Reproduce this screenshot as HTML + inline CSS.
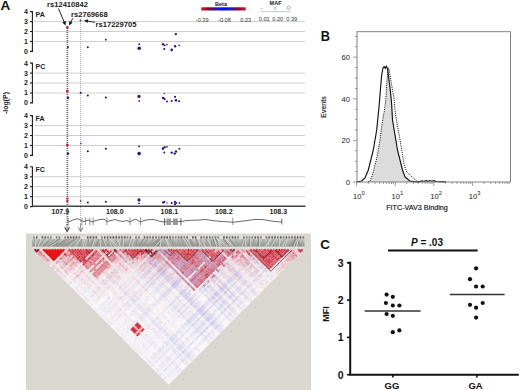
<!DOCTYPE html>
<html><head><meta charset="utf-8"><style>
html,body{margin:0;padding:0;background:#fff;width:520px;height:390px;overflow:hidden}
svg{display:block;font-family:"Liberation Sans",sans-serif}
</style></head><body>
<svg width="520" height="390" viewBox="0 0 520 390">
<rect width="520" height="390" fill="#fff"/>
<text x="0.5" y="10.4" font-size="13.5" font-weight="bold" font-family="Liberation Sans, sans-serif" fill="#111">A</text>
<line x1="34" y1="41.5" x2="305" y2="41.5" stroke="#cfcfcf" stroke-width="1"/>
<line x1="34" y1="31.5" x2="305" y2="31.5" stroke="#cfcfcf" stroke-width="1"/>
<line x1="34" y1="21.6" x2="305" y2="21.6" stroke="#cfcfcf" stroke-width="1"/>
<path d="M30 11.6 H32.4 V51.4 H30" fill="none" stroke="#1a1a1a" stroke-width="1.1"/>
<line x1="30" y1="41.5" x2="32.4" y2="41.5" stroke="#1a1a1a" stroke-width="1.1"/>
<line x1="30" y1="31.5" x2="32.4" y2="31.5" stroke="#1a1a1a" stroke-width="1.1"/>
<line x1="30" y1="21.6" x2="32.4" y2="21.6" stroke="#1a1a1a" stroke-width="1.1"/>
<text x="28" y="53.8" font-size="7" font-weight="bold" text-anchor="end" font-family="Liberation Sans, sans-serif" fill="#222">0</text>
<text x="28" y="43.9" font-size="7" font-weight="bold" text-anchor="end" font-family="Liberation Sans, sans-serif" fill="#222">1</text>
<text x="28" y="33.9" font-size="7" font-weight="bold" text-anchor="end" font-family="Liberation Sans, sans-serif" fill="#222">2</text>
<text x="28" y="23.9" font-size="7" font-weight="bold" text-anchor="end" font-family="Liberation Sans, sans-serif" fill="#222">3</text>
<text x="28" y="14.0" font-size="7" font-weight="bold" text-anchor="end" font-family="Liberation Sans, sans-serif" fill="#222">4</text>
<text x="35.5" y="17.0" font-size="7" font-weight="bold" font-family="Liberation Sans, sans-serif" fill="#1a1a1a">PA</text>
<line x1="34" y1="93.0" x2="305" y2="93.0" stroke="#cfcfcf" stroke-width="1"/>
<line x1="34" y1="83.0" x2="305" y2="83.0" stroke="#cfcfcf" stroke-width="1"/>
<line x1="34" y1="73.1" x2="305" y2="73.1" stroke="#cfcfcf" stroke-width="1"/>
<path d="M30 63.1 H32.4 V102.9 H30" fill="none" stroke="#1a1a1a" stroke-width="1.1"/>
<line x1="30" y1="93.0" x2="32.4" y2="93.0" stroke="#1a1a1a" stroke-width="1.1"/>
<line x1="30" y1="83.0" x2="32.4" y2="83.0" stroke="#1a1a1a" stroke-width="1.1"/>
<line x1="30" y1="73.1" x2="32.4" y2="73.1" stroke="#1a1a1a" stroke-width="1.1"/>
<text x="28" y="105.3" font-size="7" font-weight="bold" text-anchor="end" font-family="Liberation Sans, sans-serif" fill="#222">0</text>
<text x="28" y="95.4" font-size="7" font-weight="bold" text-anchor="end" font-family="Liberation Sans, sans-serif" fill="#222">1</text>
<text x="28" y="85.4" font-size="7" font-weight="bold" text-anchor="end" font-family="Liberation Sans, sans-serif" fill="#222">2</text>
<text x="28" y="75.5" font-size="7" font-weight="bold" text-anchor="end" font-family="Liberation Sans, sans-serif" fill="#222">3</text>
<text x="28" y="65.5" font-size="7" font-weight="bold" text-anchor="end" font-family="Liberation Sans, sans-serif" fill="#222">4</text>
<text x="35.5" y="68.5" font-size="7" font-weight="bold" font-family="Liberation Sans, sans-serif" fill="#1a1a1a">PC</text>
<line x1="34" y1="145.5" x2="305" y2="145.5" stroke="#cfcfcf" stroke-width="1"/>
<line x1="34" y1="135.5" x2="305" y2="135.5" stroke="#cfcfcf" stroke-width="1"/>
<line x1="34" y1="125.6" x2="305" y2="125.6" stroke="#cfcfcf" stroke-width="1"/>
<path d="M30 115.6 H32.4 V155.4 H30" fill="none" stroke="#1a1a1a" stroke-width="1.1"/>
<line x1="30" y1="145.5" x2="32.4" y2="145.5" stroke="#1a1a1a" stroke-width="1.1"/>
<line x1="30" y1="135.5" x2="32.4" y2="135.5" stroke="#1a1a1a" stroke-width="1.1"/>
<line x1="30" y1="125.6" x2="32.4" y2="125.6" stroke="#1a1a1a" stroke-width="1.1"/>
<text x="28" y="157.8" font-size="7" font-weight="bold" text-anchor="end" font-family="Liberation Sans, sans-serif" fill="#222">0</text>
<text x="28" y="147.9" font-size="7" font-weight="bold" text-anchor="end" font-family="Liberation Sans, sans-serif" fill="#222">1</text>
<text x="28" y="137.9" font-size="7" font-weight="bold" text-anchor="end" font-family="Liberation Sans, sans-serif" fill="#222">2</text>
<text x="28" y="128.0" font-size="7" font-weight="bold" text-anchor="end" font-family="Liberation Sans, sans-serif" fill="#222">3</text>
<text x="28" y="118.0" font-size="7" font-weight="bold" text-anchor="end" font-family="Liberation Sans, sans-serif" fill="#222">4</text>
<text x="35.5" y="121.0" font-size="7" font-weight="bold" font-family="Liberation Sans, sans-serif" fill="#1a1a1a">FA</text>
<line x1="34" y1="196.7" x2="305" y2="196.7" stroke="#cfcfcf" stroke-width="1"/>
<line x1="34" y1="186.7" x2="305" y2="186.7" stroke="#cfcfcf" stroke-width="1"/>
<line x1="34" y1="176.8" x2="305" y2="176.8" stroke="#cfcfcf" stroke-width="1"/>
<path d="M30 166.8 H32.4 V206.6 H30" fill="none" stroke="#1a1a1a" stroke-width="1.1"/>
<line x1="30" y1="196.7" x2="32.4" y2="196.7" stroke="#1a1a1a" stroke-width="1.1"/>
<line x1="30" y1="186.7" x2="32.4" y2="186.7" stroke="#1a1a1a" stroke-width="1.1"/>
<line x1="30" y1="176.8" x2="32.4" y2="176.8" stroke="#1a1a1a" stroke-width="1.1"/>
<text x="28" y="209.0" font-size="7" font-weight="bold" text-anchor="end" font-family="Liberation Sans, sans-serif" fill="#222">0</text>
<text x="28" y="199.1" font-size="7" font-weight="bold" text-anchor="end" font-family="Liberation Sans, sans-serif" fill="#222">1</text>
<text x="28" y="189.1" font-size="7" font-weight="bold" text-anchor="end" font-family="Liberation Sans, sans-serif" fill="#222">2</text>
<text x="28" y="179.2" font-size="7" font-weight="bold" text-anchor="end" font-family="Liberation Sans, sans-serif" fill="#222">3</text>
<text x="28" y="169.2" font-size="7" font-weight="bold" text-anchor="end" font-family="Liberation Sans, sans-serif" fill="#222">4</text>
<text x="35.5" y="172.2" font-size="7" font-weight="bold" font-family="Liberation Sans, sans-serif" fill="#1a1a1a">FC</text>
<line x1="32" y1="206.2" x2="305.5" y2="206.2" stroke="#444" stroke-width="1.6"/>
<text x="60.3" y="214" font-size="7" font-weight="bold" text-anchor="middle" font-family="Liberation Sans, sans-serif" fill="#222">107.9</text>
<text x="114.8" y="214" font-size="7" font-weight="bold" text-anchor="middle" font-family="Liberation Sans, sans-serif" fill="#222">108.0</text>
<text x="169.3" y="214" font-size="7" font-weight="bold" text-anchor="middle" font-family="Liberation Sans, sans-serif" fill="#222">108.1</text>
<text x="223.8" y="214" font-size="7" font-weight="bold" text-anchor="middle" font-family="Liberation Sans, sans-serif" fill="#222">108.2</text>
<text x="278.3" y="214" font-size="7" font-weight="bold" text-anchor="middle" font-family="Liberation Sans, sans-serif" fill="#222">108.3</text>
<text transform="translate(8.3,103) rotate(-90)" font-size="7" font-weight="bold" text-anchor="middle" font-family="Liberation Sans, sans-serif" fill="#222">-log(P)</text>
<line x1="67.4" y1="26" x2="67.4" y2="226" stroke="#6a6a6a" stroke-width="1.7" stroke-dasharray="1,1"/>
<line x1="80.5" y1="19" x2="80.5" y2="226" stroke="#777" stroke-width="0.6" stroke-dasharray="1,1"/>
<text x="47" y="7.3" font-size="7.6" font-weight="bold" font-family="Liberation Sans, sans-serif" fill="#1a1a1a">rs12410842</text>
<text x="71" y="16.6" font-size="7.6" font-weight="bold" font-family="Liberation Sans, sans-serif" fill="#1a1a1a">rs2769668</text>
<text x="95.5" y="26.6" font-size="7.6" font-weight="bold" font-family="Liberation Sans, sans-serif" fill="#1a1a1a">rs17229705</text>
<line x1="58.5" y1="8.5" x2="64.28" y2="22.27" stroke="#111" stroke-width="0.9"/>
<path d="M65.60 25.40 L62.34 22.54 L65.84 21.07 Z" fill="#111"/>
<line x1="72.8" y1="18.3" x2="70.67" y2="22.38" stroke="#111" stroke-width="0.9"/>
<path d="M69.10 25.40 L69.22 21.06 L72.59 22.82 Z" fill="#111"/>
<line x1="95" y1="22.3" x2="87.36" y2="21.05" stroke="#111" stroke-width="0.9"/>
<path d="M84.00 20.50 L88.16 19.25 L87.54 23.00 Z" fill="#111"/>
<text x="221" y="5.6" font-size="5.6" font-weight="bold" text-anchor="middle" font-family="Liberation Sans, sans-serif" fill="#222">Beta</text>
<defs><linearGradient id="bg" x1="0" x2="1"><stop offset="0" stop-color="#e0101a"/><stop offset="0.18" stop-color="#7a0838"/><stop offset="0.36" stop-color="#1818c8"/><stop offset="0.5" stop-color="#0a0af0"/><stop offset="0.64" stop-color="#1818c8"/><stop offset="0.82" stop-color="#7a0838"/><stop offset="1" stop-color="#e0101a"/></linearGradient></defs>
<rect x="201.3" y="7.3" width="44.4" height="3.2" fill="url(#bg)"/>
<line x1="201.6" y1="10.4" x2="201.6" y2="12" stroke="#999" stroke-width="0.4"/>
<line x1="222.8" y1="10.4" x2="222.8" y2="12" stroke="#999" stroke-width="0.4"/>
<line x1="245.2" y1="10.4" x2="245.2" y2="12" stroke="#999" stroke-width="0.4"/>
<text x="202.2" y="22" font-size="5.6" text-anchor="middle" font-family="Liberation Sans, sans-serif" fill="#333">-0.39</text>
<text x="224.4" y="22" font-size="5.6" text-anchor="middle" font-family="Liberation Sans, sans-serif" fill="#333">-0.08</text>
<text x="245.8" y="22" font-size="5.6" text-anchor="middle" font-family="Liberation Sans, sans-serif" fill="#333">0.23</text>
<text x="275.6" y="5.1" font-size="5.6" font-weight="bold" text-anchor="middle" font-family="Liberation Sans, sans-serif" fill="#222">MAF</text>
<line x1="261" y1="11.6" x2="289.5" y2="11.6" stroke="#999" stroke-width="0.5"/>
<line x1="261.3" y1="10.8" x2="261.3" y2="12.4" stroke="#999" stroke-width="0.4"/>
<line x1="275.1" y1="10.8" x2="275.1" y2="12.4" stroke="#999" stroke-width="0.4"/>
<line x1="289" y1="10.8" x2="289" y2="12.4" stroke="#999" stroke-width="0.4"/>
<circle cx="261.3" cy="8.5" r="0.6" fill="none" stroke="#888" stroke-width="0.4"/>
<circle cx="275.1" cy="8.3" r="1" fill="none" stroke="#888" stroke-width="0.45"/>
<circle cx="288.7" cy="7.6" r="1.6" fill="none" stroke="#666" stroke-width="0.5"/>
<text x="264.2" y="20.8" font-size="5.6" text-anchor="middle" font-family="Liberation Sans, sans-serif" fill="#333">0.01</text>
<text x="277.8" y="20.8" font-size="5.6" text-anchor="middle" font-family="Liberation Sans, sans-serif" fill="#333">0.20</text>
<text x="291.8" y="20.8" font-size="5.6" text-anchor="middle" font-family="Liberation Sans, sans-serif" fill="#333">0.39</text>
<circle cx="67.3" cy="27.4" r="1.25" fill="#b81830"/>
<circle cx="80.5" cy="20.5" r="0.95" fill="#a02038"/>
<circle cx="68" cy="47" r="1.1" fill="#28187f"/>
<circle cx="87.8" cy="47.2" r="1.0" fill="#28187f"/>
<circle cx="105.8" cy="39.7" r="0.9" fill="#1c1450"/>
<circle cx="139.2" cy="44.2" r="0.9" fill="#1c1450"/>
<circle cx="139.2" cy="48.3" r="1.8" fill="#28187f"/>
<circle cx="163" cy="44.2" r="1.2" fill="#28187f"/>
<circle cx="164.7" cy="45.3" r="0.9" fill="#1c1450"/>
<circle cx="167" cy="44.6" r="0.85" fill="#5a2838"/>
<circle cx="164.3" cy="49" r="1.1" fill="#28187f"/>
<circle cx="171.7" cy="49.9" r="1.3" fill="#28187f"/>
<circle cx="175.1" cy="46.2" r="1.2" fill="#28187f"/>
<circle cx="179.1" cy="45.3" r="0.9" fill="#5a2838"/>
<circle cx="175.8" cy="34.1" r="1.2" fill="#28187f"/>
<circle cx="67.3" cy="91" r="1.4" fill="#d0203a"/>
<circle cx="68" cy="98" r="1.2" fill="#28187f"/>
<circle cx="80.7" cy="93" r="1.0" fill="#1c1450"/>
<circle cx="87.8" cy="95.4" r="1.0" fill="#1c1450"/>
<circle cx="105.8" cy="97.4" r="1.0" fill="#1c1450"/>
<circle cx="139" cy="96.4" r="1.6" fill="#28187f"/>
<circle cx="139.2" cy="101.1" r="0.9" fill="#28187f"/>
<circle cx="164.3" cy="93.5" r="0.8" fill="#5a2838"/>
<circle cx="163" cy="97.9" r="1.2" fill="#28187f"/>
<circle cx="164.5" cy="98.9" r="1.1" fill="#28187f"/>
<circle cx="167" cy="101.5" r="1.0" fill="#28187f"/>
<circle cx="171.7" cy="101.1" r="1.0" fill="#28187f"/>
<circle cx="175" cy="96.8" r="1.1" fill="#28187f"/>
<circle cx="176" cy="100.2" r="1.3" fill="#28187f"/>
<circle cx="179.1" cy="101.3" r="1.0" fill="#28187f"/>
<circle cx="67.3" cy="144.9" r="1.4" fill="#d0203a"/>
<circle cx="80.8" cy="143.5" r="0.9" fill="#d0203a"/>
<circle cx="87.8" cy="151.2" r="1.0" fill="#1c1450"/>
<circle cx="105.8" cy="148.8" r="1.0" fill="#1c1450"/>
<circle cx="68" cy="153.8" r="1.2" fill="#28187f"/>
<circle cx="139.1" cy="146.4" r="0.9" fill="#28187f"/>
<circle cx="139.1" cy="153.6" r="1.8" fill="#28187f"/>
<circle cx="163" cy="148.6" r="1.3" fill="#28187f"/>
<circle cx="164.7" cy="147.2" r="1.1" fill="#28187f"/>
<circle cx="167" cy="146.8" r="0.9" fill="#5a2838"/>
<circle cx="164.3" cy="152.5" r="1.0" fill="#28187f"/>
<circle cx="171.7" cy="152.6" r="1.2" fill="#28187f"/>
<circle cx="174.7" cy="153.6" r="1.2" fill="#28187f"/>
<circle cx="176" cy="151.5" r="1.2" fill="#28187f"/>
<circle cx="179.4" cy="148.8" r="1.05" fill="#302838"/>
<circle cx="67.3" cy="198.6" r="1.2" fill="#d0203a"/>
<circle cx="67.3" cy="200.9" r="1.2" fill="#d0203a"/>
<circle cx="80.7" cy="200.8" r="0.9" fill="#d0203a"/>
<circle cx="87.8" cy="202.5" r="1.0" fill="#1c1450"/>
<circle cx="105.8" cy="201.7" r="1.0" fill="#1c1450"/>
<circle cx="139" cy="199.9" r="1.6" fill="#28187f"/>
<circle cx="139" cy="203.3" r="0.9" fill="#28187f"/>
<circle cx="163" cy="202.5" r="1.1" fill="#28187f"/>
<circle cx="164.3" cy="201.9" r="1.1" fill="#28187f"/>
<circle cx="167" cy="202.9" r="0.7" fill="#28187f"/>
<circle cx="171.7" cy="202.9" r="1.0" fill="#28187f"/>
<circle cx="175" cy="201.9" r="1.1" fill="#28187f"/>
<circle cx="175" cy="204.2" r="1.1" fill="#28187f"/>
<circle cx="176.4" cy="202.9" r="0.9" fill="#28187f"/>
<circle cx="179.4" cy="203.1" r="0.9" fill="#28187f"/>
<polyline points="67,220.5 70,221.5 74,219.5 78,218.8 81,220.5 84,221.5 88,220 92,221.8 96,220.5 100,219.5 104,219.2 107,221.5 111,220.5 115,219.5 119,220.8 123,221.5 127,220.5 130,222 133,220.2 136,219.2 140,222 144,220.5 148,219.8 152,219.5 156,220 160,221.5 163,221.8 182,221.5 186,220.5 200,220 205,219.4 212,220.5 220,221.4 228,221.8 233,222.3 240,221.4 248,220.5 254,219.5 262,219.5 270,220.8 276,221.6 282,222" fill="none" stroke="#444" stroke-width="0.8"/>
<line x1="68.1" y1="217.5" x2="68.1" y2="225" stroke="#666" stroke-width="0.7"/>
<line x1="81.9" y1="217.5" x2="81.9" y2="225" stroke="#666" stroke-width="0.7"/>
<line x1="85.6" y1="217.5" x2="85.6" y2="225" stroke="#666" stroke-width="0.7"/>
<line x1="89.8" y1="217.5" x2="89.8" y2="225" stroke="#666" stroke-width="0.7"/>
<line x1="93.1" y1="217.5" x2="93.1" y2="225" stroke="#666" stroke-width="0.7"/>
<line x1="106.9" y1="217.5" x2="106.9" y2="225" stroke="#666" stroke-width="0.7"/>
<line x1="130" y1="217.5" x2="130" y2="225" stroke="#666" stroke-width="0.7"/>
<line x1="140.5" y1="217.5" x2="140.5" y2="225" stroke="#666" stroke-width="0.7"/>
<line x1="232.8" y1="217.5" x2="232.8" y2="225" stroke="#666" stroke-width="0.7"/>
<rect x="166.3" y="218.6" width="4.8" height="6.4" fill="#a4a4a4"/>
<rect x="172.8" y="218.6" width="5" height="6.4" fill="#a0a0a0"/>
<rect x="167.5" y="218.6" width="0.7" height="6.4" fill="#888"/>
<rect x="169.6" y="218.6" width="0.7" height="6.4" fill="#888"/>
<rect x="174" y="218.6" width="0.7" height="6.4" fill="#888"/>
<rect x="176.3" y="218.6" width="0.7" height="6.4" fill="#888"/>
<line x1="164.6" y1="218.2" x2="164.6" y2="225.4" stroke="#444" stroke-width="0.9"/>
<line x1="180.9" y1="218.2" x2="180.9" y2="225.4" stroke="#444" stroke-width="0.9"/>
<line x1="281.8" y1="218.5" x2="281.8" y2="224.5" stroke="#444" stroke-width="0.8"/>
<line x1="67.1" y1="224" x2="67.1" y2="231" stroke="#555" stroke-width="0.8"/>
<path d="M64.69999999999999 227.3 L67.1 231.5 L69.5 227.3" fill="none" stroke="#555" stroke-width="1.3"/>
<line x1="80.7" y1="224" x2="80.7" y2="231" stroke="#6a6a6a" stroke-width="0.8"/>
<path d="M78.3 227.3 L80.7 231.5 L83.10000000000001 227.3" fill="none" stroke="#6a6a6a" stroke-width="0.9"/>
<rect x="26" y="233.5" width="285" height="157" fill="#dad6d0"/>
<defs><clipPath id="bandc"><rect x="31.7" y="238.8" width="273" height="8"/></clipPath></defs>
<rect x="31.7" y="236" width="273" height="2.8" fill="#e2e2de"/>
<g clip-path="url(#bandc)">
<defs><linearGradient id="bandg" x1="0" y1="0" x2="0" y2="1"><stop offset="0" stop-color="#c6c8c4"/><stop offset="1" stop-color="#8e908c"/></linearGradient></defs>
<rect x="31.7" y="238.8" width="273" height="8" fill="url(#bandg)"/>
<line x1="34.9" y1="238.8" x2="33.9" y2="246.8" stroke="#a4a6a4" stroke-width="1.1"/>
<line x1="39.7" y1="238.8" x2="36.8" y2="246.8" stroke="#98a89c" stroke-width="1.1"/>
<line x1="44.7" y1="238.8" x2="39.6" y2="246.8" stroke="#a8949c" stroke-width="1.1"/>
<line x1="50.8" y1="238.8" x2="42.4" y2="246.8" stroke="#969a96" stroke-width="1.1"/>
<line x1="55.0" y1="238.8" x2="45.3" y2="246.8" stroke="#a4a6a4" stroke-width="1.1"/>
<line x1="60.6" y1="238.8" x2="48.1" y2="246.8" stroke="#8a8e8a" stroke-width="1.1"/>
<line x1="58.7" y1="238.8" x2="50.9" y2="246.8" stroke="#8a8e8a" stroke-width="1.1"/>
<line x1="60.8" y1="238.8" x2="53.8" y2="246.8" stroke="#868886" stroke-width="1.1"/>
<line x1="66.7" y1="238.8" x2="56.6" y2="246.8" stroke="#868886" stroke-width="1.1"/>
<line x1="70.1" y1="238.8" x2="59.4" y2="246.8" stroke="#a8949c" stroke-width="1.1"/>
<line x1="75.4" y1="238.8" x2="62.3" y2="246.8" stroke="#8a8e8a" stroke-width="1.1"/>
<line x1="74.2" y1="238.8" x2="65.1" y2="246.8" stroke="#969a96" stroke-width="1.1"/>
<line x1="76.1" y1="238.8" x2="68.0" y2="246.8" stroke="#a4a6a4" stroke-width="1.1"/>
<line x1="76.3" y1="238.8" x2="70.8" y2="246.8" stroke="#868886" stroke-width="1.1"/>
<line x1="79.1" y1="238.8" x2="73.6" y2="246.8" stroke="#98a89c" stroke-width="1.1"/>
<line x1="82.2" y1="238.8" x2="76.5" y2="246.8" stroke="#98a89c" stroke-width="1.1"/>
<line x1="80.6" y1="238.8" x2="79.3" y2="246.8" stroke="#a8949c" stroke-width="1.1"/>
<line x1="81.1" y1="238.8" x2="82.1" y2="246.8" stroke="#a4a6a4" stroke-width="1.1"/>
<line x1="82.2" y1="238.8" x2="85.0" y2="246.8" stroke="#a8949c" stroke-width="1.1"/>
<line x1="88.6" y1="238.8" x2="87.8" y2="246.8" stroke="#969a96" stroke-width="1.1"/>
<line x1="93.6" y1="238.8" x2="90.6" y2="246.8" stroke="#8a8e8a" stroke-width="1.1"/>
<line x1="93.4" y1="238.8" x2="93.5" y2="246.8" stroke="#a4a6a4" stroke-width="1.1"/>
<line x1="98.7" y1="238.8" x2="96.3" y2="246.8" stroke="#8a8e8a" stroke-width="1.1"/>
<line x1="98.4" y1="238.8" x2="99.2" y2="246.8" stroke="#a8949c" stroke-width="1.1"/>
<line x1="102.3" y1="238.8" x2="102.0" y2="246.8" stroke="#98a89c" stroke-width="1.1"/>
<line x1="102.0" y1="238.8" x2="104.8" y2="246.8" stroke="#969a96" stroke-width="1.1"/>
<line x1="101.0" y1="238.8" x2="107.7" y2="246.8" stroke="#969a96" stroke-width="1.1"/>
<line x1="107.3" y1="238.8" x2="110.5" y2="246.8" stroke="#a4a6a4" stroke-width="1.1"/>
<line x1="108.0" y1="238.8" x2="113.3" y2="246.8" stroke="#868886" stroke-width="1.1"/>
<line x1="108.9" y1="238.8" x2="116.2" y2="246.8" stroke="#969a96" stroke-width="1.1"/>
<line x1="116.2" y1="238.8" x2="119.0" y2="246.8" stroke="#a4a6a4" stroke-width="1.1"/>
<line x1="122.3" y1="238.8" x2="121.8" y2="246.8" stroke="#a8949c" stroke-width="1.1"/>
<line x1="123.3" y1="238.8" x2="124.7" y2="246.8" stroke="#8a8e8a" stroke-width="1.1"/>
<line x1="130.1" y1="238.8" x2="127.5" y2="246.8" stroke="#969a96" stroke-width="1.1"/>
<line x1="133.0" y1="238.8" x2="130.4" y2="246.8" stroke="#a8949c" stroke-width="1.1"/>
<line x1="137.1" y1="238.8" x2="133.2" y2="246.8" stroke="#98a89c" stroke-width="1.1"/>
<line x1="137.3" y1="238.8" x2="136.0" y2="246.8" stroke="#969a96" stroke-width="1.1"/>
<line x1="143.6" y1="238.8" x2="138.9" y2="246.8" stroke="#8a8e8a" stroke-width="1.1"/>
<line x1="147.7" y1="238.8" x2="141.7" y2="246.8" stroke="#a8949c" stroke-width="1.1"/>
<line x1="153.9" y1="238.8" x2="144.5" y2="246.8" stroke="#98a89c" stroke-width="1.1"/>
<line x1="159.3" y1="238.8" x2="147.4" y2="246.8" stroke="#969a96" stroke-width="1.1"/>
<line x1="159.7" y1="238.8" x2="150.2" y2="246.8" stroke="#a8949c" stroke-width="1.1"/>
<line x1="160.7" y1="238.8" x2="153.0" y2="246.8" stroke="#868886" stroke-width="1.1"/>
<line x1="160.3" y1="238.8" x2="155.9" y2="246.8" stroke="#969a96" stroke-width="1.1"/>
<line x1="159.9" y1="238.8" x2="158.7" y2="246.8" stroke="#868886" stroke-width="1.1"/>
<line x1="159.1" y1="238.8" x2="161.6" y2="246.8" stroke="#a8949c" stroke-width="1.1"/>
<line x1="160.5" y1="238.8" x2="164.4" y2="246.8" stroke="#a8949c" stroke-width="1.1"/>
<line x1="164.4" y1="238.8" x2="167.2" y2="246.8" stroke="#a4a6a4" stroke-width="1.1"/>
<line x1="163.4" y1="238.8" x2="170.1" y2="246.8" stroke="#a4a6a4" stroke-width="1.1"/>
<line x1="168.2" y1="238.8" x2="172.9" y2="246.8" stroke="#98a89c" stroke-width="1.1"/>
<line x1="170.0" y1="238.8" x2="175.7" y2="246.8" stroke="#a8949c" stroke-width="1.1"/>
<line x1="171.7" y1="238.8" x2="178.6" y2="246.8" stroke="#98a89c" stroke-width="1.1"/>
<line x1="177.6" y1="238.8" x2="181.4" y2="246.8" stroke="#98a89c" stroke-width="1.1"/>
<line x1="180.6" y1="238.8" x2="184.3" y2="246.8" stroke="#a8949c" stroke-width="1.1"/>
<line x1="182.2" y1="238.8" x2="187.1" y2="246.8" stroke="#a8949c" stroke-width="1.1"/>
<line x1="185.2" y1="238.8" x2="189.9" y2="246.8" stroke="#969a96" stroke-width="1.1"/>
<line x1="190.0" y1="238.8" x2="192.8" y2="246.8" stroke="#8a8e8a" stroke-width="1.1"/>
<line x1="189.4" y1="238.8" x2="195.6" y2="246.8" stroke="#a8949c" stroke-width="1.1"/>
<line x1="196.6" y1="238.8" x2="198.4" y2="246.8" stroke="#868886" stroke-width="1.1"/>
<line x1="195.6" y1="238.8" x2="201.3" y2="246.8" stroke="#969a96" stroke-width="1.1"/>
<line x1="200.9" y1="238.8" x2="204.1" y2="246.8" stroke="#a4a6a4" stroke-width="1.1"/>
<line x1="206.8" y1="238.8" x2="206.9" y2="246.8" stroke="#a8949c" stroke-width="1.1"/>
<line x1="205.7" y1="238.8" x2="209.8" y2="246.8" stroke="#98a89c" stroke-width="1.1"/>
<line x1="211.2" y1="238.8" x2="212.6" y2="246.8" stroke="#969a96" stroke-width="1.1"/>
<line x1="213.0" y1="238.8" x2="215.5" y2="246.8" stroke="#8a8e8a" stroke-width="1.1"/>
<line x1="216.7" y1="238.8" x2="218.3" y2="246.8" stroke="#a8949c" stroke-width="1.1"/>
<line x1="215.6" y1="238.8" x2="221.1" y2="246.8" stroke="#98a89c" stroke-width="1.1"/>
<line x1="215.1" y1="238.8" x2="224.0" y2="246.8" stroke="#868886" stroke-width="1.1"/>
<line x1="216.0" y1="238.8" x2="226.8" y2="246.8" stroke="#868886" stroke-width="1.1"/>
<line x1="223.3" y1="238.8" x2="229.6" y2="246.8" stroke="#868886" stroke-width="1.1"/>
<line x1="224.1" y1="238.8" x2="232.5" y2="246.8" stroke="#98a89c" stroke-width="1.1"/>
<line x1="229.6" y1="238.8" x2="235.3" y2="246.8" stroke="#8a8e8a" stroke-width="1.1"/>
<line x1="236.3" y1="238.8" x2="238.1" y2="246.8" stroke="#98a89c" stroke-width="1.1"/>
<line x1="242.9" y1="238.8" x2="241.0" y2="246.8" stroke="#a4a6a4" stroke-width="1.1"/>
<line x1="244.4" y1="238.8" x2="243.8" y2="246.8" stroke="#868886" stroke-width="1.1"/>
<line x1="246.0" y1="238.8" x2="246.7" y2="246.8" stroke="#a4a6a4" stroke-width="1.1"/>
<line x1="249.1" y1="238.8" x2="249.5" y2="246.8" stroke="#8a8e8a" stroke-width="1.1"/>
<line x1="254.2" y1="238.8" x2="252.3" y2="246.8" stroke="#98a89c" stroke-width="1.1"/>
<line x1="253.7" y1="238.8" x2="255.2" y2="246.8" stroke="#98a89c" stroke-width="1.1"/>
<line x1="258.6" y1="238.8" x2="258.0" y2="246.8" stroke="#868886" stroke-width="1.1"/>
<line x1="263.9" y1="238.8" x2="260.8" y2="246.8" stroke="#a4a6a4" stroke-width="1.1"/>
<line x1="269.4" y1="238.8" x2="263.7" y2="246.8" stroke="#a4a6a4" stroke-width="1.1"/>
<line x1="268.1" y1="238.8" x2="266.5" y2="246.8" stroke="#98a89c" stroke-width="1.1"/>
<line x1="274.5" y1="238.8" x2="269.3" y2="246.8" stroke="#a8949c" stroke-width="1.1"/>
<line x1="273.6" y1="238.8" x2="272.2" y2="246.8" stroke="#98a89c" stroke-width="1.1"/>
<line x1="275.0" y1="238.8" x2="275.0" y2="246.8" stroke="#a4a6a4" stroke-width="1.1"/>
<line x1="278.8" y1="238.8" x2="277.9" y2="246.8" stroke="#a4a6a4" stroke-width="1.1"/>
<line x1="285.0" y1="238.8" x2="280.7" y2="246.8" stroke="#98a89c" stroke-width="1.1"/>
<line x1="286.2" y1="238.8" x2="283.5" y2="246.8" stroke="#98a89c" stroke-width="1.1"/>
<line x1="292.3" y1="238.8" x2="286.4" y2="246.8" stroke="#a4a6a4" stroke-width="1.1"/>
<line x1="295.1" y1="238.8" x2="289.2" y2="246.8" stroke="#969a96" stroke-width="1.1"/>
<line x1="296.0" y1="238.8" x2="292.0" y2="246.8" stroke="#868886" stroke-width="1.1"/>
<line x1="297.0" y1="238.8" x2="294.9" y2="246.8" stroke="#8a8e8a" stroke-width="1.1"/>
<line x1="297.1" y1="238.8" x2="297.7" y2="246.8" stroke="#a8949c" stroke-width="1.1"/>
<line x1="296.5" y1="238.8" x2="300.5" y2="246.8" stroke="#868886" stroke-width="1.1"/>
<line x1="296.8" y1="238.8" x2="303.4" y2="246.8" stroke="#98a89c" stroke-width="1.1"/>
<line x1="36.3" y1="238.8" x2="35.3" y2="246.8" stroke="#cedad2" stroke-width="0.9"/>
<line x1="41.1" y1="238.8" x2="38.2" y2="246.8" stroke="#cedad2" stroke-width="0.9"/>
<line x1="46.1" y1="238.8" x2="41.0" y2="246.8" stroke="#cedad2" stroke-width="0.9"/>
<line x1="62.1" y1="238.8" x2="49.5" y2="246.8" stroke="#d0d2ce" stroke-width="0.9"/>
<line x1="77.6" y1="238.8" x2="69.4" y2="246.8" stroke="#cedad2" stroke-width="0.9"/>
<line x1="80.6" y1="238.8" x2="75.0" y2="246.8" stroke="#dcdedA" stroke-width="0.9"/>
<line x1="82.5" y1="238.8" x2="83.6" y2="246.8" stroke="#dacdd2" stroke-width="0.9"/>
<line x1="83.6" y1="238.8" x2="86.4" y2="246.8" stroke="#cedad2" stroke-width="0.9"/>
<line x1="95.0" y1="238.8" x2="92.1" y2="246.8" stroke="#d0d2ce" stroke-width="0.9"/>
<line x1="99.8" y1="238.8" x2="100.6" y2="246.8" stroke="#d0d2ce" stroke-width="0.9"/>
<line x1="103.4" y1="238.8" x2="106.2" y2="246.8" stroke="#dacdd2" stroke-width="0.9"/>
<line x1="108.7" y1="238.8" x2="111.9" y2="246.8" stroke="#d0d2ce" stroke-width="0.9"/>
<line x1="109.4" y1="238.8" x2="114.8" y2="246.8" stroke="#d0d2ce" stroke-width="0.9"/>
<line x1="110.3" y1="238.8" x2="117.6" y2="246.8" stroke="#dcdedA" stroke-width="0.9"/>
<line x1="117.6" y1="238.8" x2="120.4" y2="246.8" stroke="#cedad2" stroke-width="0.9"/>
<line x1="123.7" y1="238.8" x2="123.3" y2="246.8" stroke="#dcdedA" stroke-width="0.9"/>
<line x1="131.5" y1="238.8" x2="128.9" y2="246.8" stroke="#cedad2" stroke-width="0.9"/>
<line x1="134.4" y1="238.8" x2="131.8" y2="246.8" stroke="#dacdd2" stroke-width="0.9"/>
<line x1="162.1" y1="238.8" x2="154.5" y2="246.8" stroke="#cedad2" stroke-width="0.9"/>
<line x1="161.3" y1="238.8" x2="160.1" y2="246.8" stroke="#cedad2" stroke-width="0.9"/>
<line x1="165.9" y1="238.8" x2="168.7" y2="246.8" stroke="#cedad2" stroke-width="0.9"/>
<line x1="164.8" y1="238.8" x2="171.5" y2="246.8" stroke="#d0d2ce" stroke-width="0.9"/>
<line x1="183.6" y1="238.8" x2="188.5" y2="246.8" stroke="#dcdedA" stroke-width="0.9"/>
<line x1="186.6" y1="238.8" x2="191.3" y2="246.8" stroke="#cedad2" stroke-width="0.9"/>
<line x1="198.0" y1="238.8" x2="199.9" y2="246.8" stroke="#dacdd2" stroke-width="0.9"/>
<line x1="197.1" y1="238.8" x2="202.7" y2="246.8" stroke="#d0d2ce" stroke-width="0.9"/>
<line x1="202.3" y1="238.8" x2="205.5" y2="246.8" stroke="#dacdd2" stroke-width="0.9"/>
<line x1="207.1" y1="238.8" x2="211.2" y2="246.8" stroke="#d0d2ce" stroke-width="0.9"/>
<line x1="214.4" y1="238.8" x2="216.9" y2="246.8" stroke="#cedad2" stroke-width="0.9"/>
<line x1="218.1" y1="238.8" x2="219.7" y2="246.8" stroke="#dacdd2" stroke-width="0.9"/>
<line x1="217.0" y1="238.8" x2="222.5" y2="246.8" stroke="#cedad2" stroke-width="0.9"/>
<line x1="216.5" y1="238.8" x2="225.4" y2="246.8" stroke="#cedad2" stroke-width="0.9"/>
<line x1="217.4" y1="238.8" x2="228.2" y2="246.8" stroke="#dcdedA" stroke-width="0.9"/>
<line x1="224.7" y1="238.8" x2="231.1" y2="246.8" stroke="#dacdd2" stroke-width="0.9"/>
<line x1="225.5" y1="238.8" x2="233.9" y2="246.8" stroke="#dcdedA" stroke-width="0.9"/>
<line x1="244.3" y1="238.8" x2="242.4" y2="246.8" stroke="#cedad2" stroke-width="0.9"/>
<line x1="245.8" y1="238.8" x2="245.2" y2="246.8" stroke="#dacdd2" stroke-width="0.9"/>
<line x1="250.5" y1="238.8" x2="250.9" y2="246.8" stroke="#cedad2" stroke-width="0.9"/>
<line x1="260.1" y1="238.8" x2="259.4" y2="246.8" stroke="#dacdd2" stroke-width="0.9"/>
<line x1="270.9" y1="238.8" x2="265.1" y2="246.8" stroke="#dcdedA" stroke-width="0.9"/>
<line x1="269.5" y1="238.8" x2="267.9" y2="246.8" stroke="#d0d2ce" stroke-width="0.9"/>
<line x1="275.9" y1="238.8" x2="270.8" y2="246.8" stroke="#cedad2" stroke-width="0.9"/>
<line x1="280.2" y1="238.8" x2="279.3" y2="246.8" stroke="#cedad2" stroke-width="0.9"/>
<line x1="286.4" y1="238.8" x2="282.1" y2="246.8" stroke="#d0d2ce" stroke-width="0.9"/>
<line x1="287.6" y1="238.8" x2="284.9" y2="246.8" stroke="#cedad2" stroke-width="0.9"/>
<line x1="297.4" y1="238.8" x2="293.5" y2="246.8" stroke="#d0d2ce" stroke-width="0.9"/>
<line x1="298.5" y1="238.8" x2="296.3" y2="246.8" stroke="#dacdd2" stroke-width="0.9"/>
</g>
<rect x="31.7" y="246.8" width="273" height="1.8" fill="#e4e2de"/>
<rect x="33.1" y="236.4" width="1.6" height="2.1" fill="#777777"/>
<rect x="36.0" y="236.4" width="1.6" height="2.1" fill="#555555"/>
<rect x="41.6" y="236.4" width="1.6" height="2.1" fill="#4a4a4a"/>
<rect x="44.5" y="236.4" width="1.6" height="2.1" fill="#4a4a4a"/>
<rect x="47.3" y="236.4" width="1.6" height="2.1" fill="#777777"/>
<rect x="50.1" y="236.4" width="1.6" height="2.1" fill="#777777"/>
<rect x="55.8" y="236.4" width="1.6" height="2.1" fill="#777777"/>
<rect x="58.6" y="236.4" width="1.6" height="2.1" fill="#777777"/>
<rect x="64.3" y="236.4" width="1.6" height="2.1" fill="#777777"/>
<rect x="67.2" y="236.4" width="1.6" height="2.1" fill="#4a4a4a"/>
<rect x="70.0" y="236.4" width="1.6" height="2.1" fill="#555555"/>
<rect x="72.8" y="236.4" width="1.6" height="2.1" fill="#4a4a4a"/>
<rect x="75.7" y="236.4" width="1.6" height="2.1" fill="#4a4a4a"/>
<rect x="78.5" y="236.4" width="1.6" height="2.1" fill="#777777"/>
<rect x="87.0" y="236.4" width="1.6" height="2.1" fill="#4a4a4a"/>
<rect x="89.8" y="236.4" width="1.6" height="2.1" fill="#4a4a4a"/>
<rect x="92.7" y="236.4" width="1.6" height="2.1" fill="#4a4a4a"/>
<rect x="95.5" y="236.4" width="1.6" height="2.1" fill="#555555"/>
<rect x="101.2" y="236.4" width="1.6" height="2.1" fill="#777777"/>
<rect x="104.0" y="236.4" width="1.6" height="2.1" fill="#555555"/>
<rect x="106.9" y="236.4" width="1.6" height="2.1" fill="#555555"/>
<rect x="109.7" y="236.4" width="1.6" height="2.1" fill="#555555"/>
<rect x="112.5" y="236.4" width="1.6" height="2.1" fill="#4a4a4a"/>
<rect x="115.4" y="236.4" width="1.6" height="2.1" fill="#4a4a4a"/>
<rect x="118.2" y="236.4" width="1.6" height="2.1" fill="#4a4a4a"/>
<rect x="121.0" y="236.4" width="1.6" height="2.1" fill="#555555"/>
<rect x="123.9" y="236.4" width="1.6" height="2.1" fill="#4a4a4a"/>
<rect x="126.7" y="236.4" width="1.6" height="2.1" fill="#777777"/>
<rect x="129.6" y="236.4" width="1.6" height="2.1" fill="#666666"/>
<rect x="135.2" y="236.4" width="1.6" height="2.1" fill="#666666"/>
<rect x="138.1" y="236.4" width="1.6" height="2.1" fill="#666666"/>
<rect x="143.7" y="236.4" width="1.6" height="2.1" fill="#555555"/>
<rect x="146.6" y="236.4" width="1.6" height="2.1" fill="#555555"/>
<rect x="149.4" y="236.4" width="1.6" height="2.1" fill="#666666"/>
<rect x="152.2" y="236.4" width="1.6" height="2.1" fill="#555555"/>
<rect x="155.1" y="236.4" width="1.6" height="2.1" fill="#666666"/>
<rect x="157.9" y="236.4" width="1.6" height="2.1" fill="#777777"/>
<rect x="160.8" y="236.4" width="1.6" height="2.1" fill="#4a4a4a"/>
<rect x="163.6" y="236.4" width="1.6" height="2.1" fill="#4a4a4a"/>
<rect x="166.4" y="236.4" width="1.6" height="2.1" fill="#4a4a4a"/>
<rect x="169.3" y="236.4" width="1.6" height="2.1" fill="#4a4a4a"/>
<rect x="172.1" y="236.4" width="1.6" height="2.1" fill="#777777"/>
<rect x="174.9" y="236.4" width="1.6" height="2.1" fill="#777777"/>
<rect x="177.8" y="236.4" width="1.6" height="2.1" fill="#666666"/>
<rect x="180.6" y="236.4" width="1.6" height="2.1" fill="#4a4a4a"/>
<rect x="183.5" y="236.4" width="1.6" height="2.1" fill="#777777"/>
<rect x="186.3" y="236.4" width="1.6" height="2.1" fill="#555555"/>
<rect x="192.0" y="236.4" width="1.6" height="2.1" fill="#555555"/>
<rect x="194.8" y="236.4" width="1.6" height="2.1" fill="#4a4a4a"/>
<rect x="200.5" y="236.4" width="1.6" height="2.1" fill="#555555"/>
<rect x="203.3" y="236.4" width="1.6" height="2.1" fill="#777777"/>
<rect x="206.1" y="236.4" width="1.6" height="2.1" fill="#555555"/>
<rect x="209.0" y="236.4" width="1.6" height="2.1" fill="#666666"/>
<rect x="211.8" y="236.4" width="1.6" height="2.1" fill="#777777"/>
<rect x="214.7" y="236.4" width="1.6" height="2.1" fill="#666666"/>
<rect x="217.5" y="236.4" width="1.6" height="2.1" fill="#777777"/>
<rect x="223.2" y="236.4" width="1.6" height="2.1" fill="#4a4a4a"/>
<rect x="226.0" y="236.4" width="1.6" height="2.1" fill="#555555"/>
<rect x="228.8" y="236.4" width="1.6" height="2.1" fill="#777777"/>
<rect x="231.7" y="236.4" width="1.6" height="2.1" fill="#4a4a4a"/>
<rect x="234.5" y="236.4" width="1.6" height="2.1" fill="#555555"/>
<rect x="237.3" y="236.4" width="1.6" height="2.1" fill="#777777"/>
<rect x="243.0" y="236.4" width="1.6" height="2.1" fill="#666666"/>
<rect x="245.9" y="236.4" width="1.6" height="2.1" fill="#777777"/>
<rect x="248.7" y="236.4" width="1.6" height="2.1" fill="#777777"/>
<rect x="251.5" y="236.4" width="1.6" height="2.1" fill="#777777"/>
<rect x="254.4" y="236.4" width="1.6" height="2.1" fill="#555555"/>
<rect x="257.2" y="236.4" width="1.6" height="2.1" fill="#4a4a4a"/>
<rect x="260.0" y="236.4" width="1.6" height="2.1" fill="#777777"/>
<rect x="265.7" y="236.4" width="1.6" height="2.1" fill="#666666"/>
<rect x="268.5" y="236.4" width="1.6" height="2.1" fill="#555555"/>
<rect x="271.4" y="236.4" width="1.6" height="2.1" fill="#555555"/>
<rect x="274.2" y="236.4" width="1.6" height="2.1" fill="#4a4a4a"/>
<rect x="277.1" y="236.4" width="1.6" height="2.1" fill="#666666"/>
<rect x="279.9" y="236.4" width="1.6" height="2.1" fill="#4a4a4a"/>
<rect x="282.7" y="236.4" width="1.6" height="2.1" fill="#777777"/>
<rect x="285.6" y="236.4" width="1.6" height="2.1" fill="#555555"/>
<rect x="288.4" y="236.4" width="1.6" height="2.1" fill="#666666"/>
<rect x="291.2" y="236.4" width="1.6" height="2.1" fill="#555555"/>
<rect x="294.1" y="236.4" width="1.6" height="2.1" fill="#555555"/>
<rect x="296.9" y="236.4" width="1.6" height="2.1" fill="#4a4a4a"/>
<rect x="299.7" y="236.4" width="1.6" height="2.1" fill="#4a4a4a"/>
<rect x="302.6" y="236.4" width="1.6" height="2.1" fill="#666666"/>
<defs><filter id="soft" x="-2%" y="-2%" width="104%" height="104%"><feGaussianBlur stdDeviation="0.35"/></filter><clipPath id="triclip"><polygon points="31.5,248.4 305.8,248.4 168.65,385.6"/></clipPath></defs>
<g clip-path="url(#triclip)"><g filter="url(#soft)">
<g transform="translate(32.5,248.6) rotate(45) scale(2.00568)">
<path fill="#8c1e32" d="M1 -1h1v1h-1zM42 -41h1v1h-1zM43 -41h1v1h-1z"/>
<path fill="#8c192d" d="M2 -1h1v1h-1zM2 -2h1v1h-1zM40 -40h1v1h-1zM41 -40h1v1h-1zM44 -42h1v1h-1z"/>
<path fill="#e69ba5" d="M3 -1h1v1h-1zM8 -2h1v1h-1zM31 -14h1v1h-1zM32 -14h1v1h-1zM31 -25h1v1h-1zM95 -89h1v1h-1z"/>
<path fill="#e6919b" d="M4 -1h1v1h-1zM5 -2h1v1h-1zM25 -14h1v1h-1zM24 -15h1v1h-1zM31 -16h1v1h-1zM25 -17h1v1h-1zM26 -17h1v1h-1zM31 -17h1v1h-1zM32 -18h1v1h-1zM25 -20h1v1h-1zM26 -21h1v1h-1zM29 -21h1v1h-1zM32 -21h1v1h-1zM32 -22h1v1h-1zM30 -25h1v1h-1zM32 -31h1v1h-1zM41 -36h1v1h-1z"/>
<path fill="#e6a5af" d="M5 -1h1v1h-1zM14 -12h1v1h-1zM33 -20h1v1h-1zM35 -29h1v1h-1zM34 -31h1v1h-1z"/>
<path fill="#f0bec8" d="M6 -1h1v1h-1zM19 -5h1v1h-1zM20 -9h1v1h-1z"/>
<path fill="#ebafb9" d="M7 -1h1v1h-1zM14 -8h1v1h-1zM25 -10h1v1h-1zM20 -11h1v1h-1zM28 -28h1v1h-1zM72 -72h1v1h-1zM94 -88h1v1h-1z"/>
<path fill="#ebbec8" d="M8 -1h1v1h-1zM17 -4h1v1h-1zM14 -5h1v1h-1zM22 -21h1v1h-1zM33 -22h1v1h-1zM30 -28h1v1h-1zM75 -75h1v1h-1zM94 -93h1v1h-1z"/>
<path fill="#e6b9c8" d="M9 -1h1v1h-1zM17 -6h1v1h-1zM36 -20h1v1h-1zM29 -26h1v1h-1z"/>
<path fill="#f0d7e1" d="M10 -1h1v1h-1zM18 -5h1v1h-1zM30 -10h1v1h-1zM33 -10h1v1h-1zM22 -17h1v1h-1zM40 -20h1v1h-1zM38 -22h1v1h-1zM38 -24h1v1h-1zM36 -27h1v1h-1zM45 -31h1v1h-1zM47 -35h1v1h-1zM81 -68h1v1h-1zM93 -84h1v1h-1z"/>
<path fill="#f0c8d2" d="M11 -1h1v1h-1zM20 -6h1v1h-1zM12 -12h1v1h-1zM27 -21h1v1h-1zM23 -23h1v1h-1zM27 -24h1v1h-1zM50 -41h1v1h-1zM50 -42h1v1h-1zM53 -42h1v1h-1zM79 -70h1v1h-1zM84 -72h1v1h-1zM95 -85h1v1h-1z"/>
<path fill="#faf0f5" d="M12 -1h1v1h-1zM21 -1h1v1h-1zM23 -2h1v1h-1zM32 -2h1v1h-1zM51 -2h1v1h-1zM32 -4h1v1h-1zM12 -5h1v1h-1zM30 -5h1v1h-1zM22 -6h1v1h-1zM22 -7h1v1h-1zM41 -7h1v1h-1zM59 -7h1v1h-1zM60 -7h1v1h-1zM34 -9h1v1h-1zM59 -9h1v1h-1zM33 -11h1v1h-1zM34 -11h1v1h-1zM27 -12h1v1h-1zM41 -13h1v1h-1zM42 -13h1v1h-1zM45 -13h1v1h-1zM50 -13h1v1h-1zM53 -13h1v1h-1zM59 -13h1v1h-1zM60 -13h1v1h-1zM27 -16h1v1h-1zM35 -16h1v1h-1zM39 -16h1v1h-1zM42 -16h1v1h-1zM45 -16h1v1h-1zM35 -19h1v1h-1zM60 -21h1v1h-1zM47 -22h1v1h-1zM53 -22h1v1h-1zM59 -22h1v1h-1zM61 -22h1v1h-1zM67 -22h1v1h-1zM41 -24h1v1h-1zM51 -24h1v1h-1zM53 -24h1v1h-1zM50 -25h1v1h-1zM51 -25h1v1h-1zM60 -26h1v1h-1zM64 -26h1v1h-1zM67 -26h1v1h-1zM43 -27h1v1h-1zM47 -27h1v1h-1zM51 -27h1v1h-1zM53 -27h1v1h-1zM55 -27h1v1h-1zM40 -28h1v1h-1zM41 -28h1v1h-1zM50 -29h1v1h-1zM60 -31h1v1h-1zM56 -33h1v1h-1zM60 -33h1v1h-1zM59 -35h1v1h-1zM67 -35h1v1h-1zM56 -36h1v1h-1zM60 -36h1v1h-1zM71 -36h1v1h-1zM65 -41h1v1h-1zM71 -41h1v1h-1zM74 -41h1v1h-1zM76 -41h1v1h-1zM77 -41h1v1h-1zM78 -41h1v1h-1zM79 -41h1v1h-1zM84 -41h1v1h-1zM67 -42h1v1h-1zM69 -42h1v1h-1zM71 -42h1v1h-1zM55 -44h1v1h-1zM56 -44h1v1h-1zM61 -44h1v1h-1zM78 -46h1v1h-1zM74 -48h1v1h-1zM79 -48h1v1h-1zM82 -48h1v1h-1zM77 -51h1v1h-1zM79 -51h1v1h-1zM82 -51h1v1h-1zM90 -51h1v1h-1zM72 -52h1v1h-1zM79 -52h1v1h-1zM84 -52h1v1h-1zM85 -52h1v1h-1zM94 -52h1v1h-1zM90 -54h1v1h-1zM72 -56h1v1h-1zM72 -57h1v1h-1zM77 -57h1v1h-1zM79 -57h1v1h-1zM84 -57h1v1h-1zM87 -57h1v1h-1zM88 -60h1v1h-1zM95 -60h1v1h-1zM75 -61h1v1h-1zM84 -61h1v1h-1zM85 -61h1v1h-1zM87 -61h1v1h-1zM95 -61h1v1h-1zM93 -62h1v1h-1zM95 -62h1v1h-1zM85 -65h1v1h-1zM94 -65h1v1h-1zM95 -65h1v1h-1zM78 -66h1v1h-1zM82 -66h1v1h-1zM84 -66h1v1h-1zM93 -67h1v1h-1zM91 -68h1v1h-1zM95 -69h1v1h-1zM91 -70h1v1h-1zM94 -70h1v1h-1zM93 -71h1v1h-1zM91 -73h1v1h-1zM95 -74h1v1h-1zM95 -75h1v1h-1zM92 -77h1v1h-1z"/>
<path fill="#f0cdd7" d="M13 -1h1v1h-1zM14 -6h1v1h-1zM19 -6h1v1h-1zM25 -9h1v1h-1zM23 -10h1v1h-1zM19 -11h1v1h-1zM25 -23h1v1h-1zM26 -23h1v1h-1zM82 -72h1v1h-1zM93 -80h1v1h-1zM95 -86h1v1h-1zM94 -92h1v1h-1z"/>
<path fill="#f0d2dc" d="M14 -1h1v1h-1zM17 -2h1v1h-1zM37 -7h1v1h-1zM25 -8h1v1h-1zM12 -10h1v1h-1zM26 -10h1v1h-1zM40 -14h1v1h-1zM22 -19h1v1h-1zM39 -26h1v1h-1zM41 -29h1v1h-1zM44 -36h1v1h-1zM95 -82h1v1h-1z"/>
<path fill="#f5ebf0" d="M15 -1h1v1h-1zM24 -2h1v1h-1zM40 -2h1v1h-1zM7 -3h1v1h-1zM8 -3h1v1h-1zM11 -3h1v1h-1zM12 -3h1v1h-1zM12 -4h1v1h-1zM23 -4h1v1h-1zM24 -4h1v1h-1zM26 -4h1v1h-1zM30 -4h1v1h-1zM21 -5h1v1h-1zM24 -5h1v1h-1zM26 -5h1v1h-1zM33 -5h1v1h-1zM40 -5h1v1h-1zM24 -6h1v1h-1zM26 -6h1v1h-1zM28 -6h1v1h-1zM34 -7h1v1h-1zM35 -7h1v1h-1zM38 -7h1v1h-1zM39 -7h1v1h-1zM26 -8h1v1h-1zM30 -8h1v1h-1zM40 -8h1v1h-1zM28 -9h1v1h-1zM31 -9h1v1h-1zM32 -9h1v1h-1zM33 -9h1v1h-1zM34 -10h1v1h-1zM51 -10h1v1h-1zM22 -11h1v1h-1zM26 -11h1v1h-1zM28 -11h1v1h-1zM30 -11h1v1h-1zM31 -11h1v1h-1zM32 -11h1v1h-1zM37 -11h1v1h-1zM40 -11h1v1h-1zM32 -12h1v1h-1zM34 -12h1v1h-1zM35 -12h1v1h-1zM37 -12h1v1h-1zM40 -12h1v1h-1zM27 -13h1v1h-1zM35 -13h1v1h-1zM44 -13h1v1h-1zM51 -13h1v1h-1zM34 -14h1v1h-1zM39 -14h1v1h-1zM41 -14h1v1h-1zM47 -14h1v1h-1zM27 -15h1v1h-1zM34 -15h1v1h-1zM42 -20h1v1h-1zM45 -21h1v1h-1zM46 -21h1v1h-1zM52 -21h1v1h-1zM39 -22h1v1h-1zM41 -22h1v1h-1zM42 -22h1v1h-1zM44 -22h1v1h-1zM51 -22h1v1h-1zM30 -23h1v1h-1zM31 -23h1v1h-1zM35 -23h1v1h-1zM45 -24h1v1h-1zM49 -24h1v1h-1zM55 -26h1v1h-1zM59 -26h1v1h-1zM61 -26h1v1h-1zM41 -27h1v1h-1zM45 -27h1v1h-1zM53 -29h1v1h-1zM47 -31h1v1h-1zM50 -31h1v1h-1zM50 -32h1v1h-1zM56 -32h1v1h-1zM56 -34h1v1h-1zM64 -34h1v1h-1zM67 -34h1v1h-1zM50 -35h1v1h-1zM56 -35h1v1h-1zM43 -36h1v1h-1zM50 -36h1v1h-1zM55 -36h1v1h-1zM57 -36h1v1h-1zM61 -36h1v1h-1zM56 -41h1v1h-1zM64 -41h1v1h-1zM66 -41h1v1h-1zM69 -41h1v1h-1zM60 -42h1v1h-1zM64 -42h1v1h-1zM74 -51h1v1h-1zM76 -52h1v1h-1zM78 -52h1v1h-1zM82 -52h1v1h-1zM90 -52h1v1h-1zM65 -54h1v1h-1zM79 -54h1v1h-1zM76 -56h1v1h-1zM82 -56h1v1h-1zM74 -57h1v1h-1zM76 -57h1v1h-1zM78 -58h1v1h-1zM90 -60h1v1h-1zM77 -61h1v1h-1zM79 -61h1v1h-1zM85 -62h1v1h-1zM90 -64h1v1h-1zM88 -65h1v1h-1zM84 -67h1v1h-1zM85 -67h1v1h-1zM90 -67h1v1h-1zM87 -68h1v1h-1zM93 -68h1v1h-1zM94 -68h1v1h-1zM95 -68h1v1h-1zM94 -69h1v1h-1zM88 -70h1v1h-1zM85 -73h1v1h-1zM93 -77h1v1h-1zM93 -78h1v1h-1zM91 -79h1v1h-1z"/>
<path fill="#f0dce6" d="M16 -1h1v1h-1zM19 -2h1v1h-1zM24 -10h1v1h-1zM31 -10h1v1h-1zM36 -13h1v1h-1zM34 -17h1v1h-1zM29 -23h1v1h-1zM36 -24h1v1h-1zM35 -28h1v1h-1zM51 -34h1v1h-1zM43 -39h1v1h-1zM82 -62h1v1h-1zM75 -68h1v1h-1zM83 -68h1v1h-1zM84 -69h1v1h-1zM73 -70h1v1h-1zM86 -75h1v1h-1zM82 -76h1v1h-1zM92 -83h1v1h-1z"/>
<path fill="#f5e6eb" d="M17 -1h1v1h-1zM20 -1h1v1h-1zM25 -1h1v1h-1zM12 -2h1v1h-1zM6 -3h1v1h-1zM15 -4h1v1h-1zM12 -6h1v1h-1zM40 -6h1v1h-1zM12 -7h1v1h-1zM27 -7h1v1h-1zM29 -7h1v1h-1zM23 -9h1v1h-1zM35 -10h1v1h-1zM25 -12h1v1h-1zM31 -12h1v1h-1zM34 -13h1v1h-1zM38 -13h1v1h-1zM39 -13h1v1h-1zM40 -15h1v1h-1zM22 -16h1v1h-1zM37 -16h1v1h-1zM40 -19h1v1h-1zM27 -22h1v1h-1zM35 -22h1v1h-1zM42 -24h1v1h-1zM35 -25h1v1h-1zM42 -25h1v1h-1zM44 -26h1v1h-1zM50 -26h1v1h-1zM53 -26h1v1h-1zM42 -27h1v1h-1zM51 -29h1v1h-1zM51 -31h1v1h-1zM51 -33h1v1h-1zM51 -35h1v1h-1zM59 -36h1v1h-1zM59 -41h1v1h-1zM61 -42h1v1h-1zM51 -44h1v1h-1zM53 -44h1v1h-1zM74 -56h1v1h-1zM76 -58h1v1h-1zM77 -60h1v1h-1zM78 -60h1v1h-1zM82 -60h1v1h-1zM78 -62h1v1h-1zM82 -65h1v1h-1zM84 -65h1v1h-1zM90 -65h1v1h-1zM74 -66h1v1h-1zM76 -66h1v1h-1zM72 -67h1v1h-1zM88 -68h1v1h-1zM90 -68h1v1h-1zM88 -71h1v1h-1zM93 -72h1v1h-1zM94 -72h1v1h-1zM95 -72h1v1h-1zM93 -75h1v1h-1zM84 -76h1v1h-1zM91 -78h1v1h-1zM95 -81h1v1h-1zM91 -86h1v1h-1z"/>
<path fill="#f0e6eb" d="M18 -1h1v1h-1zM37 -4h1v1h-1zM40 -10h1v1h-1zM33 -12h1v1h-1zM29 -13h1v1h-1zM44 -14h1v1h-1zM34 -23h1v1h-1zM46 -25h1v1h-1zM60 -34h1v1h-1zM57 -41h1v1h-1z"/>
<path fill="#f0e6f0" d="M19 -1h1v1h-1zM54 -7h1v1h-1zM37 -8h1v1h-1zM22 -10h1v1h-1zM27 -10h1v1h-1zM38 -10h1v1h-1zM54 -10h1v1h-1zM55 -10h1v1h-1zM35 -14h1v1h-1zM54 -14h1v1h-1zM36 -15h1v1h-1zM29 -16h1v1h-1zM35 -17h1v1h-1zM44 -17h1v1h-1zM53 -17h1v1h-1zM59 -17h1v1h-1zM45 -18h1v1h-1zM50 -18h1v1h-1zM29 -19h1v1h-1zM45 -20h1v1h-1zM46 -20h1v1h-1zM55 -20h1v1h-1zM59 -20h1v1h-1zM46 -22h1v1h-1zM32 -23h1v1h-1zM33 -23h1v1h-1zM52 -24h1v1h-1zM63 -26h1v1h-1zM54 -27h1v1h-1zM42 -30h1v1h-1zM55 -31h1v1h-1zM55 -32h1v1h-1zM50 -34h1v1h-1zM55 -34h1v1h-1zM57 -35h1v1h-1zM56 -39h1v1h-1zM67 -40h1v1h-1zM78 -45h1v1h-1zM94 -53h1v1h-1zM77 -54h1v1h-1zM77 -56h1v1h-1zM81 -57h1v1h-1zM79 -58h1v1h-1zM84 -59h1v1h-1zM86 -61h1v1h-1zM75 -62h1v1h-1zM87 -62h1v1h-1zM88 -63h1v1h-1zM84 -64h1v1h-1zM87 -65h1v1h-1zM85 -71h1v1h-1zM81 -73h1v1h-1zM83 -73h1v1h-1zM87 -73h1v1h-1zM91 -82h1v1h-1zM92 -86h1v1h-1z"/>
<path fill="#f5f0f5" d="M22 -1h1v1h-1zM23 -1h1v1h-1zM28 -1h1v1h-1zM32 -1h1v1h-1zM36 -1h1v1h-1zM38 -1h1v1h-1zM40 -1h1v1h-1zM27 -2h1v1h-1zM28 -2h1v1h-1zM29 -2h1v1h-1zM48 -2h1v1h-1zM52 -2h1v1h-1zM59 -2h1v1h-1zM61 -2h1v1h-1zM10 -3h1v1h-1zM15 -3h1v1h-1zM16 -3h1v1h-1zM17 -3h1v1h-1zM18 -3h1v1h-1zM22 -4h1v1h-1zM27 -4h1v1h-1zM28 -4h1v1h-1zM34 -4h1v1h-1zM36 -4h1v1h-1zM38 -4h1v1h-1zM39 -4h1v1h-1zM52 -4h1v1h-1zM53 -4h1v1h-1zM54 -4h1v1h-1zM31 -5h1v1h-1zM34 -5h1v1h-1zM38 -5h1v1h-1zM51 -5h1v1h-1zM59 -5h1v1h-1zM27 -6h1v1h-1zM31 -6h1v1h-1zM32 -6h1v1h-1zM35 -6h1v1h-1zM36 -6h1v1h-1zM39 -6h1v1h-1zM45 -6h1v1h-1zM54 -6h1v1h-1zM44 -7h1v1h-1zM46 -7h1v1h-1zM47 -7h1v1h-1zM49 -7h1v1h-1zM50 -7h1v1h-1zM51 -7h1v1h-1zM27 -8h1v1h-1zM34 -8h1v1h-1zM35 -8h1v1h-1zM36 -8h1v1h-1zM39 -8h1v1h-1zM51 -8h1v1h-1zM55 -8h1v1h-1zM61 -8h1v1h-1zM22 -9h1v1h-1zM35 -9h1v1h-1zM41 -9h1v1h-1zM51 -9h1v1h-1zM53 -9h1v1h-1zM41 -10h1v1h-1zM47 -10h1v1h-1zM53 -10h1v1h-1zM60 -10h1v1h-1zM36 -11h1v1h-1zM38 -11h1v1h-1zM39 -11h1v1h-1zM42 -11h1v1h-1zM52 -11h1v1h-1zM29 -12h1v1h-1zM38 -12h1v1h-1zM46 -12h1v1h-1zM48 -12h1v1h-1zM55 -13h1v1h-1zM42 -14h1v1h-1zM50 -14h1v1h-1zM51 -14h1v1h-1zM55 -14h1v1h-1zM39 -15h1v1h-1zM41 -15h1v1h-1zM44 -15h1v1h-1zM46 -15h1v1h-1zM50 -15h1v1h-1zM51 -15h1v1h-1zM38 -16h1v1h-1zM49 -16h1v1h-1zM52 -16h1v1h-1zM41 -17h1v1h-1zM50 -17h1v1h-1zM43 -18h1v1h-1zM66 -18h1v1h-1zM43 -19h1v1h-1zM45 -19h1v1h-1zM47 -19h1v1h-1zM53 -19h1v1h-1zM43 -20h1v1h-1zM47 -20h1v1h-1zM50 -20h1v1h-1zM64 -20h1v1h-1zM67 -20h1v1h-1zM69 -20h1v1h-1zM82 -20h1v1h-1zM53 -21h1v1h-1zM63 -21h1v1h-1zM49 -22h1v1h-1zM57 -22h1v1h-1zM63 -22h1v1h-1zM42 -23h1v1h-1zM45 -23h1v1h-1zM48 -24h1v1h-1zM54 -24h1v1h-1zM57 -24h1v1h-1zM44 -25h1v1h-1zM58 -25h1v1h-1zM58 -26h1v1h-1zM49 -27h1v1h-1zM57 -27h1v1h-1zM45 -28h1v1h-1zM51 -28h1v1h-1zM53 -28h1v1h-1zM61 -29h1v1h-1zM64 -31h1v1h-1zM67 -31h1v1h-1zM74 -31h1v1h-1zM79 -31h1v1h-1zM66 -32h1v1h-1zM74 -32h1v1h-1zM55 -33h1v1h-1zM61 -33h1v1h-1zM67 -33h1v1h-1zM66 -34h1v1h-1zM74 -34h1v1h-1zM78 -34h1v1h-1zM60 -35h1v1h-1zM61 -35h1v1h-1zM66 -40h1v1h-1zM76 -45h1v1h-1zM77 -46h1v1h-1zM79 -46h1v1h-1zM82 -46h1v1h-1zM65 -48h1v1h-1zM86 -51h1v1h-1zM87 -52h1v1h-1zM72 -54h1v1h-1zM76 -54h1v1h-1zM82 -54h1v1h-1zM85 -54h1v1h-1zM84 -56h1v1h-1zM85 -56h1v1h-1zM75 -57h1v1h-1zM82 -58h1v1h-1zM90 -58h1v1h-1zM93 -58h1v1h-1zM94 -60h1v1h-1zM91 -64h1v1h-1zM92 -65h1v1h-1zM77 -66h1v1h-1zM87 -67h1v1h-1zM91 -72h1v1h-1zM92 -72h1v1h-1zM90 -74h1v1h-1zM92 -75h1v1h-1zM90 -76h1v1h-1zM91 -76h1v1h-1zM93 -76h1v1h-1zM95 -76h1v1h-1z"/>
<path fill="#faf0f0" d="M24 -1h1v1h-1zM40 -4h1v1h-1zM28 -5h1v1h-1zM35 -11h1v1h-1zM30 -12h1v1h-1zM47 -13h1v1h-1zM35 -15h1v1h-1zM33 -16h1v1h-1zM40 -16h1v1h-1zM42 -21h1v1h-1zM47 -21h1v1h-1zM50 -21h1v1h-1zM55 -21h1v1h-1zM40 -23h1v1h-1zM47 -24h1v1h-1zM45 -25h1v1h-1zM43 -26h1v1h-1zM56 -26h1v1h-1zM43 -31h1v1h-1zM56 -31h1v1h-1zM59 -44h1v1h-1zM65 -52h1v1h-1zM90 -56h1v1h-1zM78 -57h1v1h-1zM84 -60h1v1h-1zM85 -60h1v1h-1zM94 -61h1v1h-1zM90 -62h1v1h-1zM94 -62h1v1h-1zM85 -70h1v1h-1zM95 -71h1v1h-1zM90 -73h1v1h-1zM91 -77h1v1h-1zM94 -77h1v1h-1zM95 -77h1v1h-1zM91 -80h1v1h-1z"/>
<path fill="#faf5f5" d="M26 -1h1v1h-1zM33 -1h1v1h-1zM34 -1h1v1h-1zM22 -2h1v1h-1zM26 -2h1v1h-1zM31 -2h1v1h-1zM14 -3h1v1h-1zM20 -3h1v1h-1zM21 -3h1v1h-1zM25 -3h1v1h-1zM35 -4h1v1h-1zM51 -4h1v1h-1zM61 -4h1v1h-1zM22 -5h1v1h-1zM35 -5h1v1h-1zM34 -6h1v1h-1zM45 -7h1v1h-1zM53 -7h1v1h-1zM55 -7h1v1h-1zM61 -7h1v1h-1zM41 -8h1v1h-1zM42 -9h1v1h-1zM42 -10h1v1h-1zM27 -11h1v1h-1zM45 -12h1v1h-1zM51 -12h1v1h-1zM49 -13h1v1h-1zM61 -13h1v1h-1zM67 -13h1v1h-1zM47 -15h1v1h-1zM46 -16h1v1h-1zM50 -16h1v1h-1zM51 -16h1v1h-1zM50 -19h1v1h-1zM60 -20h1v1h-1zM43 -21h1v1h-1zM70 -21h1v1h-1zM71 -21h1v1h-1zM50 -22h1v1h-1zM55 -22h1v1h-1zM60 -22h1v1h-1zM71 -22h1v1h-1zM41 -23h1v1h-1zM50 -24h1v1h-1zM55 -24h1v1h-1zM59 -24h1v1h-1zM61 -24h1v1h-1zM43 -25h1v1h-1zM53 -25h1v1h-1zM56 -25h1v1h-1zM61 -25h1v1h-1zM66 -26h1v1h-1zM71 -26h1v1h-1zM79 -26h1v1h-1zM50 -27h1v1h-1zM59 -27h1v1h-1zM61 -27h1v1h-1zM67 -27h1v1h-1zM43 -28h1v1h-1zM43 -29h1v1h-1zM56 -29h1v1h-1zM69 -31h1v1h-1zM64 -33h1v1h-1zM67 -36h1v1h-1zM90 -41h1v1h-1zM66 -42h1v1h-1zM74 -42h1v1h-1zM79 -42h1v1h-1zM64 -44h1v1h-1zM65 -44h1v1h-1zM65 -46h1v1h-1zM76 -46h1v1h-1zM76 -48h1v1h-1zM78 -48h1v1h-1zM90 -48h1v1h-1zM76 -51h1v1h-1zM78 -51h1v1h-1zM84 -51h1v1h-1zM95 -52h1v1h-1zM84 -54h1v1h-1zM94 -54h1v1h-1zM82 -57h1v1h-1zM93 -60h1v1h-1zM88 -61h1v1h-1zM91 -61h1v1h-1zM93 -61h1v1h-1zM88 -62h1v1h-1zM95 -64h1v1h-1zM93 -65h1v1h-1zM85 -66h1v1h-1zM88 -66h1v1h-1zM90 -66h1v1h-1zM88 -67h1v1h-1zM94 -67h1v1h-1zM95 -67h1v1h-1zM93 -70h1v1h-1zM95 -70h1v1h-1zM91 -71h1v1h-1zM95 -73h1v1h-1zM91 -75h1v1h-1z"/>
<path fill="#faf5fa" d="M27 -1h1v1h-1zM30 -1h1v1h-1zM35 -1h1v1h-1zM39 -1h1v1h-1zM41 -1h1v1h-1zM42 -1h1v1h-1zM50 -1h1v1h-1zM55 -1h1v1h-1zM56 -1h1v1h-1zM59 -1h1v1h-1zM60 -1h1v1h-1zM61 -1h1v1h-1zM65 -1h1v1h-1zM66 -1h1v1h-1zM67 -1h1v1h-1zM69 -1h1v1h-1zM74 -1h1v1h-1zM75 -1h1v1h-1zM76 -1h1v1h-1zM77 -1h1v1h-1zM78 -1h1v1h-1zM84 -1h1v1h-1zM85 -1h1v1h-1zM88 -1h1v1h-1zM90 -1h1v1h-1zM91 -1h1v1h-1zM93 -1h1v1h-1zM39 -2h1v1h-1zM41 -2h1v1h-1zM42 -2h1v1h-1zM43 -2h1v1h-1zM55 -2h1v1h-1zM56 -2h1v1h-1zM60 -2h1v1h-1zM64 -2h1v1h-1zM66 -2h1v1h-1zM72 -2h1v1h-1zM79 -2h1v1h-1zM88 -2h1v1h-1zM91 -2h1v1h-1zM93 -2h1v1h-1zM19 -3h1v1h-1zM22 -3h1v1h-1zM23 -3h1v1h-1zM24 -3h1v1h-1zM26 -3h1v1h-1zM27 -3h1v1h-1zM28 -3h1v1h-1zM30 -3h1v1h-1zM31 -3h1v1h-1zM32 -3h1v1h-1zM33 -3h1v1h-1zM34 -3h1v1h-1zM35 -3h1v1h-1zM36 -3h1v1h-1zM37 -3h1v1h-1zM38 -3h1v1h-1zM39 -3h1v1h-1zM40 -3h1v1h-1zM41 -3h1v1h-1zM42 -3h1v1h-1zM43 -3h1v1h-1zM44 -3h1v1h-1zM45 -3h1v1h-1zM47 -3h1v1h-1zM48 -3h1v1h-1zM49 -3h1v1h-1zM50 -3h1v1h-1zM51 -3h1v1h-1zM52 -3h1v1h-1zM53 -3h1v1h-1zM55 -3h1v1h-1zM56 -3h1v1h-1zM57 -3h1v1h-1zM58 -3h1v1h-1zM59 -3h1v1h-1zM60 -3h1v1h-1zM61 -3h1v1h-1zM62 -3h1v1h-1zM64 -3h1v1h-1zM65 -3h1v1h-1zM66 -3h1v1h-1zM67 -3h1v1h-1zM68 -3h1v1h-1zM69 -3h1v1h-1zM72 -3h1v1h-1zM73 -3h1v1h-1zM74 -3h1v1h-1zM76 -3h1v1h-1zM77 -3h1v1h-1zM78 -3h1v1h-1zM79 -3h1v1h-1zM84 -3h1v1h-1zM90 -3h1v1h-1zM41 -4h1v1h-1zM42 -4h1v1h-1zM50 -4h1v1h-1zM55 -4h1v1h-1zM59 -4h1v1h-1zM65 -4h1v1h-1zM67 -4h1v1h-1zM70 -4h1v1h-1zM72 -4h1v1h-1zM74 -4h1v1h-1zM76 -4h1v1h-1zM78 -4h1v1h-1zM79 -4h1v1h-1zM84 -4h1v1h-1zM85 -4h1v1h-1zM88 -4h1v1h-1zM91 -4h1v1h-1zM94 -4h1v1h-1zM95 -4h1v1h-1zM27 -5h1v1h-1zM42 -5h1v1h-1zM43 -5h1v1h-1zM45 -5h1v1h-1zM47 -5h1v1h-1zM53 -5h1v1h-1zM55 -5h1v1h-1zM56 -5h1v1h-1zM57 -5h1v1h-1zM61 -5h1v1h-1zM64 -5h1v1h-1zM65 -5h1v1h-1zM66 -5h1v1h-1zM67 -5h1v1h-1zM71 -5h1v1h-1zM72 -5h1v1h-1zM74 -5h1v1h-1zM76 -5h1v1h-1zM78 -5h1v1h-1zM79 -5h1v1h-1zM82 -5h1v1h-1zM84 -5h1v1h-1zM88 -5h1v1h-1zM95 -5h1v1h-1zM42 -6h1v1h-1zM43 -6h1v1h-1zM50 -6h1v1h-1zM51 -6h1v1h-1zM53 -6h1v1h-1zM55 -6h1v1h-1zM59 -6h1v1h-1zM76 -6h1v1h-1zM77 -6h1v1h-1zM78 -6h1v1h-1zM84 -6h1v1h-1zM95 -6h1v1h-1zM42 -7h1v1h-1zM43 -7h1v1h-1zM56 -7h1v1h-1zM57 -7h1v1h-1zM68 -7h1v1h-1zM69 -7h1v1h-1zM71 -7h1v1h-1zM72 -7h1v1h-1zM74 -7h1v1h-1zM76 -7h1v1h-1zM77 -7h1v1h-1zM78 -7h1v1h-1zM79 -7h1v1h-1zM82 -7h1v1h-1zM84 -7h1v1h-1zM85 -7h1v1h-1zM88 -7h1v1h-1zM90 -7h1v1h-1zM91 -7h1v1h-1zM93 -7h1v1h-1zM94 -7h1v1h-1zM95 -7h1v1h-1zM42 -8h1v1h-1zM43 -8h1v1h-1zM47 -8h1v1h-1zM53 -8h1v1h-1zM56 -8h1v1h-1zM59 -8h1v1h-1zM60 -8h1v1h-1zM69 -8h1v1h-1zM72 -8h1v1h-1zM76 -8h1v1h-1zM77 -8h1v1h-1zM78 -8h1v1h-1zM79 -8h1v1h-1zM84 -8h1v1h-1zM88 -8h1v1h-1zM95 -8h1v1h-1zM43 -9h1v1h-1zM56 -9h1v1h-1zM61 -9h1v1h-1zM69 -9h1v1h-1zM72 -9h1v1h-1zM74 -9h1v1h-1zM88 -9h1v1h-1zM95 -9h1v1h-1zM69 -10h1v1h-1zM29 -11h1v1h-1zM41 -11h1v1h-1zM43 -11h1v1h-1zM44 -11h1v1h-1zM45 -11h1v1h-1zM47 -11h1v1h-1zM50 -11h1v1h-1zM51 -11h1v1h-1zM53 -11h1v1h-1zM55 -11h1v1h-1zM56 -11h1v1h-1zM57 -11h1v1h-1zM58 -11h1v1h-1zM59 -11h1v1h-1zM60 -11h1v1h-1zM61 -11h1v1h-1zM69 -11h1v1h-1zM70 -11h1v1h-1zM71 -11h1v1h-1zM72 -11h1v1h-1zM74 -11h1v1h-1zM76 -11h1v1h-1zM77 -11h1v1h-1zM78 -11h1v1h-1zM79 -11h1v1h-1zM82 -11h1v1h-1zM84 -11h1v1h-1zM85 -11h1v1h-1zM88 -11h1v1h-1zM90 -11h1v1h-1zM91 -11h1v1h-1zM93 -11h1v1h-1zM94 -11h1v1h-1zM95 -11h1v1h-1zM41 -12h1v1h-1zM42 -12h1v1h-1zM43 -12h1v1h-1zM44 -12h1v1h-1zM47 -12h1v1h-1zM50 -12h1v1h-1zM53 -12h1v1h-1zM55 -12h1v1h-1zM56 -12h1v1h-1zM59 -12h1v1h-1zM60 -12h1v1h-1zM61 -12h1v1h-1zM64 -12h1v1h-1zM65 -12h1v1h-1zM66 -12h1v1h-1zM67 -12h1v1h-1zM69 -12h1v1h-1zM72 -12h1v1h-1zM74 -12h1v1h-1zM75 -12h1v1h-1zM76 -12h1v1h-1zM77 -12h1v1h-1zM78 -12h1v1h-1zM79 -12h1v1h-1zM84 -12h1v1h-1zM85 -12h1v1h-1zM88 -12h1v1h-1zM90 -12h1v1h-1zM91 -12h1v1h-1zM93 -12h1v1h-1zM94 -12h1v1h-1zM95 -12h1v1h-1zM43 -13h1v1h-1zM56 -13h1v1h-1zM64 -13h1v1h-1zM65 -13h1v1h-1zM66 -13h1v1h-1zM69 -13h1v1h-1zM70 -13h1v1h-1zM71 -13h1v1h-1zM72 -13h1v1h-1zM74 -13h1v1h-1zM76 -13h1v1h-1zM77 -13h1v1h-1zM78 -13h1v1h-1zM79 -13h1v1h-1zM82 -13h1v1h-1zM84 -13h1v1h-1zM85 -13h1v1h-1zM88 -13h1v1h-1zM90 -13h1v1h-1zM91 -13h1v1h-1zM93 -13h1v1h-1zM94 -13h1v1h-1zM95 -13h1v1h-1zM56 -14h1v1h-1zM43 -15h1v1h-1zM45 -15h1v1h-1zM59 -15h1v1h-1zM66 -15h1v1h-1zM67 -15h1v1h-1zM69 -15h1v1h-1zM74 -15h1v1h-1zM76 -15h1v1h-1zM41 -16h1v1h-1zM43 -16h1v1h-1zM44 -16h1v1h-1zM47 -16h1v1h-1zM48 -16h1v1h-1zM53 -16h1v1h-1zM55 -16h1v1h-1zM56 -16h1v1h-1zM59 -16h1v1h-1zM60 -16h1v1h-1zM61 -16h1v1h-1zM64 -16h1v1h-1zM65 -16h1v1h-1zM66 -16h1v1h-1zM67 -16h1v1h-1zM69 -16h1v1h-1zM71 -16h1v1h-1zM72 -16h1v1h-1zM73 -16h1v1h-1zM74 -16h1v1h-1zM76 -16h1v1h-1zM77 -16h1v1h-1zM78 -16h1v1h-1zM79 -16h1v1h-1zM82 -16h1v1h-1zM84 -16h1v1h-1zM85 -16h1v1h-1zM88 -16h1v1h-1zM90 -16h1v1h-1zM91 -16h1v1h-1zM93 -16h1v1h-1zM94 -16h1v1h-1zM95 -16h1v1h-1zM56 -19h1v1h-1zM64 -19h1v1h-1zM65 -19h1v1h-1zM66 -19h1v1h-1zM67 -19h1v1h-1zM72 -19h1v1h-1zM76 -19h1v1h-1zM95 -19h1v1h-1zM66 -20h1v1h-1zM72 -20h1v1h-1zM74 -20h1v1h-1zM56 -21h1v1h-1zM57 -21h1v1h-1zM64 -21h1v1h-1zM65 -21h1v1h-1zM66 -21h1v1h-1zM67 -21h1v1h-1zM69 -21h1v1h-1zM72 -21h1v1h-1zM74 -21h1v1h-1zM75 -21h1v1h-1zM76 -21h1v1h-1zM77 -21h1v1h-1zM78 -21h1v1h-1zM79 -21h1v1h-1zM82 -21h1v1h-1zM84 -21h1v1h-1zM85 -21h1v1h-1zM87 -21h1v1h-1zM88 -21h1v1h-1zM90 -21h1v1h-1zM91 -21h1v1h-1zM93 -21h1v1h-1zM94 -21h1v1h-1zM95 -21h1v1h-1zM43 -22h1v1h-1zM56 -22h1v1h-1zM64 -22h1v1h-1zM65 -22h1v1h-1zM66 -22h1v1h-1zM69 -22h1v1h-1zM70 -22h1v1h-1zM72 -22h1v1h-1zM74 -22h1v1h-1zM76 -22h1v1h-1zM77 -22h1v1h-1zM78 -22h1v1h-1zM79 -22h1v1h-1zM82 -22h1v1h-1zM84 -22h1v1h-1zM85 -22h1v1h-1zM88 -22h1v1h-1zM90 -22h1v1h-1zM91 -22h1v1h-1zM93 -22h1v1h-1zM94 -22h1v1h-1zM95 -22h1v1h-1zM43 -23h1v1h-1zM47 -23h1v1h-1zM50 -23h1v1h-1zM51 -23h1v1h-1zM55 -23h1v1h-1zM56 -23h1v1h-1zM59 -23h1v1h-1zM60 -23h1v1h-1zM61 -23h1v1h-1zM64 -23h1v1h-1zM67 -23h1v1h-1zM72 -23h1v1h-1zM74 -23h1v1h-1zM84 -23h1v1h-1zM88 -23h1v1h-1zM90 -23h1v1h-1zM91 -23h1v1h-1zM95 -23h1v1h-1zM43 -24h1v1h-1zM56 -24h1v1h-1zM60 -24h1v1h-1zM64 -24h1v1h-1zM65 -24h1v1h-1zM66 -24h1v1h-1zM67 -24h1v1h-1zM69 -24h1v1h-1zM70 -24h1v1h-1zM71 -24h1v1h-1zM72 -24h1v1h-1zM73 -24h1v1h-1zM74 -24h1v1h-1zM75 -24h1v1h-1zM76 -24h1v1h-1zM77 -24h1v1h-1zM78 -24h1v1h-1zM79 -24h1v1h-1zM82 -24h1v1h-1zM84 -24h1v1h-1zM85 -24h1v1h-1zM88 -24h1v1h-1zM90 -24h1v1h-1zM91 -24h1v1h-1zM93 -24h1v1h-1zM94 -24h1v1h-1zM95 -24h1v1h-1zM55 -25h1v1h-1zM57 -25h1v1h-1zM59 -25h1v1h-1zM60 -25h1v1h-1zM64 -25h1v1h-1zM65 -25h1v1h-1zM66 -25h1v1h-1zM67 -25h1v1h-1zM69 -25h1v1h-1zM70 -25h1v1h-1zM71 -25h1v1h-1zM72 -25h1v1h-1zM74 -25h1v1h-1zM76 -25h1v1h-1zM77 -25h1v1h-1zM78 -25h1v1h-1zM79 -25h1v1h-1zM82 -25h1v1h-1zM84 -25h1v1h-1zM85 -25h1v1h-1zM88 -25h1v1h-1zM90 -25h1v1h-1zM91 -25h1v1h-1zM93 -25h1v1h-1zM94 -25h1v1h-1zM95 -25h1v1h-1zM65 -26h1v1h-1zM69 -26h1v1h-1zM72 -26h1v1h-1zM74 -26h1v1h-1zM76 -26h1v1h-1zM77 -26h1v1h-1zM78 -26h1v1h-1zM82 -26h1v1h-1zM84 -26h1v1h-1zM88 -26h1v1h-1zM90 -26h1v1h-1zM91 -26h1v1h-1zM93 -26h1v1h-1zM94 -26h1v1h-1zM95 -26h1v1h-1zM56 -27h1v1h-1zM60 -27h1v1h-1zM64 -27h1v1h-1zM65 -27h1v1h-1zM66 -27h1v1h-1zM69 -27h1v1h-1zM70 -27h1v1h-1zM71 -27h1v1h-1zM72 -27h1v1h-1zM74 -27h1v1h-1zM76 -27h1v1h-1zM77 -27h1v1h-1zM78 -27h1v1h-1zM79 -27h1v1h-1zM82 -27h1v1h-1zM84 -27h1v1h-1zM85 -27h1v1h-1zM88 -27h1v1h-1zM90 -27h1v1h-1zM91 -27h1v1h-1zM93 -27h1v1h-1zM94 -27h1v1h-1zM95 -27h1v1h-1zM50 -28h1v1h-1zM55 -28h1v1h-1zM56 -28h1v1h-1zM59 -28h1v1h-1zM60 -28h1v1h-1zM61 -28h1v1h-1zM65 -28h1v1h-1zM67 -28h1v1h-1zM69 -28h1v1h-1zM72 -28h1v1h-1zM76 -28h1v1h-1zM78 -28h1v1h-1zM79 -28h1v1h-1zM84 -28h1v1h-1zM90 -28h1v1h-1zM91 -28h1v1h-1zM93 -28h1v1h-1zM94 -28h1v1h-1zM95 -28h1v1h-1zM60 -29h1v1h-1zM64 -29h1v1h-1zM66 -29h1v1h-1zM67 -29h1v1h-1zM72 -29h1v1h-1zM74 -29h1v1h-1zM76 -29h1v1h-1zM78 -29h1v1h-1zM79 -29h1v1h-1zM84 -29h1v1h-1zM88 -29h1v1h-1zM90 -29h1v1h-1zM94 -29h1v1h-1zM95 -29h1v1h-1zM65 -31h1v1h-1zM66 -31h1v1h-1zM72 -31h1v1h-1zM88 -31h1v1h-1zM90 -31h1v1h-1zM91 -31h1v1h-1zM94 -31h1v1h-1zM95 -31h1v1h-1zM60 -32h1v1h-1zM67 -32h1v1h-1zM88 -32h1v1h-1zM90 -32h1v1h-1zM65 -33h1v1h-1zM66 -33h1v1h-1zM69 -33h1v1h-1zM72 -33h1v1h-1zM74 -33h1v1h-1zM76 -33h1v1h-1zM82 -33h1v1h-1zM91 -33h1v1h-1zM95 -33h1v1h-1zM76 -34h1v1h-1zM95 -34h1v1h-1zM64 -35h1v1h-1zM66 -35h1v1h-1zM69 -35h1v1h-1zM72 -35h1v1h-1zM74 -35h1v1h-1zM76 -35h1v1h-1zM79 -35h1v1h-1zM82 -35h1v1h-1zM84 -35h1v1h-1zM88 -35h1v1h-1zM90 -35h1v1h-1zM91 -35h1v1h-1zM94 -35h1v1h-1zM95 -35h1v1h-1zM64 -36h1v1h-1zM65 -36h1v1h-1zM66 -36h1v1h-1zM69 -36h1v1h-1zM72 -36h1v1h-1zM74 -36h1v1h-1zM76 -36h1v1h-1zM78 -36h1v1h-1zM79 -36h1v1h-1zM82 -36h1v1h-1zM84 -36h1v1h-1zM85 -36h1v1h-1zM88 -36h1v1h-1zM90 -36h1v1h-1zM91 -36h1v1h-1zM93 -36h1v1h-1zM94 -36h1v1h-1zM95 -36h1v1h-1zM95 -40h1v1h-1zM72 -41h1v1h-1zM82 -41h1v1h-1zM88 -41h1v1h-1zM91 -41h1v1h-1zM93 -41h1v1h-1zM94 -41h1v1h-1zM95 -41h1v1h-1zM65 -42h1v1h-1zM72 -42h1v1h-1zM76 -42h1v1h-1zM77 -42h1v1h-1zM78 -42h1v1h-1zM82 -42h1v1h-1zM84 -42h1v1h-1zM88 -42h1v1h-1zM90 -42h1v1h-1zM91 -42h1v1h-1zM93 -42h1v1h-1zM94 -42h1v1h-1zM95 -42h1v1h-1zM72 -43h1v1h-1zM74 -43h1v1h-1zM76 -43h1v1h-1zM77 -43h1v1h-1zM78 -43h1v1h-1zM79 -43h1v1h-1zM82 -43h1v1h-1zM84 -43h1v1h-1zM88 -43h1v1h-1zM90 -43h1v1h-1zM91 -43h1v1h-1zM93 -43h1v1h-1zM94 -43h1v1h-1zM95 -43h1v1h-1zM60 -44h1v1h-1zM66 -44h1v1h-1zM67 -44h1v1h-1zM69 -44h1v1h-1zM70 -44h1v1h-1zM71 -44h1v1h-1zM72 -44h1v1h-1zM74 -44h1v1h-1zM76 -44h1v1h-1zM77 -44h1v1h-1zM78 -44h1v1h-1zM79 -44h1v1h-1zM82 -44h1v1h-1zM84 -44h1v1h-1zM85 -44h1v1h-1zM87 -44h1v1h-1zM88 -44h1v1h-1zM90 -44h1v1h-1zM91 -44h1v1h-1zM93 -44h1v1h-1zM94 -44h1v1h-1zM95 -44h1v1h-1zM72 -46h1v1h-1zM74 -46h1v1h-1zM84 -46h1v1h-1zM88 -46h1v1h-1zM90 -46h1v1h-1zM91 -46h1v1h-1zM93 -46h1v1h-1zM94 -46h1v1h-1zM95 -46h1v1h-1zM72 -48h1v1h-1zM84 -48h1v1h-1zM88 -48h1v1h-1zM91 -48h1v1h-1zM93 -48h1v1h-1zM94 -48h1v1h-1zM95 -48h1v1h-1zM72 -51h1v1h-1zM75 -51h1v1h-1zM85 -51h1v1h-1zM87 -51h1v1h-1zM88 -51h1v1h-1zM91 -51h1v1h-1zM93 -51h1v1h-1zM94 -51h1v1h-1zM95 -51h1v1h-1zM88 -52h1v1h-1zM91 -52h1v1h-1zM93 -52h1v1h-1zM88 -54h1v1h-1zM93 -54h1v1h-1zM88 -56h1v1h-1zM94 -56h1v1h-1zM95 -56h1v1h-1zM85 -57h1v1h-1zM88 -57h1v1h-1zM90 -57h1v1h-1zM91 -57h1v1h-1zM93 -57h1v1h-1zM94 -57h1v1h-1zM95 -57h1v1h-1zM95 -58h1v1h-1zM91 -60h1v1h-1zM91 -62h1v1h-1zM91 -65h1v1h-1zM91 -66h1v1h-1zM93 -66h1v1h-1zM94 -66h1v1h-1zM95 -66h1v1h-1zM91 -67h1v1h-1zM88 -73h1v1h-1zM93 -73h1v1h-1zM94 -73h1v1h-1z"/>
<path fill="#f5f0fa" d="M29 -1h1v1h-1zM37 -1h1v1h-1zM44 -1h1v1h-1zM46 -1h1v1h-1zM47 -1h1v1h-1zM49 -1h1v1h-1zM51 -1h1v1h-1zM63 -1h1v1h-1zM71 -1h1v1h-1zM81 -1h1v1h-1zM87 -1h1v1h-1zM49 -2h1v1h-1zM58 -2h1v1h-1zM62 -2h1v1h-1zM63 -2h1v1h-1zM70 -2h1v1h-1zM71 -2h1v1h-1zM75 -2h1v1h-1zM82 -2h1v1h-1zM90 -2h1v1h-1zM47 -4h1v1h-1zM49 -4h1v1h-1zM60 -4h1v1h-1zM62 -4h1v1h-1zM68 -4h1v1h-1zM71 -4h1v1h-1zM82 -4h1v1h-1zM87 -4h1v1h-1zM93 -4h1v1h-1zM41 -5h1v1h-1zM44 -5h1v1h-1zM49 -5h1v1h-1zM54 -5h1v1h-1zM73 -5h1v1h-1zM75 -5h1v1h-1zM85 -5h1v1h-1zM87 -5h1v1h-1zM90 -5h1v1h-1zM94 -5h1v1h-1zM41 -6h1v1h-1zM48 -6h1v1h-1zM61 -6h1v1h-1zM63 -6h1v1h-1zM67 -6h1v1h-1zM68 -6h1v1h-1zM71 -6h1v1h-1zM72 -6h1v1h-1zM85 -6h1v1h-1zM90 -6h1v1h-1zM93 -6h1v1h-1zM94 -6h1v1h-1zM62 -7h1v1h-1zM75 -7h1v1h-1zM49 -8h1v1h-1zM57 -8h1v1h-1zM94 -8h1v1h-1zM45 -9h1v1h-1zM55 -9h1v1h-1zM70 -9h1v1h-1zM78 -9h1v1h-1zM45 -10h1v1h-1zM58 -10h1v1h-1zM76 -10h1v1h-1zM79 -10h1v1h-1zM82 -10h1v1h-1zM46 -11h1v1h-1zM49 -11h1v1h-1zM54 -11h1v1h-1zM81 -11h1v1h-1zM62 -12h1v1h-1zM57 -13h1v1h-1zM58 -13h1v1h-1zM62 -13h1v1h-1zM63 -13h1v1h-1zM73 -13h1v1h-1zM80 -13h1v1h-1zM81 -13h1v1h-1zM86 -13h1v1h-1zM74 -14h1v1h-1zM78 -14h1v1h-1zM55 -15h1v1h-1zM60 -15h1v1h-1zM64 -15h1v1h-1zM78 -15h1v1h-1zM79 -15h1v1h-1zM84 -15h1v1h-1zM57 -16h1v1h-1zM58 -16h1v1h-1zM63 -16h1v1h-1zM81 -16h1v1h-1zM87 -16h1v1h-1zM56 -17h1v1h-1zM55 -19h1v1h-1zM65 -20h1v1h-1zM84 -20h1v1h-1zM90 -20h1v1h-1zM91 -20h1v1h-1zM94 -20h1v1h-1zM58 -21h1v1h-1zM68 -21h1v1h-1zM57 -23h1v1h-1zM65 -23h1v1h-1zM69 -23h1v1h-1zM93 -23h1v1h-1zM83 -24h1v1h-1zM63 -25h1v1h-1zM68 -25h1v1h-1zM87 -26h1v1h-1zM82 -29h1v1h-1zM84 -31h1v1h-1zM65 -32h1v1h-1zM69 -32h1v1h-1zM82 -32h1v1h-1zM78 -33h1v1h-1zM85 -33h1v1h-1zM94 -33h1v1h-1zM72 -34h1v1h-1zM71 -35h1v1h-1zM78 -35h1v1h-1zM93 -35h1v1h-1zM88 -39h1v1h-1zM95 -39h1v1h-1zM72 -40h1v1h-1zM88 -40h1v1h-1zM94 -40h1v1h-1zM75 -43h1v1h-1zM85 -43h1v1h-1zM87 -43h1v1h-1zM73 -44h1v1h-1zM75 -44h1v1h-1zM92 -44h1v1h-1zM92 -51h1v1h-1zM91 -56h1v1h-1zM93 -56h1v1h-1zM92 -57h1v1h-1zM94 -59h1v1h-1z"/>
<path fill="#f5ebf5" d="M31 -1h1v1h-1zM37 -2h1v1h-1zM13 -3h1v1h-1zM52 -5h1v1h-1zM38 -6h1v1h-1zM22 -8h1v1h-1zM52 -8h1v1h-1zM26 -9h1v1h-1zM29 -9h1v1h-1zM59 -10h1v1h-1zM47 -17h1v1h-1zM41 -19h1v1h-1zM42 -19h1v1h-1zM61 -20h1v1h-1zM54 -21h1v1h-1zM38 -23h1v1h-1zM70 -26h1v1h-1zM46 -27h1v1h-1zM42 -28h1v1h-1zM55 -29h1v1h-1zM57 -29h1v1h-1zM59 -29h1v1h-1zM61 -31h1v1h-1zM43 -32h1v1h-1zM59 -32h1v1h-1zM59 -33h1v1h-1zM64 -40h1v1h-1zM69 -40h1v1h-1zM93 -64h1v1h-1zM94 -64h1v1h-1zM93 -74h1v1h-1zM88 -76h1v1h-1zM94 -76h1v1h-1z"/>
<path fill="#f5f5fa" d="M43 -1h1v1h-1zM45 -1h1v1h-1zM48 -1h1v1h-1zM53 -1h1v1h-1zM57 -1h1v1h-1zM58 -1h1v1h-1zM64 -1h1v1h-1zM68 -1h1v1h-1zM70 -1h1v1h-1zM72 -1h1v1h-1zM79 -1h1v1h-1zM82 -1h1v1h-1zM94 -1h1v1h-1zM95 -1h1v1h-1zM44 -2h1v1h-1zM45 -2h1v1h-1zM46 -2h1v1h-1zM47 -2h1v1h-1zM50 -2h1v1h-1zM57 -2h1v1h-1zM65 -2h1v1h-1zM67 -2h1v1h-1zM68 -2h1v1h-1zM69 -2h1v1h-1zM74 -2h1v1h-1zM76 -2h1v1h-1zM77 -2h1v1h-1zM78 -2h1v1h-1zM84 -2h1v1h-1zM85 -2h1v1h-1zM94 -2h1v1h-1zM95 -2h1v1h-1zM29 -3h1v1h-1zM46 -3h1v1h-1zM54 -3h1v1h-1zM63 -3h1v1h-1zM70 -3h1v1h-1zM71 -3h1v1h-1zM75 -3h1v1h-1zM80 -3h1v1h-1zM81 -3h1v1h-1zM82 -3h1v1h-1zM83 -3h1v1h-1zM85 -3h1v1h-1zM86 -3h1v1h-1zM87 -3h1v1h-1zM88 -3h1v1h-1zM89 -3h1v1h-1zM91 -3h1v1h-1zM92 -3h1v1h-1zM93 -3h1v1h-1zM94 -3h1v1h-1zM95 -3h1v1h-1zM43 -4h1v1h-1zM45 -4h1v1h-1zM56 -4h1v1h-1zM57 -4h1v1h-1zM63 -4h1v1h-1zM64 -4h1v1h-1zM66 -4h1v1h-1zM69 -4h1v1h-1zM73 -4h1v1h-1zM75 -4h1v1h-1zM77 -4h1v1h-1zM90 -4h1v1h-1zM36 -5h1v1h-1zM39 -5h1v1h-1zM50 -5h1v1h-1zM58 -5h1v1h-1zM60 -5h1v1h-1zM63 -5h1v1h-1zM69 -5h1v1h-1zM77 -5h1v1h-1zM91 -5h1v1h-1zM93 -5h1v1h-1zM46 -6h1v1h-1zM47 -6h1v1h-1zM56 -6h1v1h-1zM57 -6h1v1h-1zM60 -6h1v1h-1zM64 -6h1v1h-1zM65 -6h1v1h-1zM66 -6h1v1h-1zM69 -6h1v1h-1zM70 -6h1v1h-1zM74 -6h1v1h-1zM82 -6h1v1h-1zM88 -6h1v1h-1zM91 -6h1v1h-1zM58 -7h1v1h-1zM73 -7h1v1h-1zM81 -7h1v1h-1zM87 -7h1v1h-1zM92 -7h1v1h-1zM45 -8h1v1h-1zM50 -8h1v1h-1zM74 -8h1v1h-1zM82 -8h1v1h-1zM85 -8h1v1h-1zM90 -8h1v1h-1zM91 -8h1v1h-1zM47 -9h1v1h-1zM50 -9h1v1h-1zM58 -9h1v1h-1zM60 -9h1v1h-1zM71 -9h1v1h-1zM76 -9h1v1h-1zM79 -9h1v1h-1zM82 -9h1v1h-1zM84 -9h1v1h-1zM90 -9h1v1h-1zM91 -9h1v1h-1zM50 -10h1v1h-1zM72 -10h1v1h-1zM74 -10h1v1h-1zM78 -10h1v1h-1zM84 -10h1v1h-1zM88 -10h1v1h-1zM95 -10h1v1h-1zM68 -11h1v1h-1zM73 -11h1v1h-1zM75 -11h1v1h-1zM86 -11h1v1h-1zM87 -11h1v1h-1zM92 -11h1v1h-1zM49 -12h1v1h-1zM57 -12h1v1h-1zM70 -12h1v1h-1zM71 -12h1v1h-1zM73 -12h1v1h-1zM82 -12h1v1h-1zM87 -12h1v1h-1zM75 -13h1v1h-1zM87 -13h1v1h-1zM60 -14h1v1h-1zM69 -14h1v1h-1zM56 -15h1v1h-1zM65 -15h1v1h-1zM72 -15h1v1h-1zM95 -15h1v1h-1zM54 -16h1v1h-1zM68 -16h1v1h-1zM70 -16h1v1h-1zM75 -16h1v1h-1zM92 -16h1v1h-1zM43 -17h1v1h-1zM60 -19h1v1h-1zM69 -19h1v1h-1zM74 -19h1v1h-1zM79 -19h1v1h-1zM93 -19h1v1h-1zM76 -20h1v1h-1zM78 -20h1v1h-1zM88 -20h1v1h-1zM95 -20h1v1h-1zM68 -22h1v1h-1zM73 -22h1v1h-1zM75 -22h1v1h-1zM87 -22h1v1h-1zM92 -22h1v1h-1zM66 -23h1v1h-1zM76 -23h1v1h-1zM77 -23h1v1h-1zM78 -23h1v1h-1zM79 -23h1v1h-1zM82 -23h1v1h-1zM58 -24h1v1h-1zM87 -24h1v1h-1zM73 -25h1v1h-1zM87 -25h1v1h-1zM85 -26h1v1h-1zM75 -27h1v1h-1zM87 -27h1v1h-1zM92 -27h1v1h-1zM64 -28h1v1h-1zM66 -28h1v1h-1zM74 -28h1v1h-1zM77 -28h1v1h-1zM82 -28h1v1h-1zM85 -28h1v1h-1zM88 -28h1v1h-1zM65 -29h1v1h-1zM69 -29h1v1h-1zM85 -29h1v1h-1zM91 -29h1v1h-1zM93 -29h1v1h-1zM76 -31h1v1h-1zM78 -31h1v1h-1zM82 -31h1v1h-1zM85 -31h1v1h-1zM93 -31h1v1h-1zM91 -32h1v1h-1zM95 -32h1v1h-1zM79 -33h1v1h-1zM84 -33h1v1h-1zM88 -33h1v1h-1zM90 -33h1v1h-1zM93 -33h1v1h-1zM90 -34h1v1h-1zM91 -34h1v1h-1zM65 -35h1v1h-1zM70 -36h1v1h-1zM77 -36h1v1h-1zM87 -36h1v1h-1zM85 -41h1v1h-1zM85 -42h1v1h-1zM87 -42h1v1h-1zM85 -46h1v1h-1zM91 -54h1v1h-1zM95 -54h1v1h-1z"/>
<path fill="#f0f0f5" d="M52 -1h1v1h-1zM34 -2h1v1h-1zM44 -4h1v1h-1zM32 -5h1v1h-1zM44 -6h1v1h-1zM54 -9h1v1h-1zM43 -10h1v1h-1zM56 -10h1v1h-1zM48 -11h1v1h-1zM45 -14h1v1h-1zM64 -14h1v1h-1zM67 -14h1v1h-1zM71 -14h1v1h-1zM49 -15h1v1h-1zM61 -15h1v1h-1zM57 -19h1v1h-1zM79 -20h1v1h-1zM62 -21h1v1h-1zM58 -22h1v1h-1zM62 -22h1v1h-1zM81 -22h1v1h-1zM53 -23h1v1h-1zM63 -24h1v1h-1zM63 -27h1v1h-1zM47 -28h1v1h-1zM71 -28h1v1h-1zM56 -30h1v1h-1zM77 -31h1v1h-1zM78 -32h1v1h-1zM82 -40h1v1h-1zM70 -42h1v1h-1zM85 -48h1v1h-1zM94 -58h1v1h-1zM91 -69h1v1h-1z"/>
<path fill="#f0f0fa" d="M54 -1h1v1h-1zM73 -1h1v1h-1zM83 -1h1v1h-1zM86 -1h1v1h-1zM73 -2h1v1h-1zM86 -2h1v1h-1zM46 -4h1v1h-1zM58 -4h1v1h-1zM48 -5h1v1h-1zM70 -5h1v1h-1zM92 -5h1v1h-1zM49 -6h1v1h-1zM79 -6h1v1h-1zM86 -7h1v1h-1zM62 -8h1v1h-1zM70 -8h1v1h-1zM71 -8h1v1h-1zM73 -8h1v1h-1zM75 -8h1v1h-1zM83 -8h1v1h-1zM92 -8h1v1h-1zM93 -8h1v1h-1zM57 -9h1v1h-1zM68 -9h1v1h-1zM93 -9h1v1h-1zM94 -9h1v1h-1zM73 -10h1v1h-1zM77 -10h1v1h-1zM85 -10h1v1h-1zM90 -10h1v1h-1zM91 -10h1v1h-1zM93 -10h1v1h-1zM83 -11h1v1h-1zM58 -12h1v1h-1zM63 -12h1v1h-1zM68 -12h1v1h-1zM81 -12h1v1h-1zM86 -12h1v1h-1zM68 -13h1v1h-1zM92 -13h1v1h-1zM43 -14h1v1h-1zM65 -14h1v1h-1zM66 -14h1v1h-1zM72 -14h1v1h-1zM76 -14h1v1h-1zM77 -14h1v1h-1zM82 -14h1v1h-1zM84 -14h1v1h-1zM88 -14h1v1h-1zM90 -14h1v1h-1zM70 -15h1v1h-1zM82 -15h1v1h-1zM88 -15h1v1h-1zM91 -15h1v1h-1zM94 -15h1v1h-1zM62 -16h1v1h-1zM80 -16h1v1h-1zM86 -16h1v1h-1zM89 -16h1v1h-1zM65 -17h1v1h-1zM76 -17h1v1h-1zM88 -18h1v1h-1zM95 -18h1v1h-1zM59 -19h1v1h-1zM70 -19h1v1h-1zM77 -19h1v1h-1zM78 -19h1v1h-1zM82 -19h1v1h-1zM84 -19h1v1h-1zM88 -19h1v1h-1zM90 -19h1v1h-1zM91 -19h1v1h-1zM93 -20h1v1h-1zM86 -21h1v1h-1zM92 -21h1v1h-1zM86 -22h1v1h-1zM71 -23h1v1h-1zM85 -23h1v1h-1zM94 -23h1v1h-1zM80 -24h1v1h-1zM81 -24h1v1h-1zM86 -24h1v1h-1zM92 -24h1v1h-1zM75 -25h1v1h-1zM83 -25h1v1h-1zM86 -25h1v1h-1zM75 -26h1v1h-1zM73 -27h1v1h-1zM81 -27h1v1h-1zM83 -27h1v1h-1zM86 -27h1v1h-1zM57 -28h1v1h-1zM87 -28h1v1h-1zM77 -29h1v1h-1zM66 -30h1v1h-1zM95 -30h1v1h-1zM72 -32h1v1h-1zM76 -32h1v1h-1zM85 -32h1v1h-1zM93 -32h1v1h-1zM88 -34h1v1h-1zM94 -34h1v1h-1zM77 -35h1v1h-1zM85 -35h1v1h-1zM92 -36h1v1h-1zM84 -40h1v1h-1zM91 -40h1v1h-1zM93 -40h1v1h-1zM92 -41h1v1h-1zM92 -42h1v1h-1zM92 -43h1v1h-1zM81 -44h1v1h-1zM95 -45h1v1h-1zM94 -50h1v1h-1zM95 -50h1v1h-1zM92 -52h1v1h-1zM92 -56h1v1h-1zM91 -58h1v1h-1z"/>
<path fill="#f0ebfa" d="M62 -1h1v1h-1zM80 -1h1v1h-1zM81 -4h1v1h-1zM83 -4h1v1h-1zM62 -5h1v1h-1zM68 -5h1v1h-1zM83 -5h1v1h-1zM86 -5h1v1h-1zM58 -6h1v1h-1zM62 -6h1v1h-1zM73 -6h1v1h-1zM75 -6h1v1h-1zM87 -6h1v1h-1zM80 -7h1v1h-1zM83 -7h1v1h-1zM58 -8h1v1h-1zM68 -8h1v1h-1zM80 -8h1v1h-1zM81 -8h1v1h-1zM73 -9h1v1h-1zM77 -9h1v1h-1zM81 -9h1v1h-1zM85 -9h1v1h-1zM62 -11h1v1h-1zM75 -14h1v1h-1zM93 -14h1v1h-1zM95 -14h1v1h-1zM68 -15h1v1h-1zM77 -15h1v1h-1zM90 -15h1v1h-1zM93 -15h1v1h-1zM83 -16h1v1h-1zM72 -18h1v1h-1zM75 -19h1v1h-1zM85 -19h1v1h-1zM94 -19h1v1h-1zM85 -20h1v1h-1zM73 -21h1v1h-1zM83 -22h1v1h-1zM89 -22h1v1h-1zM75 -23h1v1h-1zM89 -24h1v1h-1zM80 -25h1v1h-1zM81 -25h1v1h-1zM92 -25h1v1h-1zM92 -28h1v1h-1zM91 -30h1v1h-1zM84 -32h1v1h-1zM94 -32h1v1h-1zM87 -33h1v1h-1zM87 -35h1v1h-1zM73 -36h1v1h-1zM75 -36h1v1h-1zM95 -37h1v1h-1zM92 -46h1v1h-1zM95 -47h1v1h-1zM92 -48h1v1h-1z"/>
<path fill="#e6e6f5" d="M89 -1h1v1h-1zM86 -6h1v1h-1zM80 -9h1v1h-1zM92 -9h1v1h-1zM83 -10h1v1h-1zM87 -10h1v1h-1zM83 -14h1v1h-1zM87 -14h1v1h-1zM73 -15h1v1h-1zM80 -15h1v1h-1zM81 -15h1v1h-1zM83 -15h1v1h-1zM70 -17h1v1h-1zM77 -17h1v1h-1zM82 -17h1v1h-1zM91 -17h1v1h-1zM85 -18h1v1h-1zM91 -18h1v1h-1zM54 -19h1v1h-1zM62 -19h1v1h-1zM68 -19h1v1h-1zM86 -19h1v1h-1zM87 -19h1v1h-1zM92 -19h1v1h-1zM92 -20h1v1h-1zM48 -23h1v1h-1zM80 -23h1v1h-1zM62 -26h1v1h-1zM83 -26h1v1h-1zM80 -27h1v1h-1zM63 -28h1v1h-1zM58 -29h1v1h-1zM81 -29h1v1h-1zM86 -29h1v1h-1zM53 -30h1v1h-1zM85 -30h1v1h-1zM73 -31h1v1h-1zM75 -31h1v1h-1zM81 -31h1v1h-1zM92 -31h1v1h-1zM75 -32h1v1h-1zM57 -33h1v1h-1zM92 -33h1v1h-1zM92 -34h1v1h-1zM73 -35h1v1h-1zM80 -36h1v1h-1zM83 -36h1v1h-1zM86 -36h1v1h-1zM84 -37h1v1h-1zM91 -37h1v1h-1zM93 -37h1v1h-1zM84 -38h1v1h-1zM91 -38h1v1h-1zM93 -38h1v1h-1zM93 -39h1v1h-1zM77 -40h1v1h-1zM92 -40h1v1h-1zM89 -41h1v1h-1zM89 -42h1v1h-1zM89 -43h1v1h-1zM65 -45h1v1h-1zM75 -46h1v1h-1zM78 -47h1v1h-1zM89 -48h1v1h-1zM91 -49h1v1h-1zM72 -50h1v1h-1zM84 -50h1v1h-1zM85 -50h1v1h-1zM91 -55h1v1h-1zM91 -63h1v1h-1zM94 -63h1v1h-1z"/>
<path fill="#ebebf5" d="M92 -1h1v1h-1zM80 -2h1v1h-1zM81 -2h1v1h-1zM83 -2h1v1h-1zM89 -2h1v1h-1zM80 -4h1v1h-1zM86 -4h1v1h-1zM80 -5h1v1h-1zM81 -6h1v1h-1zM89 -6h1v1h-1zM89 -7h1v1h-1zM86 -8h1v1h-1zM87 -8h1v1h-1zM62 -9h1v1h-1zM75 -9h1v1h-1zM87 -9h1v1h-1zM62 -10h1v1h-1zM71 -10h1v1h-1zM75 -10h1v1h-1zM94 -10h1v1h-1zM89 -11h1v1h-1zM54 -12h1v1h-1zM83 -12h1v1h-1zM89 -12h1v1h-1zM57 -14h1v1h-1zM58 -14h1v1h-1zM68 -14h1v1h-1zM85 -14h1v1h-1zM94 -14h1v1h-1zM87 -15h1v1h-1zM64 -17h1v1h-1zM67 -17h1v1h-1zM72 -17h1v1h-1zM79 -17h1v1h-1zM90 -17h1v1h-1zM94 -17h1v1h-1zM95 -17h1v1h-1zM76 -18h1v1h-1zM82 -18h1v1h-1zM90 -18h1v1h-1zM93 -18h1v1h-1zM94 -18h1v1h-1zM71 -19h1v1h-1zM73 -20h1v1h-1zM81 -21h1v1h-1zM83 -21h1v1h-1zM89 -21h1v1h-1zM54 -23h1v1h-1zM58 -23h1v1h-1zM63 -23h1v1h-1zM70 -23h1v1h-1zM87 -23h1v1h-1zM62 -24h1v1h-1zM89 -25h1v1h-1zM86 -26h1v1h-1zM89 -26h1v1h-1zM92 -26h1v1h-1zM49 -28h1v1h-1zM68 -28h1v1h-1zM63 -29h1v1h-1zM70 -29h1v1h-1zM73 -29h1v1h-1zM75 -29h1v1h-1zM87 -29h1v1h-1zM92 -29h1v1h-1zM59 -30h1v1h-1zM64 -30h1v1h-1zM74 -30h1v1h-1zM76 -30h1v1h-1zM78 -30h1v1h-1zM82 -30h1v1h-1zM94 -30h1v1h-1zM70 -33h1v1h-1zM73 -33h1v1h-1zM77 -34h1v1h-1zM85 -34h1v1h-1zM88 -38h1v1h-1zM72 -39h1v1h-1zM91 -39h1v1h-1zM94 -39h1v1h-1zM86 -42h1v1h-1zM86 -43h1v1h-1zM86 -44h1v1h-1zM74 -45h1v1h-1zM85 -45h1v1h-1zM88 -45h1v1h-1zM90 -45h1v1h-1zM91 -45h1v1h-1zM87 -46h1v1h-1zM72 -47h1v1h-1zM91 -47h1v1h-1zM93 -49h1v1h-1zM95 -49h1v1h-1zM90 -50h1v1h-1zM93 -50h1v1h-1zM83 -51h1v1h-1zM89 -51h1v1h-1zM92 -54h1v1h-1zM93 -55h1v1h-1zM91 -59h1v1h-1zM92 -60h1v1h-1z"/>
<path fill="#e17d8c" d="M3 -2h1v1h-1zM6 -2h1v1h-1zM17 -7h1v1h-1zM17 -11h1v1h-1zM26 -13h1v1h-1zM32 -15h1v1h-1zM32 -17h1v1h-1zM30 -20h1v1h-1zM29 -24h1v1h-1z"/>
<path fill="#e1737d" d="M4 -2h1v1h-1zM26 -16h1v1h-1zM28 -18h1v1h-1zM31 -27h1v1h-1zM45 -42h1v1h-1z"/>
<path fill="#e6a0aa" d="M7 -2h1v1h-1zM13 -4h1v1h-1zM17 -8h1v1h-1zM79 -72h1v1h-1zM94 -89h1v1h-1z"/>
<path fill="#e17d87" d="M9 -2h1v1h-1zM24 -13h1v1h-1zM30 -14h1v1h-1zM24 -16h1v1h-1zM28 -16h1v1h-1zM32 -19h1v1h-1zM31 -20h1v1h-1zM24 -21h1v1h-1zM30 -21h1v1h-1zM25 -22h1v1h-1zM28 -24h1v1h-1zM30 -27h1v1h-1zM95 -91h1v1h-1z"/>
<path fill="#ebbec3" d="M10 -2h1v1h-1zM14 -7h1v1h-1zM40 -33h1v1h-1z"/>
<path fill="#f5e1e6" d="M11 -2h1v1h-1zM21 -2h1v1h-1zM4 -3h1v1h-1zM9 -3h1v1h-1zM14 -4h1v1h-1zM18 -4h1v1h-1zM15 -5h1v1h-1zM18 -6h1v1h-1zM23 -6h1v1h-1zM18 -7h1v1h-1zM24 -7h1v1h-1zM26 -7h1v1h-1zM31 -7h1v1h-1zM33 -7h1v1h-1zM12 -8h1v1h-1zM33 -8h1v1h-1zM21 -9h1v1h-1zM21 -11h1v1h-1zM24 -12h1v1h-1zM28 -12h1v1h-1zM22 -13h1v1h-1zM40 -13h1v1h-1zM35 -21h1v1h-1zM41 -21h1v1h-1zM51 -21h1v1h-1zM28 -23h1v1h-1zM34 -24h1v1h-1zM40 -24h1v1h-1zM40 -25h1v1h-1zM41 -25h1v1h-1zM41 -26h1v1h-1zM42 -26h1v1h-1zM47 -26h1v1h-1zM51 -26h1v1h-1zM38 -27h1v1h-1zM43 -35h1v1h-1zM51 -36h1v1h-1zM53 -36h1v1h-1zM55 -41h1v1h-1zM67 -41h1v1h-1zM55 -42h1v1h-1zM50 -44h1v1h-1zM74 -54h1v1h-1zM65 -56h1v1h-1zM74 -58h1v1h-1zM76 -60h1v1h-1zM74 -61h1v1h-1zM84 -62h1v1h-1zM72 -65h1v1h-1zM78 -65h1v1h-1zM75 -67h1v1h-1zM84 -68h1v1h-1zM85 -68h1v1h-1zM82 -70h1v1h-1zM84 -71h1v1h-1zM77 -73h1v1h-1zM78 -73h1v1h-1zM82 -73h1v1h-1zM94 -75h1v1h-1zM94 -78h1v1h-1z"/>
<path fill="#ebc8d2" d="M13 -2h1v1h-1zM17 -5h1v1h-1zM18 -10h1v1h-1zM18 -11h1v1h-1zM27 -20h1v1h-1zM37 -21h1v1h-1zM45 -34h1v1h-1zM45 -35h1v1h-1zM53 -41h1v1h-1zM77 -62h1v1h-1zM75 -70h1v1h-1zM72 -71h1v1h-1zM87 -72h1v1h-1zM79 -74h1v1h-1zM89 -75h1v1h-1zM94 -82h1v1h-1zM92 -88h1v1h-1zM92 -89h1v1h-1z"/>
<path fill="#f0d7dc" d="M14 -2h1v1h-1zM25 -4h1v1h-1zM20 -5h1v1h-1zM28 -7h1v1h-1zM23 -12h1v1h-1zM29 -22h1v1h-1zM39 -25h1v1h-1zM45 -33h1v1h-1zM50 -40h1v1h-1zM94 -86h1v1h-1z"/>
<path fill="#f5dce1" d="M15 -2h1v1h-1zM20 -2h1v1h-1zM25 -2h1v1h-1zM3 -3h1v1h-1zM5 -3h1v1h-1zM25 -5h1v1h-1zM40 -7h1v1h-1zM25 -11h1v1h-1zM26 -12h1v1h-1zM37 -13h1v1h-1zM34 -21h1v1h-1zM27 -25h1v1h-1zM42 -29h1v1h-1zM47 -36h1v1h-1zM60 -41h1v1h-1zM61 -41h1v1h-1zM56 -42h1v1h-1zM74 -52h1v1h-1zM79 -60h1v1h-1zM79 -62h1v1h-1zM74 -65h1v1h-1zM77 -68h1v1h-1zM90 -70h1v1h-1zM82 -71h1v1h-1zM90 -72h1v1h-1zM76 -73h1v1h-1zM85 -75h1v1h-1zM88 -75h1v1h-1zM95 -78h1v1h-1zM93 -79h1v1h-1zM94 -79h1v1h-1zM91 -83h1v1h-1zM91 -89h1v1h-1z"/>
<path fill="#ebc3cd" d="M16 -2h1v1h-1zM16 -4h1v1h-1zM16 -6h1v1h-1zM22 -20h1v1h-1zM39 -29h1v1h-1zM77 -71h1v1h-1zM78 -71h1v1h-1z"/>
<path fill="#ebdce6" d="M18 -2h1v1h-1zM29 -14h1v1h-1zM51 -18h1v1h-1zM37 -27h1v1h-1zM37 -28h1v1h-1zM44 -29h1v1h-1zM47 -32h1v1h-1zM81 -61h1v1h-1zM81 -65h1v1h-1zM80 -68h1v1h-1z"/>
<path fill="#f5e6f0" d="M30 -2h1v1h-1zM33 -2h1v1h-1zM52 -7h1v1h-1zM27 -9h1v1h-1zM38 -9h1v1h-1zM22 -12h1v1h-1zM48 -13h1v1h-1zM36 -16h1v1h-1zM27 -19h1v1h-1zM34 -19h1v1h-1zM41 -20h1v1h-1zM51 -20h1v1h-1zM38 -25h1v1h-1zM53 -31h1v1h-1zM47 -33h1v1h-1zM43 -34h1v1h-1z"/>
<path fill="#f5f5f5" d="M35 -2h1v1h-1zM53 -2h1v1h-1zM70 -7h1v1h-1zM51 -19h1v1h-1zM56 -20h1v1h-1zM64 -32h1v1h-1z"/>
<path fill="#f0e6f5" d="M36 -2h1v1h-1zM37 -5h1v1h-1zM52 -9h1v1h-1zM48 -10h1v1h-1zM52 -12h1v1h-1zM60 -17h1v1h-1zM47 -18h1v1h-1zM41 -30h1v1h-1zM47 -30h1v1h-1zM90 -53h1v1h-1z"/>
<path fill="#f0ebf5" d="M38 -2h1v1h-1zM54 -2h1v1h-1zM29 -4h1v1h-1zM31 -4h1v1h-1zM48 -4h1v1h-1zM29 -5h1v1h-1zM46 -5h1v1h-1zM29 -6h1v1h-1zM30 -6h1v1h-1zM52 -6h1v1h-1zM48 -7h1v1h-1zM29 -8h1v1h-1zM31 -8h1v1h-1zM38 -8h1v1h-1zM44 -8h1v1h-1zM46 -8h1v1h-1zM48 -8h1v1h-1zM54 -8h1v1h-1zM39 -9h1v1h-1zM44 -9h1v1h-1zM46 -9h1v1h-1zM48 -9h1v1h-1zM49 -9h1v1h-1zM46 -10h1v1h-1zM49 -10h1v1h-1zM57 -10h1v1h-1zM61 -10h1v1h-1zM36 -12h1v1h-1zM39 -12h1v1h-1zM46 -13h1v1h-1zM54 -13h1v1h-1zM83 -13h1v1h-1zM46 -14h1v1h-1zM53 -14h1v1h-1zM59 -14h1v1h-1zM61 -14h1v1h-1zM63 -14h1v1h-1zM70 -14h1v1h-1zM79 -14h1v1h-1zM42 -15h1v1h-1zM53 -15h1v1h-1zM57 -15h1v1h-1zM58 -15h1v1h-1zM71 -15h1v1h-1zM42 -17h1v1h-1zM45 -17h1v1h-1zM51 -17h1v1h-1zM55 -17h1v1h-1zM66 -17h1v1h-1zM74 -17h1v1h-1zM78 -17h1v1h-1zM55 -18h1v1h-1zM56 -18h1v1h-1zM61 -18h1v1h-1zM64 -18h1v1h-1zM65 -18h1v1h-1zM67 -18h1v1h-1zM69 -18h1v1h-1zM74 -18h1v1h-1zM79 -18h1v1h-1zM84 -18h1v1h-1zM39 -19h1v1h-1zM49 -19h1v1h-1zM58 -19h1v1h-1zM61 -19h1v1h-1zM63 -19h1v1h-1zM49 -20h1v1h-1zM57 -20h1v1h-1zM58 -20h1v1h-1zM70 -20h1v1h-1zM71 -20h1v1h-1zM75 -20h1v1h-1zM77 -20h1v1h-1zM49 -21h1v1h-1zM80 -21h1v1h-1zM48 -22h1v1h-1zM39 -23h1v1h-1zM44 -23h1v1h-1zM49 -23h1v1h-1zM44 -24h1v1h-1zM46 -24h1v1h-1zM68 -24h1v1h-1zM48 -25h1v1h-1zM62 -25h1v1h-1zM57 -26h1v1h-1zM68 -26h1v1h-1zM73 -26h1v1h-1zM58 -27h1v1h-1zM68 -27h1v1h-1zM70 -28h1v1h-1zM73 -28h1v1h-1zM71 -29h1v1h-1zM50 -30h1v1h-1zM60 -30h1v1h-1zM67 -30h1v1h-1zM72 -30h1v1h-1zM57 -31h1v1h-1zM61 -32h1v1h-1zM71 -32h1v1h-1zM77 -32h1v1h-1zM79 -32h1v1h-1zM71 -33h1v1h-1zM77 -33h1v1h-1zM65 -34h1v1h-1zM69 -34h1v1h-1zM82 -34h1v1h-1zM84 -34h1v1h-1zM93 -34h1v1h-1zM55 -35h1v1h-1zM70 -35h1v1h-1zM75 -35h1v1h-1zM63 -36h1v1h-1zM76 -39h1v1h-1zM65 -40h1v1h-1zM74 -40h1v1h-1zM76 -40h1v1h-1zM79 -40h1v1h-1zM90 -40h1v1h-1zM75 -41h1v1h-1zM75 -42h1v1h-1zM81 -42h1v1h-1zM73 -43h1v1h-1zM57 -44h1v1h-1zM63 -44h1v1h-1zM72 -45h1v1h-1zM84 -45h1v1h-1zM88 -47h1v1h-1zM90 -47h1v1h-1zM77 -48h1v1h-1zM88 -49h1v1h-1zM81 -51h1v1h-1zM88 -53h1v1h-1zM95 -53h1v1h-1zM87 -54h1v1h-1zM95 -55h1v1h-1zM87 -56h1v1h-1zM86 -57h1v1h-1zM84 -58h1v1h-1zM85 -58h1v1h-1zM88 -58h1v1h-1zM82 -59h1v1h-1zM88 -59h1v1h-1zM95 -59h1v1h-1zM92 -61h1v1h-1zM92 -62h1v1h-1zM95 -63h1v1h-1zM86 -65h1v1h-1zM81 -66h1v1h-1zM86 -66h1v1h-1zM87 -66h1v1h-1zM92 -66h1v1h-1zM92 -67h1v1h-1zM92 -70h1v1h-1zM91 -74h1v1h-1zM94 -74h1v1h-1zM92 -78h1v1h-1z"/>
<path fill="#ebebfa" d="M87 -2h1v1h-1zM92 -2h1v1h-1zM92 -4h1v1h-1zM81 -5h1v1h-1zM80 -6h1v1h-1zM92 -6h1v1h-1zM80 -11h1v1h-1zM92 -12h1v1h-1zM73 -14h1v1h-1zM91 -14h1v1h-1zM75 -15h1v1h-1zM85 -15h1v1h-1zM73 -19h1v1h-1zM68 -23h1v1h-1zM88 -30h1v1h-1z"/>
<path fill="#e61419" d="M4 -4h1v1h-1zM5 -4h1v1h-1zM6 -4h1v1h-1zM7 -4h1v1h-1zM8 -4h1v1h-1zM9 -4h1v1h-1zM10 -4h1v1h-1zM11 -4h1v1h-1zM5 -5h1v1h-1zM6 -5h1v1h-1zM7 -5h1v1h-1zM8 -5h1v1h-1zM9 -5h1v1h-1zM10 -5h1v1h-1zM11 -5h1v1h-1zM6 -6h1v1h-1zM7 -6h1v1h-1zM8 -6h1v1h-1zM9 -6h1v1h-1zM10 -6h1v1h-1zM11 -6h1v1h-1zM7 -7h1v1h-1zM8 -7h1v1h-1zM9 -7h1v1h-1zM10 -7h1v1h-1zM11 -7h1v1h-1zM8 -8h1v1h-1zM9 -8h1v1h-1zM10 -8h1v1h-1zM11 -8h1v1h-1zM9 -9h1v1h-1zM10 -9h1v1h-1zM11 -9h1v1h-1zM10 -10h1v1h-1zM11 -10h1v1h-1zM11 -11h1v1h-1z"/>
<path fill="#f0c3c8" d="M19 -4h1v1h-1zM19 -7h1v1h-1zM18 -9h1v1h-1zM16 -11h1v1h-1zM29 -27h1v1h-1zM43 -43h1v1h-1zM74 -73h1v1h-1z"/>
<path fill="#f0c8cd" d="M20 -4h1v1h-1zM40 -21h1v1h-1zM34 -26h1v1h-1zM69 -66h1v1h-1zM78 -70h1v1h-1zM82 -75h1v1h-1zM94 -80h1v1h-1zM93 -83h1v1h-1zM93 -85h1v1h-1zM95 -93h1v1h-1z"/>
<path fill="#f5d7dc" d="M21 -4h1v1h-1zM30 -7h1v1h-1zM12 -11h1v1h-1zM34 -22h1v1h-1zM33 -24h1v1h-1zM35 -24h1v1h-1zM39 -27h1v1h-1zM65 -60h1v1h-1zM76 -65h1v1h-1zM77 -65h1v1h-1zM77 -67h1v1h-1zM78 -67h1v1h-1zM82 -68h1v1h-1zM76 -70h1v1h-1zM84 -70h1v1h-1zM91 -85h1v1h-1zM94 -85h1v1h-1zM95 -92h1v1h-1z"/>
<path fill="#f0e1eb" d="M33 -4h1v1h-1zM36 -7h1v1h-1zM30 -9h1v1h-1zM29 -10h1v1h-1zM32 -10h1v1h-1zM52 -13h1v1h-1zM33 -14h1v1h-1zM41 -18h1v1h-1zM38 -19h1v1h-1zM48 -20h1v1h-1zM53 -20h1v1h-1zM48 -21h1v1h-1zM52 -27h1v1h-1zM51 -32h1v1h-1zM47 -34h1v1h-1zM59 -34h1v1h-1zM53 -35h1v1h-1zM75 -65h1v1h-1zM83 -65h1v1h-1zM81 -67h1v1h-1zM83 -67h1v1h-1zM86 -67h1v1h-1zM82 -69h1v1h-1zM85 -76h1v1h-1zM91 -81h1v1h-1zM92 -85h1v1h-1z"/>
<path fill="#ebe6f5" d="M89 -4h1v1h-1zM89 -5h1v1h-1zM83 -6h1v1h-1zM83 -9h1v1h-1zM86 -9h1v1h-1zM89 -9h1v1h-1zM68 -10h1v1h-1zM70 -10h1v1h-1zM81 -10h1v1h-1zM80 -12h1v1h-1zM89 -13h1v1h-1zM49 -14h1v1h-1zM81 -14h1v1h-1zM38 -15h1v1h-1zM48 -15h1v1h-1zM54 -15h1v1h-1zM62 -15h1v1h-1zM63 -15h1v1h-1zM86 -15h1v1h-1zM46 -17h1v1h-1zM49 -17h1v1h-1zM57 -17h1v1h-1zM58 -17h1v1h-1zM69 -17h1v1h-1zM84 -17h1v1h-1zM85 -17h1v1h-1zM88 -17h1v1h-1zM93 -17h1v1h-1zM46 -18h1v1h-1zM60 -18h1v1h-1zM70 -18h1v1h-1zM71 -18h1v1h-1zM78 -18h1v1h-1zM44 -19h1v1h-1zM48 -19h1v1h-1zM52 -19h1v1h-1zM81 -19h1v1h-1zM63 -20h1v1h-1zM87 -20h1v1h-1zM54 -22h1v1h-1zM80 -22h1v1h-1zM46 -23h1v1h-1zM52 -23h1v1h-1zM62 -23h1v1h-1zM73 -23h1v1h-1zM49 -25h1v1h-1zM54 -25h1v1h-1zM81 -26h1v1h-1zM62 -27h1v1h-1zM89 -27h1v1h-1zM46 -28h1v1h-1zM58 -28h1v1h-1zM75 -28h1v1h-1zM81 -28h1v1h-1zM83 -29h1v1h-1zM61 -30h1v1h-1zM65 -30h1v1h-1zM69 -30h1v1h-1zM79 -30h1v1h-1zM84 -30h1v1h-1zM90 -30h1v1h-1zM93 -30h1v1h-1zM70 -31h1v1h-1zM71 -31h1v1h-1zM87 -31h1v1h-1zM70 -32h1v1h-1zM75 -33h1v1h-1zM79 -34h1v1h-1zM87 -34h1v1h-1zM92 -35h1v1h-1zM68 -36h1v1h-1zM81 -36h1v1h-1zM88 -37h1v1h-1zM94 -37h1v1h-1zM94 -38h1v1h-1zM95 -38h1v1h-1zM65 -39h1v1h-1zM66 -39h1v1h-1zM78 -39h1v1h-1zM79 -39h1v1h-1zM84 -39h1v1h-1zM90 -39h1v1h-1zM78 -40h1v1h-1zM85 -40h1v1h-1zM73 -41h1v1h-1zM87 -41h1v1h-1zM73 -42h1v1h-1zM81 -43h1v1h-1zM68 -44h1v1h-1zM83 -44h1v1h-1zM89 -44h1v1h-1zM93 -45h1v1h-1zM94 -45h1v1h-1zM81 -46h1v1h-1zM76 -47h1v1h-1zM79 -47h1v1h-1zM82 -47h1v1h-1zM84 -47h1v1h-1zM93 -47h1v1h-1zM94 -47h1v1h-1zM75 -48h1v1h-1zM87 -48h1v1h-1zM90 -49h1v1h-1zM94 -49h1v1h-1zM76 -50h1v1h-1zM88 -50h1v1h-1zM91 -50h1v1h-1zM80 -51h1v1h-1zM73 -52h1v1h-1zM86 -52h1v1h-1zM91 -53h1v1h-1zM88 -55h1v1h-1zM94 -55h1v1h-1zM73 -57h1v1h-1zM89 -57h1v1h-1zM72 -59h1v1h-1zM85 -59h1v1h-1zM93 -59h1v1h-1zM90 -63h1v1h-1zM89 -66h1v1h-1zM86 -73h1v1h-1zM85 -74h1v1h-1zM92 -76h1v1h-1z"/>
<path fill="#e6aab4" d="M13 -5h1v1h-1zM30 -30h1v1h-1zM44 -44h1v1h-1z"/>
<path fill="#f0d2d7" d="M16 -5h1v1h-1zM23 -7h1v1h-1zM23 -11h1v1h-1zM37 -22h1v1h-1zM27 -23h1v1h-1zM34 -25h1v1h-1zM35 -27h1v1h-1zM40 -29h1v1h-1zM41 -31h1v1h-1zM43 -40h1v1h-1zM74 -62h1v1h-1zM76 -62h1v1h-1zM76 -67h1v1h-1zM79 -73h1v1h-1zM95 -80h1v1h-1zM95 -84h1v1h-1zM95 -87h1v1h-1zM91 -88h1v1h-1z"/>
<path fill="#faebf0" d="M23 -5h1v1h-1zM24 -8h1v1h-1zM45 -22h1v1h-1zM47 -25h1v1h-1zM72 -60h1v1h-1zM76 -61h1v1h-1zM88 -72h1v1h-1z"/>
<path fill="#ebc8d7" d="M13 -6h1v1h-1zM39 -31h1v1h-1z"/>
<path fill="#f5d2d7" d="M15 -6h1v1h-1zM95 -83h1v1h-1z"/>
<path fill="#f5e1e1" d="M21 -6h1v1h-1z"/>
<path fill="#ebcdd2" d="M25 -6h1v1h-1z"/>
<path fill="#f0ebf0" d="M33 -6h1v1h-1zM37 -6h1v1h-1zM28 -8h1v1h-1zM32 -8h1v1h-1zM52 -22h1v1h-1zM52 -25h1v1h-1zM44 -27h1v1h-1zM44 -28h1v1h-1zM45 -29h1v1h-1zM43 -30h1v1h-1zM51 -30h1v1h-1zM53 -33h1v1h-1zM88 -64h1v1h-1zM92 -68h1v1h-1zM88 -69h1v1h-1zM92 -73h1v1h-1zM88 -74h1v1h-1zM92 -79h1v1h-1zM92 -80h1v1h-1z"/>
<path fill="#dc6978" d="M13 -7h1v1h-1zM14 -10h1v1h-1zM28 -19h1v1h-1zM28 -20h1v1h-1zM26 -22h1v1h-1zM31 -29h1v1h-1zM33 -31h1v1h-1zM61 -60h1v1h-1zM89 -80h1v1h-1z"/>
<path fill="#eba5aa" d="M15 -7h1v1h-1zM19 -12h1v1h-1zM93 -89h1v1h-1z"/>
<path fill="#e1a0aa" d="M16 -7h1v1h-1z"/>
<path fill="#ebb9be" d="M20 -7h1v1h-1zM41 -33h1v1h-1zM41 -35h1v1h-1zM45 -44h1v1h-1zM91 -91h1v1h-1z"/>
<path fill="#f0cdd2" d="M21 -7h1v1h-1zM20 -8h1v1h-1zM21 -8h1v1h-1zM12 -9h1v1h-1zM33 -13h1v1h-1zM24 -23h1v1h-1zM40 -27h1v1h-1zM42 -31h1v1h-1zM41 -32h1v1h-1zM42 -33h1v1h-1zM45 -36h1v1h-1zM51 -42h1v1h-1zM47 -44h1v1h-1zM74 -60h1v1h-1zM72 -68h1v1h-1zM90 -75h1v1h-1zM93 -92h1v1h-1z"/>
<path fill="#ebaab4" d="M25 -7h1v1h-1zM33 -21h1v1h-1zM22 -22h1v1h-1zM33 -27h1v1h-1zM40 -36h1v1h-1zM67 -66h1v1h-1zM74 -68h1v1h-1zM77 -70h1v1h-1zM74 -71h1v1h-1z"/>
<path fill="#f5ebeb" d="M32 -7h1v1h-1zM23 -8h1v1h-1zM34 -16h1v1h-1zM35 -20h1v1h-1zM47 -29h1v1h-1zM59 -31h1v1h-1zM43 -33h1v1h-1zM50 -33h1v1h-1zM59 -42h1v1h-1zM78 -56h1v1h-1zM72 -61h1v1h-1zM78 -61h1v1h-1zM90 -61h1v1h-1zM79 -65h1v1h-1zM79 -66h1v1h-1zM82 -67h1v1h-1zM84 -73h1v1h-1z"/>
<path fill="#dc2d41" d="M63 -7h1v1h-1zM64 -7h1v1h-1zM65 -7h1v1h-1zM67 -7h1v1h-1zM63 -8h1v1h-1zM64 -8h1v1h-1zM65 -8h1v1h-1zM67 -8h1v1h-1zM63 -10h1v1h-1zM64 -10h1v1h-1zM65 -10h1v1h-1zM67 -10h1v1h-1zM63 -11h1v1h-1zM64 -11h1v1h-1zM65 -11h1v1h-1zM67 -11h1v1h-1z"/>
<path fill="#f0aab4" d="M66 -7h1v1h-1zM66 -8h1v1h-1zM63 -9h1v1h-1zM64 -9h1v1h-1zM65 -9h1v1h-1zM66 -9h1v1h-1zM67 -9h1v1h-1zM66 -10h1v1h-1zM66 -11h1v1h-1z"/>
<path fill="#e6a5aa" d="M13 -8h1v1h-1z"/>
<path fill="#f0bec3" d="M15 -8h1v1h-1zM15 -9h1v1h-1zM78 -68h1v1h-1zM84 -75h1v1h-1zM94 -83h1v1h-1z"/>
<path fill="#ebc3d2" d="M16 -8h1v1h-1zM78 -74h1v1h-1zM79 -76h1v1h-1z"/>
<path fill="#f0e1e6" d="M18 -8h1v1h-1zM37 -9h1v1h-1zM39 -21h1v1h-1zM32 -28h1v1h-1zM56 -40h1v1h-1zM70 -66h1v1h-1zM71 -66h1v1h-1zM87 -70h1v1h-1zM94 -71h1v1h-1zM93 -82h1v1h-1z"/>
<path fill="#eba0aa" d="M19 -8h1v1h-1zM66 -66h1v1h-1z"/>
<path fill="#e6e1f5" d="M89 -8h1v1h-1zM62 -14h1v1h-1zM86 -14h1v1h-1zM92 -15h1v1h-1zM63 -17h1v1h-1zM71 -17h1v1h-1zM57 -18h1v1h-1zM58 -18h1v1h-1zM63 -18h1v1h-1zM68 -18h1v1h-1zM75 -18h1v1h-1zM77 -18h1v1h-1zM87 -18h1v1h-1zM80 -19h1v1h-1zM62 -20h1v1h-1zM68 -20h1v1h-1zM83 -20h1v1h-1zM89 -20h1v1h-1zM83 -23h1v1h-1zM86 -23h1v1h-1zM92 -23h1v1h-1zM80 -26h1v1h-1zM54 -28h1v1h-1zM83 -28h1v1h-1zM86 -28h1v1h-1zM62 -29h1v1h-1zM68 -29h1v1h-1zM89 -29h1v1h-1zM55 -30h1v1h-1zM58 -31h1v1h-1zM73 -32h1v1h-1zM87 -32h1v1h-1zM92 -32h1v1h-1zM68 -33h1v1h-1zM81 -33h1v1h-1zM75 -34h1v1h-1zM63 -35h1v1h-1zM68 -35h1v1h-1zM89 -35h1v1h-1zM65 -37h1v1h-1zM72 -37h1v1h-1zM76 -37h1v1h-1zM78 -37h1v1h-1zM65 -38h1v1h-1zM76 -38h1v1h-1zM77 -39h1v1h-1zM82 -39h1v1h-1zM85 -39h1v1h-1zM86 -41h1v1h-1zM80 -42h1v1h-1zM83 -42h1v1h-1zM80 -43h1v1h-1zM83 -43h1v1h-1zM62 -44h1v1h-1zM80 -44h1v1h-1zM87 -45h1v1h-1zM73 -46h1v1h-1zM89 -46h1v1h-1zM65 -47h1v1h-1zM85 -47h1v1h-1zM86 -48h1v1h-1zM76 -49h1v1h-1zM84 -49h1v1h-1zM85 -49h1v1h-1zM93 -53h1v1h-1zM89 -56h1v1h-1zM86 -58h1v1h-1zM92 -58h1v1h-1zM87 -59h1v1h-1zM93 -63h1v1h-1zM92 -64h1v1h-1zM92 -69h1v1h-1z"/>
<path fill="#e191a0" d="M13 -9h1v1h-1z"/>
<path fill="#e6b9c3" d="M14 -9h1v1h-1zM74 -64h1v1h-1zM78 -69h1v1h-1zM76 -76h1v1h-1zM91 -90h1v1h-1zM95 -90h1v1h-1zM92 -92h1v1h-1z"/>
<path fill="#e6afb9" d="M16 -9h1v1h-1zM13 -11h1v1h-1zM36 -26h1v1h-1zM35 -31h1v1h-1zM93 -86h1v1h-1zM93 -87h1v1h-1z"/>
<path fill="#e6a0af" d="M17 -9h1v1h-1zM94 -87h1v1h-1zM92 -91h1v1h-1z"/>
<path fill="#ebafb4" d="M19 -9h1v1h-1zM20 -12h1v1h-1zM40 -26h1v1h-1zM65 -65h1v1h-1z"/>
<path fill="#f5e1eb" d="M24 -9h1v1h-1zM27 -14h1v1h-1zM34 -20h1v1h-1zM44 -21h1v1h-1zM39 -24h1v1h-1zM79 -56h1v1h-1z"/>
<path fill="#ebe6f0" d="M36 -9h1v1h-1zM39 -10h1v1h-1zM33 -15h1v1h-1zM61 -17h1v1h-1zM48 -27h1v1h-1zM38 -28h1v1h-1zM39 -28h1v1h-1zM48 -28h1v1h-1zM45 -30h1v1h-1zM71 -34h1v1h-1zM82 -45h1v1h-1zM74 -47h1v1h-1zM75 -52h1v1h-1zM90 -55h1v1h-1zM83 -57h1v1h-1zM79 -59h1v1h-1zM90 -59h1v1h-1zM89 -61h1v1h-1zM83 -66h1v1h-1zM84 -74h1v1h-1zM87 -76h1v1h-1z"/>
<path fill="#f5e6e6" d="M40 -9h1v1h-1zM24 -11h1v1h-1zM40 -22h1v1h-1zM45 -26h1v1h-1zM77 -52h1v1h-1zM82 -61h1v1h-1zM72 -66h1v1h-1zM79 -67h1v1h-1zM95 -79h1v1h-1z"/>
<path fill="#d22837" d="M13 -10h1v1h-1zM15 -14h1v1h-1zM23 -17h1v1h-1zM20 -18h1v1h-1zM37 -37h1v1h-1zM49 -49h1v1h-1zM87 -79h1v1h-1zM82 -80h1v1h-1zM88 -86h1v1h-1zM89 -89h1v1h-1z"/>
<path fill="#ebb4be" d="M15 -10h1v1h-1zM33 -25h1v1h-1zM33 -26h1v1h-1zM42 -35h1v1h-1zM42 -36h1v1h-1zM95 -88h1v1h-1z"/>
<path fill="#e6b4c3" d="M16 -10h1v1h-1zM29 -28h1v1h-1zM31 -30h1v1h-1zM77 -76h1v1h-1z"/>
<path fill="#e196a5" d="M17 -10h1v1h-1zM34 -32h1v1h-1zM41 -38h1v1h-1zM45 -40h1v1h-1zM46 -42h1v1h-1zM77 -72h1v1h-1z"/>
<path fill="#e691a0" d="M19 -10h1v1h-1z"/>
<path fill="#ebb4b9" d="M20 -10h1v1h-1zM51 -41h1v1h-1z"/>
<path fill="#ebb9c3" d="M21 -10h1v1h-1zM16 -12h1v1h-1zM72 -70h1v1h-1z"/>
<path fill="#f5d7e1" d="M28 -10h1v1h-1z"/>
<path fill="#ebe1f0" d="M36 -10h1v1h-1zM44 -10h1v1h-1zM52 -10h1v1h-1zM52 -14h1v1h-1zM52 -15h1v1h-1zM48 -17h1v1h-1zM52 -17h1v1h-1zM42 -18h1v1h-1zM53 -18h1v1h-1zM59 -18h1v1h-1zM46 -19h1v1h-1zM37 -23h1v1h-1zM46 -26h1v1h-1zM46 -29h1v1h-1zM49 -31h1v1h-1zM53 -34h1v1h-1zM70 -34h1v1h-1zM58 -35h1v1h-1zM58 -36h1v1h-1zM66 -37h1v1h-1zM66 -38h1v1h-1zM67 -39h1v1h-1zM63 -42h1v1h-1zM68 -42h1v1h-1zM58 -44h1v1h-1zM74 -50h1v1h-1zM78 -50h1v1h-1zM89 -52h1v1h-1zM75 -54h1v1h-1zM86 -56h1v1h-1zM77 -58h1v1h-1zM73 -60h1v1h-1zM89 -60h1v1h-1zM83 -61h1v1h-1zM89 -62h1v1h-1zM85 -64h1v1h-1zM89 -65h1v1h-1zM75 -66h1v1h-1zM89 -67h1v1h-1zM93 -69h1v1h-1zM92 -71h1v1h-1zM89 -73h1v1h-1zM92 -74h1v1h-1z"/>
<path fill="#ebdceb" d="M37 -10h1v1h-1zM48 -14h1v1h-1zM37 -15h1v1h-1zM38 -17h1v1h-1zM33 -19h1v1h-1zM44 -20h1v1h-1zM49 -26h1v1h-1zM52 -26h1v1h-1zM43 -37h1v1h-1zM60 -39h1v1h-1zM70 -41h1v1h-1zM81 -52h1v1h-1zM76 -53h1v1h-1zM74 -59h1v1h-1zM80 -61h1v1h-1zM86 -62h1v1h-1zM72 -64h1v1h-1zM73 -66h1v1h-1zM90 -69h1v1h-1zM89 -70h1v1h-1zM89 -72h1v1h-1z"/>
<path fill="#e1e1f5" d="M80 -10h1v1h-1zM86 -10h1v1h-1zM89 -10h1v1h-1zM92 -10h1v1h-1zM80 -14h1v1h-1zM89 -14h1v1h-1zM62 -17h1v1h-1zM68 -17h1v1h-1zM75 -17h1v1h-1zM81 -17h1v1h-1zM62 -18h1v1h-1zM73 -18h1v1h-1zM83 -19h1v1h-1zM89 -19h1v1h-1zM81 -20h1v1h-1zM81 -23h1v1h-1zM89 -23h1v1h-1zM62 -28h1v1h-1zM89 -28h1v1h-1zM57 -30h1v1h-1zM70 -30h1v1h-1zM71 -30h1v1h-1zM77 -30h1v1h-1zM68 -31h1v1h-1zM83 -31h1v1h-1zM86 -31h1v1h-1zM81 -32h1v1h-1zM86 -33h1v1h-1zM80 -35h1v1h-1zM81 -35h1v1h-1zM86 -35h1v1h-1zM89 -36h1v1h-1zM64 -37h1v1h-1zM90 -37h1v1h-1zM85 -38h1v1h-1zM70 -40h1v1h-1zM75 -40h1v1h-1zM87 -40h1v1h-1zM77 -45h1v1h-1zM92 -45h1v1h-1zM86 -46h1v1h-1zM92 -47h1v1h-1zM82 -50h1v1h-1zM92 -50h1v1h-1zM92 -59h1v1h-1z"/>
<path fill="#e696a0" d="M14 -11h1v1h-1zM24 -14h1v1h-1zM26 -14h1v1h-1zM25 -15h1v1h-1zM24 -17h1v1h-1zM45 -41h1v1h-1z"/>
<path fill="#e17887" d="M15 -11h1v1h-1zM26 -19h1v1h-1zM32 -32h1v1h-1z"/>
<path fill="#e696a5" d="M13 -12h1v1h-1z"/>
<path fill="#dc6473" d="M15 -12h1v1h-1zM30 -19h1v1h-1zM63 -60h1v1h-1zM81 -78h1v1h-1zM89 -85h1v1h-1z"/>
<path fill="#e18291" d="M17 -12h1v1h-1zM24 -20h1v1h-1zM76 -71h1v1h-1z"/>
<path fill="#e6aab9" d="M18 -12h1v1h-1z"/>
<path fill="#f0c3cd" d="M21 -12h1v1h-1zM35 -26h1v1h-1zM34 -27h1v1h-1zM43 -42h1v1h-1z"/>
<path fill="#d74150" d="M13 -13h1v1h-1zM14 -13h1v1h-1zM16 -15h1v1h-1zM23 -22h1v1h-1zM33 -33h1v1h-1zM35 -34h1v1h-1zM37 -35h1v1h-1zM58 -54h1v1h-1zM77 -75h1v1h-1zM82 -78h1v1h-1zM88 -80h1v1h-1zM86 -81h1v1h-1zM83 -83h1v1h-1zM86 -84h1v1h-1zM90 -84h1v1h-1zM88 -85h1v1h-1zM89 -86h1v1h-1z"/>
<path fill="#d22d3c" d="M15 -13h1v1h-1zM21 -15h1v1h-1zM23 -15h1v1h-1zM17 -16h1v1h-1zM23 -20h1v1h-1zM28 -26h1v1h-1zM38 -37h1v1h-1zM54 -51h1v1h-1zM57 -54h1v1h-1zM62 -61h1v1h-1zM67 -63h1v1h-1zM79 -79h1v1h-1zM85 -82h1v1h-1zM84 -83h1v1h-1zM85 -83h1v1h-1zM90 -86h1v1h-1zM90 -88h1v1h-1z"/>
<path fill="#d23746" d="M16 -13h1v1h-1zM19 -13h1v1h-1zM23 -13h1v1h-1zM20 -15h1v1h-1zM16 -16h1v1h-1zM21 -21h1v1h-1zM25 -25h1v1h-1zM26 -25h1v1h-1zM33 -32h1v1h-1zM36 -36h1v1h-1zM37 -36h1v1h-1zM40 -37h1v1h-1zM48 -48h1v1h-1zM55 -52h1v1h-1zM78 -75h1v1h-1zM78 -78h1v1h-1zM83 -78h1v1h-1zM85 -78h1v1h-1zM86 -79h1v1h-1zM88 -79h1v1h-1zM88 -81h1v1h-1zM89 -83h1v1h-1zM90 -83h1v1h-1zM90 -85h1v1h-1z"/>
<path fill="#dc5564" d="M17 -13h1v1h-1zM21 -17h1v1h-1zM35 -33h1v1h-1zM57 -51h1v1h-1zM60 -60h1v1h-1zM66 -63h1v1h-1zM67 -65h1v1h-1zM80 -77h1v1h-1zM88 -77h1v1h-1zM84 -78h1v1h-1zM87 -78h1v1h-1zM85 -79h1v1h-1zM81 -80h1v1h-1zM90 -87h1v1h-1z"/>
<path fill="#d74b55" d="M18 -13h1v1h-1zM36 -33h1v1h-1zM77 -77h1v1h-1zM89 -87h1v1h-1z"/>
<path fill="#d74655" d="M20 -13h1v1h-1zM14 -14h1v1h-1zM22 -14h1v1h-1zM23 -14h1v1h-1zM23 -16h1v1h-1zM19 -17h1v1h-1zM20 -17h1v1h-1zM18 -18h1v1h-1zM23 -18h1v1h-1zM37 -33h1v1h-1zM52 -51h1v1h-1zM54 -52h1v1h-1zM57 -53h1v1h-1zM63 -62h1v1h-1zM64 -64h1v1h-1zM67 -64h1v1h-1zM76 -75h1v1h-1zM81 -77h1v1h-1zM90 -78h1v1h-1zM84 -80h1v1h-1zM85 -80h1v1h-1zM90 -80h1v1h-1zM82 -81h1v1h-1zM84 -84h1v1h-1zM90 -89h1v1h-1z"/>
<path fill="#d22337" d="M21 -13h1v1h-1zM19 -14h1v1h-1zM22 -15h1v1h-1zM28 -25h1v1h-1zM95 -94h1v1h-1z"/>
<path fill="#e17382" d="M25 -13h1v1h-1zM29 -15h1v1h-1zM25 -18h1v1h-1zM26 -18h1v1h-1zM30 -18h1v1h-1zM31 -31h1v1h-1zM74 -70h1v1h-1z"/>
<path fill="#e68791" d="M28 -13h1v1h-1zM28 -15h1v1h-1zM31 -15h1v1h-1zM28 -21h1v1h-1zM32 -29h1v1h-1zM47 -42h1v1h-1zM79 -75h1v1h-1z"/>
<path fill="#e1828c" d="M30 -13h1v1h-1zM30 -17h1v1h-1zM31 -18h1v1h-1zM25 -19h1v1h-1zM32 -20h1v1h-1zM24 -22h1v1h-1zM32 -25h1v1h-1zM31 -26h1v1h-1zM32 -26h1v1h-1zM93 -91h1v1h-1z"/>
<path fill="#e17882" d="M31 -13h1v1h-1zM30 -16h1v1h-1zM27 -17h1v1h-1zM24 -18h1v1h-1zM74 -72h1v1h-1z"/>
<path fill="#e69ba0" d="M32 -13h1v1h-1zM94 -91h1v1h-1z"/>
<path fill="#dc5a69" d="M16 -14h1v1h-1zM35 -32h1v1h-1zM64 -62h1v1h-1zM66 -65h1v1h-1zM67 -67h1v1h-1zM78 -77h1v1h-1zM84 -77h1v1h-1zM85 -77h1v1h-1zM80 -78h1v1h-1zM89 -78h1v1h-1zM83 -80h1v1h-1zM86 -80h1v1h-1zM83 -81h1v1h-1zM89 -81h1v1h-1zM83 -82h1v1h-1z"/>
<path fill="#d74b5a" d="M17 -14h1v1h-1zM20 -14h1v1h-1zM18 -15h1v1h-1zM20 -16h1v1h-1zM18 -17h1v1h-1zM19 -18h1v1h-1zM23 -21h1v1h-1zM36 -34h1v1h-1zM38 -34h1v1h-1zM49 -48h1v1h-1zM56 -52h1v1h-1zM58 -52h1v1h-1zM55 -53h1v1h-1zM62 -60h1v1h-1zM61 -61h1v1h-1zM65 -62h1v1h-1zM66 -62h1v1h-1zM87 -77h1v1h-1zM89 -77h1v1h-1zM81 -79h1v1h-1zM88 -82h1v1h-1zM86 -85h1v1h-1zM87 -85h1v1h-1z"/>
<path fill="#d73c4b" d="M18 -14h1v1h-1zM17 -17h1v1h-1zM26 -26h1v1h-1zM38 -33h1v1h-1zM34 -34h1v1h-1zM35 -35h1v1h-1zM36 -35h1v1h-1zM38 -35h1v1h-1zM38 -38h1v1h-1zM56 -51h1v1h-1zM58 -51h1v1h-1zM56 -56h1v1h-1zM58 -56h1v1h-1zM57 -57h1v1h-1zM63 -61h1v1h-1zM79 -78h1v1h-1zM86 -78h1v1h-1zM80 -79h1v1h-1zM83 -79h1v1h-1zM84 -81h1v1h-1zM85 -81h1v1h-1zM86 -83h1v1h-1zM87 -83h1v1h-1zM88 -83h1v1h-1zM88 -87h1v1h-1zM90 -90h1v1h-1z"/>
<path fill="#d2374b" d="M21 -14h1v1h-1zM28 -27h1v1h-1zM70 -53h1v1h-1zM87 -82h1v1h-1z"/>
<path fill="#e68796" d="M28 -14h1v1h-1z"/>
<path fill="#ebd2e1" d="M36 -14h1v1h-1zM33 -18h1v1h-1zM34 -18h1v1h-1zM36 -25h1v1h-1zM40 -30h1v1h-1zM86 -70h1v1h-1zM78 -76h1v1h-1z"/>
<path fill="#ebd2dc" d="M37 -14h1v1h-1zM38 -14h1v1h-1zM33 -17h1v1h-1zM29 -20h1v1h-1zM39 -20h1v1h-1zM40 -32h1v1h-1zM45 -32h1v1h-1zM41 -34h1v1h-1zM42 -34h1v1h-1zM76 -64h1v1h-1zM86 -68h1v1h-1zM94 -81h1v1h-1zM93 -93h1v1h-1z"/>
<path fill="#e1dcf5" d="M92 -14h1v1h-1zM89 -15h1v1h-1zM73 -17h1v1h-1zM87 -17h1v1h-1zM80 -20h1v1h-1zM86 -20h1v1h-1zM80 -29h1v1h-1zM87 -30h1v1h-1zM92 -30h1v1h-1zM62 -31h1v1h-1zM89 -31h1v1h-1zM83 -33h1v1h-1zM62 -35h1v1h-1zM83 -35h1v1h-1zM79 -37h1v1h-1zM72 -38h1v1h-1zM83 -46h1v1h-1zM87 -47h1v1h-1zM83 -48h1v1h-1zM87 -50h1v1h-1zM92 -55h1v1h-1z"/>
<path fill="#d23241" d="M15 -15h1v1h-1zM17 -15h1v1h-1zM18 -16h1v1h-1zM19 -16h1v1h-1zM57 -52h1v1h-1zM54 -53h1v1h-1zM56 -54h1v1h-1zM87 -80h1v1h-1zM94 -94h1v1h-1zM95 -95h1v1h-1z"/>
<path fill="#d7505f" d="M19 -15h1v1h-1zM20 -20h1v1h-1zM52 -52h1v1h-1zM53 -53h1v1h-1zM57 -55h1v1h-1zM57 -56h1v1h-1zM66 -60h1v1h-1zM65 -61h1v1h-1zM66 -61h1v1h-1zM67 -62h1v1h-1zM82 -79h1v1h-1zM87 -84h1v1h-1zM89 -88h1v1h-1z"/>
<path fill="#e18791" d="M26 -15h1v1h-1zM30 -15h1v1h-1zM28 -17h1v1h-1zM30 -22h1v1h-1zM32 -24h1v1h-1zM34 -29h1v1h-1z"/>
<path fill="#d22332" d="M21 -16h1v1h-1zM87 -87h1v1h-1z"/>
<path fill="#e16e7d" d="M25 -16h1v1h-1zM25 -21h1v1h-1zM25 -24h1v1h-1zM30 -24h1v1h-1zM31 -24h1v1h-1zM30 -26h1v1h-1z"/>
<path fill="#e68c96" d="M32 -16h1v1h-1zM24 -19h1v1h-1zM31 -19h1v1h-1zM31 -21h1v1h-1zM24 -24h1v1h-1zM26 -24h1v1h-1zM32 -27h1v1h-1zM47 -41h1v1h-1zM78 -72h1v1h-1z"/>
<path fill="#ebd7e1" d="M29 -17h1v1h-1zM37 -19h1v1h-1zM38 -20h1v1h-1zM37 -24h1v1h-1zM29 -25h1v1h-1zM31 -28h1v1h-1zM34 -28h1v1h-1zM44 -31h1v1h-1zM73 -67h1v1h-1zM76 -74h1v1h-1zM93 -81h1v1h-1z"/>
<path fill="#e1c8dc" d="M36 -17h1v1h-1zM46 -34h1v1h-1zM47 -38h1v1h-1zM65 -64h1v1h-1z"/>
<path fill="#e6d7e6" d="M37 -17h1v1h-1zM44 -18h1v1h-1zM48 -18h1v1h-1zM54 -26h1v1h-1zM46 -35h1v1h-1zM48 -36h1v1h-1zM50 -37h1v1h-1zM53 -40h1v1h-1zM77 -59h1v1h-1zM85 -69h1v1h-1zM77 -74h1v1h-1zM86 -76h1v1h-1zM92 -82h1v1h-1z"/>
<path fill="#ebe1eb" d="M39 -17h1v1h-1zM38 -18h1v1h-1zM39 -18h1v1h-1zM36 -19h1v1h-1zM37 -25h1v1h-1zM53 -32h1v1h-1zM61 -34h1v1h-1zM55 -40h1v1h-1zM60 -40h1v1h-1zM57 -42h1v1h-1zM75 -60h1v1h-1zM87 -60h1v1h-1zM73 -61h1v1h-1zM73 -65h1v1h-1zM80 -67h1v1h-1z"/>
<path fill="#ebcdd7" d="M40 -17h1v1h-1zM27 -18h1v1h-1zM36 -22h1v1h-1zM33 -28h1v1h-1zM35 -30h1v1h-1zM42 -32h1v1h-1zM85 -72h1v1h-1zM94 -84h1v1h-1z"/>
<path fill="#e6e1f0" d="M54 -17h1v1h-1zM49 -18h1v1h-1zM52 -18h1v1h-1zM36 -23h1v1h-1zM52 -28h1v1h-1zM49 -29h1v1h-1zM46 -30h1v1h-1zM63 -31h1v1h-1zM57 -32h1v1h-1zM58 -32h1v1h-1zM54 -33h1v1h-1zM63 -33h1v1h-1zM74 -37h1v1h-1zM79 -38h1v1h-1zM90 -38h1v1h-1zM64 -39h1v1h-1zM69 -39h1v1h-1zM74 -39h1v1h-1zM68 -41h1v1h-1zM81 -41h1v1h-1zM83 -41h1v1h-1zM81 -48h1v1h-1zM82 -49h1v1h-1zM65 -50h1v1h-1zM79 -50h1v1h-1zM89 -54h1v1h-1zM84 -55h1v1h-1zM75 -56h1v1h-1zM80 -57h1v1h-1zM87 -58h1v1h-1zM86 -60h1v1h-1zM84 -63h1v1h-1z"/>
<path fill="#dcd7f5" d="M80 -17h1v1h-1zM83 -18h1v1h-1zM62 -30h1v1h-1zM68 -30h1v1h-1zM73 -30h1v1h-1zM86 -30h1v1h-1zM80 -32h1v1h-1zM83 -32h1v1h-1zM80 -34h1v1h-1zM92 -37h1v1h-1zM73 -40h1v1h-1z"/>
<path fill="#dcdcf5" d="M83 -17h1v1h-1zM86 -17h1v1h-1zM92 -17h1v1h-1zM80 -28h1v1h-1zM58 -30h1v1h-1zM75 -30h1v1h-1zM80 -31h1v1h-1zM86 -32h1v1h-1zM80 -33h1v1h-1zM89 -33h1v1h-1zM73 -34h1v1h-1zM86 -34h1v1h-1zM89 -34h1v1h-1zM85 -37h1v1h-1zM92 -39h1v1h-1zM86 -40h1v1h-1zM86 -45h1v1h-1zM80 -48h1v1h-1zM72 -49h1v1h-1zM92 -49h1v1h-1zM92 -63h1v1h-1z"/>
<path fill="#d2d2f0" d="M89 -17h1v1h-1zM80 -30h1v1h-1zM89 -30h1v1h-1zM80 -39h1v1h-1zM80 -45h1v1h-1zM83 -45h1v1h-1zM75 -47h1v1h-1zM86 -47h1v1h-1zM73 -50h1v1h-1z"/>
<path fill="#d2283c" d="M21 -18h1v1h-1zM23 -19h1v1h-1zM27 -26h1v1h-1zM58 -58h1v1h-1zM85 -84h1v1h-1zM87 -86h1v1h-1z"/>
<path fill="#e6c8d7" d="M22 -18h1v1h-1zM83 -70h1v1h-1zM86 -72h1v1h-1z"/>
<path fill="#e6dceb" d="M29 -18h1v1h-1zM54 -20h1v1h-1zM38 -30h1v1h-1zM39 -30h1v1h-1zM49 -35h1v1h-1zM64 -38h1v1h-1zM83 -52h1v1h-1zM84 -53h1v1h-1zM65 -59h1v1h-1zM83 -60h1v1h-1zM87 -74h1v1h-1zM92 -84h1v1h-1z"/>
<path fill="#ebd7e6" d="M35 -18h1v1h-1zM37 -20h1v1h-1zM52 -20h1v1h-1zM48 -26h1v1h-1zM38 -29h1v1h-1zM50 -39h1v1h-1zM59 -40h1v1h-1zM61 -40h1v1h-1zM58 -42h1v1h-1zM76 -59h1v1h-1zM81 -62h1v1h-1zM89 -68h1v1h-1zM82 -74h1v1h-1z"/>
<path fill="#e6cddc" d="M36 -18h1v1h-1zM32 -30h1v1h-1zM33 -30h1v1h-1zM48 -35h1v1h-1zM82 -64h1v1h-1zM87 -71h1v1h-1z"/>
<path fill="#e1bed2" d="M37 -18h1v1h-1zM45 -37h1v1h-1zM51 -38h1v1h-1zM77 -69h1v1h-1zM83 -72h1v1h-1z"/>
<path fill="#f0dce1" d="M40 -18h1v1h-1zM36 -21h1v1h-1zM38 -21h1v1h-1zM90 -71h1v1h-1zM91 -84h1v1h-1z"/>
<path fill="#e1d7eb" d="M54 -18h1v1h-1zM54 -31h1v1h-1zM48 -32h1v1h-1zM54 -32h1v1h-1zM59 -38h1v1h-1zM74 -38h1v1h-1zM72 -53h1v1h-1zM77 -53h1v1h-1zM87 -53h1v1h-1zM76 -55h1v1h-1zM80 -66h1v1h-1zM89 -69h1v1h-1z"/>
<path fill="#d7d7f0" d="M80 -18h1v1h-1zM81 -18h1v1h-1zM86 -18h1v1h-1zM89 -18h1v1h-1zM83 -34h1v1h-1zM87 -37h1v1h-1zM73 -39h1v1h-1zM75 -39h1v1h-1zM89 -39h1v1h-1zM75 -45h1v1h-1zM89 -45h1v1h-1zM75 -50h1v1h-1zM89 -50h1v1h-1zM87 -55h1v1h-1zM75 -59h1v1h-1zM86 -59h1v1h-1zM89 -63h1v1h-1z"/>
<path fill="#d7d7f5" d="M92 -18h1v1h-1zM81 -30h1v1h-1zM83 -30h1v1h-1zM89 -32h1v1h-1zM83 -40h1v1h-1zM89 -40h1v1h-1z"/>
<path fill="#cd1e2d" d="M19 -19h1v1h-1zM20 -19h1v1h-1zM21 -20h1v1h-1zM37 -34h1v1h-1zM56 -53h1v1h-1z"/>
<path fill="#cd1428" d="M21 -19h1v1h-1zM39 -38h1v1h-1z"/>
<path fill="#dc6e78" d="M26 -20h1v1h-1zM64 -60h1v1h-1zM76 -72h1v1h-1z"/>
<path fill="#f5f0f0" d="M59 -21h1v1h-1zM61 -21h1v1h-1zM78 -54h1v1h-1z"/>
<path fill="#dc646e" d="M28 -22h1v1h-1zM50 -49h1v1h-1zM50 -50h1v1h-1zM67 -61h1v1h-1zM62 -62h1v1h-1zM64 -63h1v1h-1zM83 -77h1v1h-1zM86 -77h1v1h-1z"/>
<path fill="#e16e78" d="M31 -22h1v1h-1z"/>
<path fill="#e6c8d2" d="M37 -26h1v1h-1z"/>
<path fill="#ebb9c8" d="M38 -26h1v1h-1zM79 -71h1v1h-1zM93 -88h1v1h-1z"/>
<path fill="#f0b9c3" d="M27 -27h1v1h-1zM74 -67h1v1h-1z"/>
<path fill="#e6d2e1" d="M36 -28h1v1h-1zM46 -31h1v1h-1zM46 -33h1v1h-1zM49 -36h1v1h-1zM52 -36h1v1h-1zM50 -38h1v1h-1zM55 -39h1v1h-1zM63 -41h1v1h-1zM49 -44h1v1h-1zM52 -44h1v1h-1zM81 -60h1v1h-1zM83 -62h1v1h-1zM78 -64h1v1h-1zM79 -64h1v1h-1zM92 -87h1v1h-1z"/>
<path fill="#963241" d="M29 -29h1v1h-1z"/>
<path fill="#963246" d="M30 -29h1v1h-1zM41 -41h1v1h-1z"/>
<path fill="#dc7382" d="M33 -29h1v1h-1z"/>
<path fill="#e1b9c8" d="M36 -29h1v1h-1z"/>
<path fill="#e1a0b4" d="M37 -29h1v1h-1z"/>
<path fill="#e6d7eb" d="M48 -29h1v1h-1zM56 -37h1v1h-1zM56 -38h1v1h-1zM82 -53h1v1h-1zM81 -56h1v1h-1zM79 -63h1v1h-1zM89 -76h1v1h-1z"/>
<path fill="#e1d2e6" d="M52 -29h1v1h-1zM37 -30h1v1h-1zM48 -31h1v1h-1zM49 -32h1v1h-1zM49 -33h1v1h-1zM52 -33h1v1h-1zM52 -35h1v1h-1zM54 -36h1v1h-1zM67 -38h1v1h-1zM61 -39h1v1h-1zM58 -41h1v1h-1zM74 -49h1v1h-1zM78 -55h1v1h-1zM79 -55h1v1h-1zM80 -60h1v1h-1zM80 -62h1v1h-1zM72 -63h1v1h-1zM76 -63h1v1h-1zM78 -63h1v1h-1zM82 -63h1v1h-1zM75 -71h1v1h-1zM89 -71h1v1h-1zM81 -74h1v1h-1z"/>
<path fill="#e1dcf0" d="M54 -29h1v1h-1zM52 -30h1v1h-1zM63 -32h1v1h-1zM58 -33h1v1h-1zM62 -33h1v1h-1zM81 -34h1v1h-1zM62 -36h1v1h-1zM67 -37h1v1h-1zM69 -37h1v1h-1zM82 -37h1v1h-1zM69 -38h1v1h-1zM78 -38h1v1h-1zM71 -39h1v1h-1zM71 -40h1v1h-1zM80 -41h1v1h-1zM77 -47h1v1h-1zM87 -49h1v1h-1zM77 -50h1v1h-1zM80 -52h1v1h-1zM85 -53h1v1h-1zM92 -53h1v1h-1zM86 -54h1v1h-1zM73 -56h1v1h-1zM83 -56h1v1h-1zM75 -58h1v1h-1zM89 -74h1v1h-1zM92 -81h1v1h-1z"/>
<path fill="#e6cde1" d="M34 -30h1v1h-1zM46 -36h1v1h-1zM43 -38h1v1h-1z"/>
<path fill="#dcc3d7" d="M36 -30h1v1h-1zM53 -39h1v1h-1zM80 -74h1v1h-1z"/>
<path fill="#e6dcf0" d="M44 -30h1v1h-1zM57 -34h1v1h-1zM60 -37h1v1h-1zM60 -38h1v1h-1zM54 -44h1v1h-1zM79 -45h1v1h-1zM79 -49h1v1h-1zM82 -55h1v1h-1zM78 -59h1v1h-1zM85 -63h1v1h-1zM87 -64h1v1h-1z"/>
<path fill="#dcd7eb" d="M48 -30h1v1h-1zM63 -34h1v1h-1zM54 -35h1v1h-1zM71 -37h1v1h-1zM57 -39h1v1h-1zM87 -63h1v1h-1z"/>
<path fill="#dcd7f0" d="M49 -30h1v1h-1zM62 -32h1v1h-1zM58 -34h1v1h-1zM77 -37h1v1h-1zM77 -38h1v1h-1zM82 -38h1v1h-1zM86 -39h1v1h-1zM87 -39h1v1h-1zM68 -40h1v1h-1zM62 -41h1v1h-1zM81 -45h1v1h-1zM65 -49h1v1h-1zM77 -49h1v1h-1zM86 -50h1v1h-1zM80 -54h1v1h-1zM83 -54h1v1h-1zM72 -55h1v1h-1zM85 -55h1v1h-1zM80 -56h1v1h-1zM83 -58h1v1h-1zM83 -59h1v1h-1zM89 -59h1v1h-1zM89 -64h1v1h-1z"/>
<path fill="#d7d2f0" d="M54 -30h1v1h-1zM86 -37h1v1h-1zM75 -38h1v1h-1zM87 -38h1v1h-1zM92 -38h1v1h-1zM70 -39h1v1h-1zM81 -39h1v1h-1zM83 -39h1v1h-1zM73 -45h1v1h-1zM89 -47h1v1h-1zM86 -49h1v1h-1zM83 -50h1v1h-1zM86 -55h1v1h-1zM89 -55h1v1h-1zM81 -59h1v1h-1z"/>
<path fill="#dcdcf0" d="M63 -30h1v1h-1zM68 -32h1v1h-1zM68 -34h1v1h-1zM81 -40h1v1h-1zM80 -46h1v1h-1zM89 -58h1v1h-1z"/>
<path fill="#e19baf" d="M36 -31h1v1h-1z"/>
<path fill="#dcafc3" d="M37 -31h1v1h-1z"/>
<path fill="#e1aab9" d="M38 -31h1v1h-1z"/>
<path fill="#eba5af" d="M40 -31h1v1h-1z"/>
<path fill="#e6d2e6" d="M52 -31h1v1h-1z"/>
<path fill="#e1a5b4" d="M36 -32h1v1h-1z"/>
<path fill="#e1aabe" d="M37 -32h1v1h-1z"/>
<path fill="#dca0b4" d="M38 -32h1v1h-1zM49 -41h1v1h-1z"/>
<path fill="#e6afbe" d="M39 -32h1v1h-1zM75 -73h1v1h-1zM93 -90h1v1h-1z"/>
<path fill="#e1c3d7" d="M44 -32h1v1h-1zM44 -33h1v1h-1zM47 -39h1v1h-1z"/>
<path fill="#e1cddc" d="M46 -32h1v1h-1zM81 -76h1v1h-1z"/>
<path fill="#e1cde1" d="M52 -32h1v1h-1zM48 -33h1v1h-1zM51 -37h1v1h-1zM59 -39h1v1h-1zM78 -53h1v1h-1zM79 -53h1v1h-1zM74 -63h1v1h-1zM77 -64h1v1h-1zM68 -66h1v1h-1zM80 -73h1v1h-1z"/>
<path fill="#dc5a64" d="M34 -33h1v1h-1zM51 -51h1v1h-1zM55 -51h1v1h-1zM56 -55h1v1h-1zM84 -82h1v1h-1zM88 -84h1v1h-1zM85 -85h1v1h-1z"/>
<path fill="#e6c3d2" d="M39 -33h1v1h-1zM47 -40h1v1h-1zM81 -70h1v1h-1zM91 -87h1v1h-1z"/>
<path fill="#dc8296" d="M39 -34h1v1h-1zM74 -69h1v1h-1z"/>
<path fill="#dc7887" d="M40 -34h1v1h-1zM39 -36h1v1h-1z"/>
<path fill="#e6becd" d="M44 -34h1v1h-1zM41 -37h1v1h-1z"/>
<path fill="#dccde1" d="M48 -34h1v1h-1zM61 -38h1v1h-1zM58 -40h1v1h-1zM75 -64h1v1h-1zM83 -74h1v1h-1z"/>
<path fill="#dcc8e1" d="M49 -34h1v1h-1zM53 -38h1v1h-1zM80 -76h1v1h-1z"/>
<path fill="#dccde6" d="M52 -34h1v1h-1zM71 -38h1v1h-1zM65 -53h1v1h-1zM75 -69h1v1h-1zM81 -69h1v1h-1z"/>
<path fill="#dcd2eb" d="M54 -34h1v1h-1zM53 -37h1v1h-1zM55 -37h1v1h-1zM61 -37h1v1h-1zM57 -40h1v1h-1zM81 -54h1v1h-1zM65 -55h1v1h-1zM86 -69h1v1h-1z"/>
<path fill="#dcd2f0" d="M62 -34h1v1h-1z"/>
<path fill="#dc91a0" d="M39 -35h1v1h-1z"/>
<path fill="#e6a0a5" d="M40 -35h1v1h-1z"/>
<path fill="#e1b4c8" d="M44 -35h1v1h-1zM52 -42h1v1h-1zM80 -72h1v1h-1z"/>
<path fill="#cd1e32" d="M38 -36h1v1h-1zM88 -88h1v1h-1z"/>
<path fill="#d27891" d="M39 -37h1v1h-1zM55 -45h1v1h-1zM69 -45h1v1h-1zM60 -48h1v1h-1zM51 -50h1v1h-1zM60 -51h1v1h-1zM68 -53h1v1h-1zM73 -54h1v1h-1zM69 -61h1v1h-1zM70 -64h1v1h-1zM71 -69h1v1h-1z"/>
<path fill="#dc7d91" d="M42 -37h1v1h-1z"/>
<path fill="#d7b9d2" d="M44 -37h1v1h-1z"/>
<path fill="#d2a5c3" d="M46 -37h1v1h-1z"/>
<path fill="#dcafc8" d="M47 -37h1v1h-1z"/>
<path fill="#d2afcd" d="M48 -37h1v1h-1zM44 -38h1v1h-1zM48 -39h1v1h-1zM52 -39h1v1h-1z"/>
<path fill="#d2bedc" d="M49 -37h1v1h-1z"/>
<path fill="#cdafcd" d="M52 -37h1v1h-1zM73 -69h1v1h-1z"/>
<path fill="#cdb9dc" d="M54 -37h1v1h-1z"/>
<path fill="#d2cdeb" d="M57 -37h1v1h-1zM68 -38h1v1h-1zM75 -49h1v1h-1zM81 -49h1v1h-1zM80 -58h1v1h-1zM73 -59h1v1h-1zM86 -63h1v1h-1z"/>
<path fill="#d2cdf0" d="M58 -37h1v1h-1zM75 -37h1v1h-1zM83 -37h1v1h-1zM73 -38h1v1h-1zM81 -47h1v1h-1zM83 -47h1v1h-1zM81 -50h1v1h-1zM80 -59h1v1h-1z"/>
<path fill="#e1d2eb" d="M59 -37h1v1h-1zM78 -49h1v1h-1z"/>
<path fill="#c8c3eb" d="M62 -37h1v1h-1zM80 -38h1v1h-1zM80 -49h1v1h-1zM80 -55h1v1h-1z"/>
<path fill="#cdc8eb" d="M63 -37h1v1h-1zM68 -37h1v1h-1zM58 -38h1v1h-1zM83 -38h1v1h-1zM62 -39h1v1h-1zM62 -40h1v1h-1zM73 -49h1v1h-1zM80 -50h1v1h-1zM73 -53h1v1h-1zM83 -53h1v1h-1zM75 -55h1v1h-1zM75 -63h1v1h-1z"/>
<path fill="#d7d2eb" d="M70 -37h1v1h-1zM58 -39h1v1h-1z"/>
<path fill="#cdcdf0" d="M73 -37h1v1h-1zM81 -37h1v1h-1zM86 -38h1v1h-1zM68 -39h1v1h-1zM80 -40h1v1h-1zM73 -47h1v1h-1zM83 -49h1v1h-1z"/>
<path fill="#c8c8f0" d="M80 -37h1v1h-1zM89 -38h1v1h-1z"/>
<path fill="#cdc8f0" d="M89 -37h1v1h-1zM81 -38h1v1h-1zM80 -47h1v1h-1zM89 -49h1v1h-1z"/>
<path fill="#cd2337" d="M40 -38h1v1h-1z"/>
<path fill="#dc96aa" d="M42 -38h1v1h-1zM48 -42h1v1h-1z"/>
<path fill="#e1becd" d="M45 -38h1v1h-1zM80 -70h1v1h-1z"/>
<path fill="#d2aac8" d="M46 -38h1v1h-1z"/>
<path fill="#d2b9dc" d="M48 -38h1v1h-1z"/>
<path fill="#cdaac8" d="M49 -38h1v1h-1z"/>
<path fill="#cda5c3" d="M52 -38h1v1h-1z"/>
<path fill="#cdbee1" d="M54 -38h1v1h-1zM80 -63h1v1h-1z"/>
<path fill="#d7c8e1" d="M55 -38h1v1h-1zM49 -39h1v1h-1zM81 -64h1v1h-1z"/>
<path fill="#d7cdeb" d="M57 -38h1v1h-1zM70 -38h1v1h-1zM63 -39h1v1h-1zM63 -40h1v1h-1z"/>
<path fill="#c3b9e6" d="M62 -38h1v1h-1z"/>
<path fill="#cdc3e6" d="M63 -38h1v1h-1zM81 -53h1v1h-1zM81 -63h1v1h-1z"/>
<path fill="#d24b5f" d="M39 -39h1v1h-1zM60 -53h1v1h-1z"/>
<path fill="#d23c4b" d="M40 -39h1v1h-1zM70 -68h1v1h-1z"/>
<path fill="#d7697d" d="M41 -39h1v1h-1zM60 -52h1v1h-1zM63 -53h1v1h-1zM70 -60h1v1h-1z"/>
<path fill="#e1a0af" d="M42 -39h1v1h-1zM81 -75h1v1h-1z"/>
<path fill="#d79baf" d="M44 -39h1v1h-1z"/>
<path fill="#dcb4c8" d="M45 -39h1v1h-1zM52 -41h1v1h-1z"/>
<path fill="#d7a0b9" d="M46 -39h1v1h-1z"/>
<path fill="#e6bec8" d="M51 -39h1v1h-1zM46 -44h1v1h-1zM79 -69h1v1h-1z"/>
<path fill="#c8afd2" d="M54 -39h1v1h-1z"/>
<path fill="#962d41" d="M42 -40h1v1h-1z"/>
<path fill="#91283c" d="M44 -40h1v1h-1zM71 -71h1v1h-1z"/>
<path fill="#d291aa" d="M46 -40h1v1h-1zM59 -50h1v1h-1z"/>
<path fill="#d7bedc" d="M48 -40h1v1h-1zM80 -69h1v1h-1z"/>
<path fill="#dcb9d2" d="M49 -40h1v1h-1z"/>
<path fill="#ebcddc" d="M51 -40h1v1h-1z"/>
<path fill="#d2b9d7" d="M52 -40h1v1h-1z"/>
<path fill="#d2c3e1" d="M54 -40h1v1h-1z"/>
<path fill="#9b374b" d="M44 -41h1v1h-1z"/>
<path fill="#dc8c9b" d="M46 -41h1v1h-1z"/>
<path fill="#dca5b9" d="M48 -41h1v1h-1z"/>
<path fill="#dcc8dc" d="M54 -41h1v1h-1zM74 -55h1v1h-1zM83 -76h1v1h-1z"/>
<path fill="#a0465a" d="M42 -42h1v1h-1z"/>
<path fill="#e1afbe" d="M49 -42h1v1h-1z"/>
<path fill="#dcbed7" d="M54 -42h1v1h-1z"/>
<path fill="#dcd2e6" d="M62 -42h1v1h-1zM86 -64h1v1h-1zM83 -69h1v1h-1z"/>
<path fill="#962d3c" d="M44 -43h1v1h-1z"/>
<path fill="#c8a5cd" d="M45 -43h1v1h-1zM58 -50h1v1h-1zM68 -50h1v1h-1z"/>
<path fill="#c89bbe" d="M46 -43h1v1h-1zM50 -43h1v1h-1zM66 -43h1v1h-1zM46 -46h1v1h-1zM66 -46h1v1h-1zM68 -46h1v1h-1zM57 -47h1v1h-1zM58 -47h1v1h-1zM62 -47h1v1h-1zM57 -48h1v1h-1zM62 -48h1v1h-1zM56 -50h1v1h-1zM62 -51h1v1h-1zM66 -57h1v1h-1zM68 -57h1v1h-1zM68 -58h1v1h-1z"/>
<path fill="#c88caa" d="M47 -43h1v1h-1z"/>
<path fill="#cd96b4" d="M48 -43h1v1h-1zM46 -45h1v1h-1zM55 -46h1v1h-1zM63 -46h1v1h-1zM64 -46h1v1h-1zM63 -47h1v1h-1zM64 -47h1v1h-1zM66 -51h1v1h-1zM69 -57h1v1h-1zM69 -59h1v1h-1zM69 -67h1v1h-1z"/>
<path fill="#c8a0c8" d="M49 -43h1v1h-1zM68 -43h1v1h-1zM58 -46h1v1h-1zM62 -50h1v1h-1zM62 -57h1v1h-1z"/>
<path fill="#d287a5" d="M51 -43h1v1h-1zM70 -47h1v1h-1z"/>
<path fill="#d26e82" d="M52 -43h1v1h-1zM71 -46h1v1h-1zM61 -48h1v1h-1zM67 -48h1v1h-1zM70 -49h1v1h-1zM61 -51h1v1h-1zM69 -54h1v1h-1zM59 -56h1v1h-1z"/>
<path fill="#cd8caa" d="M53 -43h1v1h-1zM54 -43h1v1h-1zM50 -45h1v1h-1zM53 -46h1v1h-1zM54 -46h1v1h-1zM69 -47h1v1h-1zM56 -49h1v1h-1zM68 -49h1v1h-1zM60 -50h1v1h-1zM64 -50h1v1h-1zM62 -54h1v1h-1zM68 -56h1v1h-1zM69 -69h1v1h-1z"/>
<path fill="#cd91af" d="M55 -43h1v1h-1zM65 -43h1v1h-1zM69 -43h1v1h-1zM49 -45h1v1h-1zM56 -45h1v1h-1zM62 -45h1v1h-1zM48 -47h1v1h-1zM54 -50h1v1h-1zM62 -56h1v1h-1zM63 -59h1v1h-1z"/>
<path fill="#c8a5c8" d="M56 -43h1v1h-1zM57 -46h1v1h-1zM56 -47h1v1h-1zM68 -59h1v1h-1z"/>
<path fill="#c3a5cd" d="M57 -43h1v1h-1z"/>
<path fill="#c8a0c3" d="M58 -43h1v1h-1zM62 -43h1v1h-1zM50 -46h1v1h-1zM68 -63h1v1h-1z"/>
<path fill="#d28caa" d="M59 -43h1v1h-1zM59 -57h1v1h-1z"/>
<path fill="#cd82a0" d="M60 -43h1v1h-1zM45 -45h1v1h-1zM47 -45h1v1h-1zM66 -45h1v1h-1zM69 -46h1v1h-1zM70 -46h1v1h-1zM53 -47h1v1h-1zM54 -47h1v1h-1zM55 -50h1v1h-1zM69 -51h1v1h-1zM60 -58h1v1h-1zM69 -58h1v1h-1zM69 -63h1v1h-1zM72 -69h1v1h-1z"/>
<path fill="#d28ca5" d="M61 -43h1v1h-1zM61 -46h1v1h-1zM63 -48h1v1h-1zM73 -48h1v1h-1zM61 -57h1v1h-1zM70 -57h1v1h-1zM70 -67h1v1h-1z"/>
<path fill="#cd829b" d="M63 -43h1v1h-1zM64 -48h1v1h-1zM66 -49h1v1h-1zM69 -50h1v1h-1z"/>
<path fill="#cd9bb9" d="M64 -43h1v1h-1zM58 -45h1v1h-1zM70 -59h1v1h-1zM68 -65h1v1h-1z"/>
<path fill="#d2697d" d="M67 -43h1v1h-1zM71 -45h1v1h-1zM64 -52h1v1h-1zM71 -54h1v1h-1zM63 -55h1v1h-1zM73 -55h1v1h-1zM71 -67h1v1h-1zM73 -71h1v1h-1z"/>
<path fill="#cd7d9b" d="M70 -43h1v1h-1zM66 -48h1v1h-1zM53 -50h1v1h-1zM72 -58h1v1h-1zM70 -63h1v1h-1z"/>
<path fill="#d27d96" d="M71 -43h1v1h-1zM51 -47h1v1h-1zM71 -47h1v1h-1zM71 -51h1v1h-1zM68 -52h1v1h-1zM64 -55h1v1h-1zM66 -55h1v1h-1zM59 -58h1v1h-1z"/>
<path fill="#e1d7e6" d="M48 -44h1v1h-1z"/>
<path fill="#d2738c" d="M48 -45h1v1h-1zM60 -45h1v1h-1zM70 -45h1v1h-1zM52 -46h1v1h-1zM64 -49h1v1h-1zM66 -53h1v1h-1zM70 -54h1v1h-1zM67 -59h1v1h-1z"/>
<path fill="#d2647d" d="M51 -45h1v1h-1zM67 -46h1v1h-1zM52 -48h1v1h-1zM59 -48h1v1h-1zM51 -49h1v1h-1zM64 -53h1v1h-1zM69 -55h1v1h-1z"/>
<path fill="#d7829b" d="M52 -45h1v1h-1z"/>
<path fill="#d287a0" d="M53 -45h1v1h-1zM63 -45h1v1h-1zM61 -47h1v1h-1zM69 -49h1v1h-1zM70 -50h1v1h-1zM73 -51h1v1h-1zM66 -52h1v1h-1zM64 -54h1v1h-1zM66 -54h1v1h-1zM64 -56h1v1h-1zM61 -59h1v1h-1zM69 -65h1v1h-1zM68 -68h1v1h-1z"/>
<path fill="#d26982" d="M54 -45h1v1h-1zM67 -45h1v1h-1zM71 -49h1v1h-1zM67 -50h1v1h-1zM71 -57h1v1h-1zM70 -65h1v1h-1zM71 -65h1v1h-1z"/>
<path fill="#cd87a5" d="M57 -45h1v1h-1zM48 -46h1v1h-1zM57 -49h1v1h-1zM58 -49h1v1h-1zM68 -54h1v1h-1zM60 -57h1v1h-1z"/>
<path fill="#d7879b" d="M59 -45h1v1h-1zM69 -60h1v1h-1z"/>
<path fill="#d25069" d="M61 -45h1v1h-1zM54 -49h1v1h-1z"/>
<path fill="#d291af" d="M64 -45h1v1h-1zM63 -51h1v1h-1zM71 -59h1v1h-1z"/>
<path fill="#cd96b9" d="M68 -45h1v1h-1zM50 -47h1v1h-1zM56 -48h1v1h-1zM62 -49h1v1h-1z"/>
<path fill="#c891b4" d="M47 -46h1v1h-1zM68 -47h1v1h-1zM68 -48h1v1h-1zM66 -59h1v1h-1z"/>
<path fill="#c89bc3" d="M49 -46h1v1h-1zM62 -46h1v1h-1zM49 -47h1v1h-1zM62 -59h1v1h-1z"/>
<path fill="#d2829b" d="M51 -46h1v1h-1zM59 -46h1v1h-1zM59 -47h1v1h-1zM55 -48h1v1h-1zM55 -49h1v1h-1zM61 -50h1v1h-1zM59 -51h1v1h-1zM65 -51h1v1h-1zM70 -51h1v1h-1zM62 -52h1v1h-1zM69 -56h1v1h-1zM67 -57h1v1h-1zM61 -58h1v1h-1zM67 -58h1v1h-1zM71 -58h1v1h-1zM59 -59h1v1h-1zM68 -62h1v1h-1zM69 -64h1v1h-1z"/>
<path fill="#c896b9" d="M56 -46h1v1h-1zM58 -48h1v1h-1zM57 -50h1v1h-1zM66 -58h1v1h-1z"/>
<path fill="#cd8ca5" d="M60 -46h1v1h-1zM55 -47h1v1h-1zM64 -51h1v1h-1zM66 -56h1v1h-1zM60 -59h1v1h-1z"/>
<path fill="#cd9bbe" d="M47 -47h1v1h-1zM64 -57h1v1h-1zM64 -58h1v1h-1z"/>
<path fill="#d26e87" d="M52 -47h1v1h-1zM51 -48h1v1h-1zM70 -48h1v1h-1zM71 -50h1v1h-1zM67 -51h1v1h-1zM60 -55h1v1h-1zM71 -63h1v1h-1z"/>
<path fill="#cd738c" d="M60 -47h1v1h-1zM69 -48h1v1h-1z"/>
<path fill="#cd8caf" d="M66 -47h1v1h-1z"/>
<path fill="#d25f78" d="M67 -47h1v1h-1zM54 -48h1v1h-1zM71 -48h1v1h-1zM70 -56h1v1h-1z"/>
<path fill="#dc5f6e" d="M50 -48h1v1h-1zM55 -54h1v1h-1zM58 -57h1v1h-1zM79 -77h1v1h-1zM82 -77h1v1h-1zM90 -77h1v1h-1zM81 -81h1v1h-1zM87 -81h1v1h-1zM90 -81h1v1h-1zM90 -82h1v1h-1zM89 -84h1v1h-1z"/>
<path fill="#d296af" d="M53 -48h1v1h-1z"/>
<path fill="#d26478" d="M52 -49h1v1h-1zM63 -52h1v1h-1zM71 -56h1v1h-1z"/>
<path fill="#d27d91" d="M53 -49h1v1h-1zM63 -49h1v1h-1zM60 -56h1v1h-1z"/>
<path fill="#d77d96" d="M59 -49h1v1h-1z"/>
<path fill="#d2879b" d="M60 -49h1v1h-1z"/>
<path fill="#d7738c" d="M61 -49h1v1h-1z"/>
<path fill="#d76e82" d="M67 -49h1v1h-1zM59 -53h1v1h-1zM69 -53h1v1h-1z"/>
<path fill="#d27387" d="M52 -50h1v1h-1zM62 -53h1v1h-1zM68 -60h1v1h-1zM70 -61h1v1h-1z"/>
<path fill="#cd7d96" d="M63 -50h1v1h-1zM65 -57h1v1h-1z"/>
<path fill="#c89bb9" d="M66 -50h1v1h-1zM68 -67h1v1h-1z"/>
<path fill="#dc6973" d="M53 -51h1v1h-1zM53 -52h1v1h-1zM65 -63h1v1h-1zM89 -82h1v1h-1z"/>
<path fill="#cd87aa" d="M68 -51h1v1h-1z"/>
<path fill="#d77d91" d="M59 -52h1v1h-1zM69 -52h1v1h-1zM61 -56h1v1h-1z"/>
<path fill="#d24155" d="M61 -52h1v1h-1z"/>
<path fill="#d24b5a" d="M67 -52h1v1h-1z"/>
<path fill="#d25064" d="M70 -52h1v1h-1zM59 -55h1v1h-1zM71 -61h1v1h-1z"/>
<path fill="#d24655" d="M71 -52h1v1h-1z"/>
<path fill="#dc5f69" d="M58 -53h1v1h-1zM54 -54h1v1h-1zM67 -60h1v1h-1zM64 -61h1v1h-1zM63 -63h1v1h-1zM86 -82h1v1h-1z"/>
<path fill="#d75a6e" d="M61 -53h1v1h-1z"/>
<path fill="#d24150" d="M67 -53h1v1h-1z"/>
<path fill="#d75f73" d="M71 -53h1v1h-1z"/>
<path fill="#e1d2e1" d="M74 -53h1v1h-1zM86 -71h1v1h-1z"/>
<path fill="#cdcdeb" d="M75 -53h1v1h-1zM83 -55h1v1h-1z"/>
<path fill="#c8b9e1" d="M80 -53h1v1h-1z"/>
<path fill="#d2c8eb" d="M86 -53h1v1h-1zM89 -53h1v1h-1z"/>
<path fill="#d25f73" d="M59 -54h1v1h-1zM61 -55h1v1h-1zM71 -55h1v1h-1z"/>
<path fill="#d2788c" d="M60 -54h1v1h-1zM63 -54h1v1h-1zM70 -55h1v1h-1zM63 -56h1v1h-1z"/>
<path fill="#d787a0" d="M61 -54h1v1h-1z"/>
<path fill="#d7788c" d="M67 -54h1v1h-1zM71 -62h1v1h-1zM72 -62h1v1h-1z"/>
<path fill="#cd192d" d="M55 -55h1v1h-1z"/>
<path fill="#d7505a" d="M58 -55h1v1h-1zM90 -79h1v1h-1zM80 -80h1v1h-1z"/>
<path fill="#cd7891" d="M62 -55h1v1h-1zM63 -58h1v1h-1zM70 -58h1v1h-1zM68 -61h1v1h-1zM70 -69h1v1h-1z"/>
<path fill="#d23c50" d="M67 -55h1v1h-1z"/>
<path fill="#cd91aa" d="M68 -55h1v1h-1zM63 -57h1v1h-1zM73 -58h1v1h-1z"/>
<path fill="#d7cde6" d="M77 -55h1v1h-1zM83 -64h1v1h-1z"/>
<path fill="#d2c8e6" d="M81 -55h1v1h-1zM83 -63h1v1h-1z"/>
<path fill="#d77387" d="M67 -56h1v1h-1zM73 -62h1v1h-1z"/>
<path fill="#c896be" d="M62 -58h1v1h-1z"/>
<path fill="#cd96af" d="M65 -58h1v1h-1z"/>
<path fill="#e1d7f0" d="M81 -58h1v1h-1zM86 -74h1v1h-1z"/>
<path fill="#cda0c3" d="M64 -59h1v1h-1z"/>
<path fill="#d25569" d="M71 -60h1v1h-1z"/>
<path fill="#d78296" d="M69 -62h1v1h-1z"/>
<path fill="#d25564" d="M70 -62h1v1h-1z"/>
<path fill="#c3bee6" d="M73 -63h1v1h-1z"/>
<path fill="#dcc3dc" d="M77 -63h1v1h-1z"/>
<path fill="#dc555f" d="M66 -64h1v1h-1z"/>
<path fill="#cd87a0" d="M68 -64h1v1h-1z"/>
<path fill="#d25a6e" d="M71 -64h1v1h-1zM69 -68h1v1h-1zM73 -72h1v1h-1z"/>
<path fill="#d7c8e6" d="M73 -64h1v1h-1z"/>
<path fill="#d2bee1" d="M80 -64h1v1h-1z"/>
<path fill="#e1dceb" d="M80 -65h1v1h-1zM87 -69h1v1h-1z"/>
<path fill="#d75f6e" d="M71 -68h1v1h-1z"/>
<path fill="#d76478" d="M73 -68h1v1h-1z"/>
<path fill="#ebaaaf" d="M76 -68h1v1h-1z"/>
<path fill="#f5d2dc" d="M79 -68h1v1h-1z"/>
<path fill="#e6b4be" d="M76 -69h1v1h-1z"/>
<path fill="#9b3c4b" d="M70 -70h1v1h-1z"/>
<path fill="#a04150" d="M71 -70h1v1h-1z"/>
<path fill="#dcaabe" d="M80 -71h1v1h-1z"/>
<path fill="#e1a5b9" d="M81 -71h1v1h-1z"/>
<path fill="#e1b9cd" d="M83 -71h1v1h-1z"/>
<path fill="#e1b4c3" d="M75 -72h1v1h-1zM81 -72h1v1h-1zM92 -90h1v1h-1z"/>
<path fill="#e6c3cd" d="M73 -73h1v1h-1zM80 -75h1v1h-1z"/>
<path fill="#e19ba5" d="M74 -74h1v1h-1z"/>
<path fill="#d79bb4" d="M75 -74h1v1h-1z"/>
<path fill="#ebbecd" d="M83 -75h1v1h-1z"/>
<path fill="#ebc8cd" d="M87 -75h1v1h-1z"/>
<path fill="#d73c50" d="M88 -78h1v1h-1z"/>
<path fill="#cd1928" d="M84 -79h1v1h-1z"/>
<path fill="#d7555f" d="M89 -79h1v1h-1z"/>
<path fill="#d22d41" d="M82 -82h1v1h-1zM86 -86h1v1h-1z"/>
<path fill="#e18c9b" d="M94 -90h1v1h-1z"/>
<path d="M33 -32 L39 -32 L39 -38" fill="none" stroke="#401020" stroke-width="0.3"/>
<path d="M40 -39 L45 -39 L45 -44" fill="none" stroke="#401020" stroke-width="0.3"/>
<path d="M51 -50 L59 -50 L59 -58" fill="none" stroke="#401020" stroke-width="0.3"/>
<path d="M60 -59 L68 -59 L68 -67" fill="none" stroke="#401020" stroke-width="0.3"/>
<path d="M77 -76 L92 -76 L92 -91" fill="none" stroke="#401020" stroke-width="0.3"/>
<path d="M25 -24 L30 -24 L30 -29" fill="none" stroke="#401020" stroke-width="0.3"/>
<path d="M47 -46 L51 -46 L51 -50" fill="none" stroke="#401020" stroke-width="0.3"/>
<path d="M79 -78 L85 -78 L85 -84" fill="none" stroke="#401020" stroke-width="0.3"/>
<path d="M86 -85 L91 -85 L91 -90" fill="none" stroke="#401020" stroke-width="0.3"/>
</g></g></g>
<text transform="translate(320.8,41.1) scale(0.9,1)" font-size="14.2" font-weight="bold" font-family="Liberation Sans, sans-serif" fill="#111">B</text>
<polygon points="368.3,181.8 368.8,181.6 369.3,181.3 369.8,181.1 370.3,180.3 370.8,179.1 371.3,177.9 371.8,176.7 372.3,175.5 372.8,173.8 373.3,171.8 373.8,169.8 374.3,167.8 374.8,165.8 375.3,163.8 375.8,161.8 376.3,159.8 376.8,157.8 377.3,155.8 377.8,153.2 378.3,150.2 378.8,147.2 379.3,144.2 379.8,141.2 380.3,137.6 380.8,133.6 381.3,129.6 381.8,126.0 382.3,122.7 382.8,119.3 383.3,116.5 383.8,114.0 384.3,111.2 384.8,107.5 385.3,103.7 385.8,100.0 386.3,91.7 386.8,83.7 387.3,77.5 387.8,72.4 388.3,75.0 388.8,78.6 389.3,82.1 389.8,85.9 390.3,90.5 390.8,95.0 391.3,100.6 391.8,106.9 392.3,116.3 392.8,121.8 393.3,124.8 393.8,127.8 394.3,130.8 394.8,133.8 395.3,136.8 395.8,139.8 396.3,142.8 396.8,145.8 397.3,148.8 397.8,151.2 398.3,153.2 398.8,155.2 399.3,157.2 399.8,159.2 400.3,161.2 400.8,163.2 401.3,165.2 401.8,167.2 402.3,169.2 402.8,170.8 403.3,172.2 403.8,173.6 404.3,175.0 404.8,176.4 405.3,177.2 405.8,177.6 406.3,178.0 406.8,178.4 407.3,178.8 407.8,179.2 408.3,179.6 408.8,180.0 409.3,180.4 409.8,180.8 410.3,181.0 410.8,181.1 411.3,181.2 411.8,181.3 412,182 368.3,182" fill="#dcdcdc"/>
<polyline points="368,182 370,181 372.5,175 375,165 377.5,155 380,140 381.5,128 383,118 384.2,112 385.8,100 386.7,85 387.5,75 388.3,68 389,68.5 390,75 392.5,90 394.2,100 395,110 396.7,122 399.2,135 401.7,150 404.2,165 406.7,172 410,175 413.3,178 416.7,181 420,182" fill="none" stroke="#111" stroke-width="1" stroke-dasharray="1.1,1.1"/>
<polyline points="356.7,182 361.7,181 365,178 368.3,170 370.8,160 373.3,150 375,140 376.7,130 377.5,122 379.2,105 380.8,85 381.7,75 383,68 384.2,66.7 385.3,68.3 386.3,66.3 387.5,68.5 388.3,75 389.7,85 390.8,95 391.7,105 392.5,120 395,135 397.5,150 400,160 402.5,170 405,177 410,181 416.7,182 420,181.6 422,180.8 424,181.5 426,180.6 428,181.4 430,180.5 432,181.2 434,180.7 436,181.5 440,181.8 446,181.9" fill="none" stroke="#111" stroke-width="1.15"/>
<rect x="357" y="31.7" width="153.5" height="150.3" fill="none" stroke="#777" stroke-width="0.9"/>
<line x1="353" y1="182.0" x2="357" y2="182.0" stroke="#777" stroke-width="0.7"/>
<line x1="355" y1="171.6" x2="357" y2="171.6" stroke="#777" stroke-width="0.7"/>
<line x1="355" y1="161.2" x2="357" y2="161.2" stroke="#777" stroke-width="0.7"/>
<line x1="355" y1="150.8" x2="357" y2="150.8" stroke="#777" stroke-width="0.7"/>
<line x1="353" y1="140.4" x2="357" y2="140.4" stroke="#777" stroke-width="0.7"/>
<line x1="355" y1="130.0" x2="357" y2="130.0" stroke="#777" stroke-width="0.7"/>
<line x1="355" y1="119.6" x2="357" y2="119.6" stroke="#777" stroke-width="0.7"/>
<line x1="355" y1="109.2" x2="357" y2="109.2" stroke="#777" stroke-width="0.7"/>
<line x1="353" y1="98.8" x2="357" y2="98.8" stroke="#777" stroke-width="0.7"/>
<line x1="355" y1="88.4" x2="357" y2="88.4" stroke="#777" stroke-width="0.7"/>
<line x1="355" y1="78.0" x2="357" y2="78.0" stroke="#777" stroke-width="0.7"/>
<line x1="355" y1="67.6" x2="357" y2="67.6" stroke="#777" stroke-width="0.7"/>
<line x1="353" y1="57.2" x2="357" y2="57.2" stroke="#777" stroke-width="0.7"/>
<line x1="355" y1="46.8" x2="357" y2="46.8" stroke="#777" stroke-width="0.7"/>
<line x1="355" y1="36.4" x2="357" y2="36.4" stroke="#777" stroke-width="0.7"/>
<text x="350" y="184.7" font-size="7.6" text-anchor="end" font-family="Liberation Sans, sans-serif" fill="#1a1a1a">0</text>
<text x="350" y="143.1" font-size="7.6" text-anchor="end" font-family="Liberation Sans, sans-serif" fill="#1a1a1a">20</text>
<text x="350" y="101.5" font-size="7.6" text-anchor="end" font-family="Liberation Sans, sans-serif" fill="#1a1a1a">40</text>
<text x="350" y="59.9" font-size="7.6" text-anchor="end" font-family="Liberation Sans, sans-serif" fill="#1a1a1a">60</text>
<line x1="356.6" y1="182" x2="356.6" y2="186" stroke="#777" stroke-width="0.7"/>
<line x1="368.2" y1="182" x2="368.2" y2="184" stroke="#777" stroke-width="0.7"/>
<line x1="375.0" y1="182" x2="375.0" y2="184" stroke="#777" stroke-width="0.7"/>
<line x1="379.8" y1="182" x2="379.8" y2="184" stroke="#777" stroke-width="0.7"/>
<line x1="383.6" y1="182" x2="383.6" y2="184" stroke="#777" stroke-width="0.7"/>
<line x1="386.6" y1="182" x2="386.6" y2="184" stroke="#777" stroke-width="0.7"/>
<line x1="389.2" y1="182" x2="389.2" y2="184" stroke="#777" stroke-width="0.7"/>
<line x1="391.5" y1="182" x2="391.5" y2="184" stroke="#777" stroke-width="0.7"/>
<line x1="393.4" y1="182" x2="393.4" y2="184" stroke="#777" stroke-width="0.7"/>
<line x1="395.2" y1="182" x2="395.2" y2="186" stroke="#777" stroke-width="0.7"/>
<line x1="406.8" y1="182" x2="406.8" y2="184" stroke="#777" stroke-width="0.7"/>
<line x1="413.6" y1="182" x2="413.6" y2="184" stroke="#777" stroke-width="0.7"/>
<line x1="418.4" y1="182" x2="418.4" y2="184" stroke="#777" stroke-width="0.7"/>
<line x1="422.2" y1="182" x2="422.2" y2="184" stroke="#777" stroke-width="0.7"/>
<line x1="425.2" y1="182" x2="425.2" y2="184" stroke="#777" stroke-width="0.7"/>
<line x1="427.8" y1="182" x2="427.8" y2="184" stroke="#777" stroke-width="0.7"/>
<line x1="430.1" y1="182" x2="430.1" y2="184" stroke="#777" stroke-width="0.7"/>
<line x1="432.0" y1="182" x2="432.0" y2="184" stroke="#777" stroke-width="0.7"/>
<line x1="433.8" y1="182" x2="433.8" y2="186" stroke="#777" stroke-width="0.7"/>
<line x1="445.4" y1="182" x2="445.4" y2="184" stroke="#777" stroke-width="0.7"/>
<line x1="452.2" y1="182" x2="452.2" y2="184" stroke="#777" stroke-width="0.7"/>
<line x1="457.0" y1="182" x2="457.0" y2="184" stroke="#777" stroke-width="0.7"/>
<line x1="460.8" y1="182" x2="460.8" y2="184" stroke="#777" stroke-width="0.7"/>
<line x1="463.8" y1="182" x2="463.8" y2="184" stroke="#777" stroke-width="0.7"/>
<line x1="466.4" y1="182" x2="466.4" y2="184" stroke="#777" stroke-width="0.7"/>
<line x1="468.7" y1="182" x2="468.7" y2="184" stroke="#777" stroke-width="0.7"/>
<line x1="470.6" y1="182" x2="470.6" y2="184" stroke="#777" stroke-width="0.7"/>
<line x1="472.4" y1="182" x2="472.4" y2="186" stroke="#777" stroke-width="0.7"/>
<line x1="484.0" y1="182" x2="484.0" y2="184" stroke="#777" stroke-width="0.7"/>
<line x1="490.8" y1="182" x2="490.8" y2="184" stroke="#777" stroke-width="0.7"/>
<line x1="495.6" y1="182" x2="495.6" y2="184" stroke="#777" stroke-width="0.7"/>
<line x1="499.4" y1="182" x2="499.4" y2="184" stroke="#777" stroke-width="0.7"/>
<line x1="502.4" y1="182" x2="502.4" y2="184" stroke="#777" stroke-width="0.7"/>
<line x1="505.0" y1="182" x2="505.0" y2="184" stroke="#777" stroke-width="0.7"/>
<line x1="507.3" y1="182" x2="507.3" y2="184" stroke="#777" stroke-width="0.7"/>
<line x1="509.2" y1="182" x2="509.2" y2="184" stroke="#777" stroke-width="0.7"/>
<text x="353.0" y="199.4" font-size="7.6" font-family="Liberation Sans, sans-serif" fill="#1a1a1a">10<tspan font-size="5.8" dy="-4.9">0</tspan></text>
<text x="391.6" y="199.4" font-size="7.6" font-family="Liberation Sans, sans-serif" fill="#1a1a1a">10<tspan font-size="5.8" dy="-4.9">1</tspan></text>
<text x="430.2" y="199.4" font-size="7.6" font-family="Liberation Sans, sans-serif" fill="#1a1a1a">10<tspan font-size="5.8" dy="-4.9">2</tspan></text>
<text x="468.8" y="199.4" font-size="7.6" font-family="Liberation Sans, sans-serif" fill="#1a1a1a">10<tspan font-size="5.8" dy="-4.9">3</tspan></text>
<text x="417" y="210.2" font-size="7.2" text-anchor="middle" font-family="Liberation Sans, sans-serif" fill="#111" stroke="#111" stroke-width="0.15">FITC-VAV3 Binding</text>
<text transform="translate(326,107) rotate(-90)" font-size="7" text-anchor="middle" font-family="Liberation Sans, sans-serif" fill="#111" stroke="#111" stroke-width="0.12">Events</text>
<text x="320.2" y="248.9" font-size="13.4" font-weight="bold" font-family="Liberation Sans, sans-serif" fill="#111">C</text>
<text x="427" y="246.3" font-size="10" font-weight="bold" text-anchor="middle" font-family="Liberation Sans, sans-serif" fill="#111"><tspan font-style="italic">P</tspan> = .03</text>
<line x1="388" y1="250.5" x2="477.7" y2="250.5" stroke="#111" stroke-width="2.2"/>
<path d="M347.8 262.8 H350.2 V374.7 H518.8" fill="none" stroke="#111" stroke-width="2"/>
<line x1="347" y1="374.7" x2="350.2" y2="374.7" stroke="#111" stroke-width="1.6"/>
<text x="343.6" y="378.5" font-size="10.5" font-weight="bold" text-anchor="end" font-family="Liberation Sans, sans-serif" fill="#111">0</text>
<line x1="347" y1="337.4" x2="350.2" y2="337.4" stroke="#111" stroke-width="1.6"/>
<text x="343.6" y="341.2" font-size="10.5" font-weight="bold" text-anchor="end" font-family="Liberation Sans, sans-serif" fill="#111">1</text>
<line x1="347" y1="300.1" x2="350.2" y2="300.1" stroke="#111" stroke-width="1.6"/>
<text x="343.6" y="303.9" font-size="10.5" font-weight="bold" text-anchor="end" font-family="Liberation Sans, sans-serif" fill="#111">2</text>
<line x1="347" y1="262.8" x2="350.2" y2="262.8" stroke="#111" stroke-width="1.6"/>
<text x="343.6" y="266.6" font-size="10.5" font-weight="bold" text-anchor="end" font-family="Liberation Sans, sans-serif" fill="#111">3</text>
<line x1="392.9" y1="374.7" x2="392.9" y2="377.5" stroke="#111" stroke-width="1.6"/>
<line x1="476.9" y1="374.7" x2="476.9" y2="377.5" stroke="#111" stroke-width="1.6"/>
<text x="392" y="388.5" font-size="9.5" font-weight="bold" text-anchor="middle" font-family="Liberation Sans, sans-serif" fill="#111">GG</text>
<text x="475.5" y="388.5" font-size="9.5" font-weight="bold" text-anchor="middle" font-family="Liberation Sans, sans-serif" fill="#111">GA</text>
<text transform="translate(329.3,314) rotate(-90)" font-size="9" font-weight="bold" text-anchor="middle" font-family="Liberation Sans, sans-serif" fill="#111">MFI</text>
<line x1="364.7" y1="311" x2="420.6" y2="311" stroke="#333" stroke-width="1.5"/>
<line x1="449.8" y1="294.6" x2="504.6" y2="294.6" stroke="#333" stroke-width="1.5"/>
<circle cx="386.6" cy="294.6" r="2.1" fill="#111"/>
<circle cx="392.8" cy="296.8" r="2.1" fill="#111"/>
<circle cx="385.9" cy="303" r="2.1" fill="#111"/>
<circle cx="392.8" cy="305.5" r="2.1" fill="#111"/>
<circle cx="399.4" cy="305.5" r="2.1" fill="#111"/>
<circle cx="386.6" cy="314" r="2.1" fill="#111"/>
<circle cx="392.8" cy="315.8" r="2.1" fill="#111"/>
<circle cx="392.8" cy="332.2" r="2.1" fill="#111"/>
<circle cx="399.4" cy="330.4" r="2.1" fill="#111"/>
<circle cx="476.1" cy="268.3" r="2.1" fill="#111"/>
<circle cx="470" cy="279.2" r="2.1" fill="#111"/>
<circle cx="476.1" cy="286.5" r="2.1" fill="#111"/>
<circle cx="482.7" cy="286.5" r="2.1" fill="#111"/>
<circle cx="470" cy="304.8" r="2.1" fill="#111"/>
<circle cx="476.1" cy="307.7" r="2.1" fill="#111"/>
<circle cx="482.7" cy="303" r="2.1" fill="#111"/>
<circle cx="476.1" cy="317.6" r="2.1" fill="#111"/>
</svg>
</body></html>
